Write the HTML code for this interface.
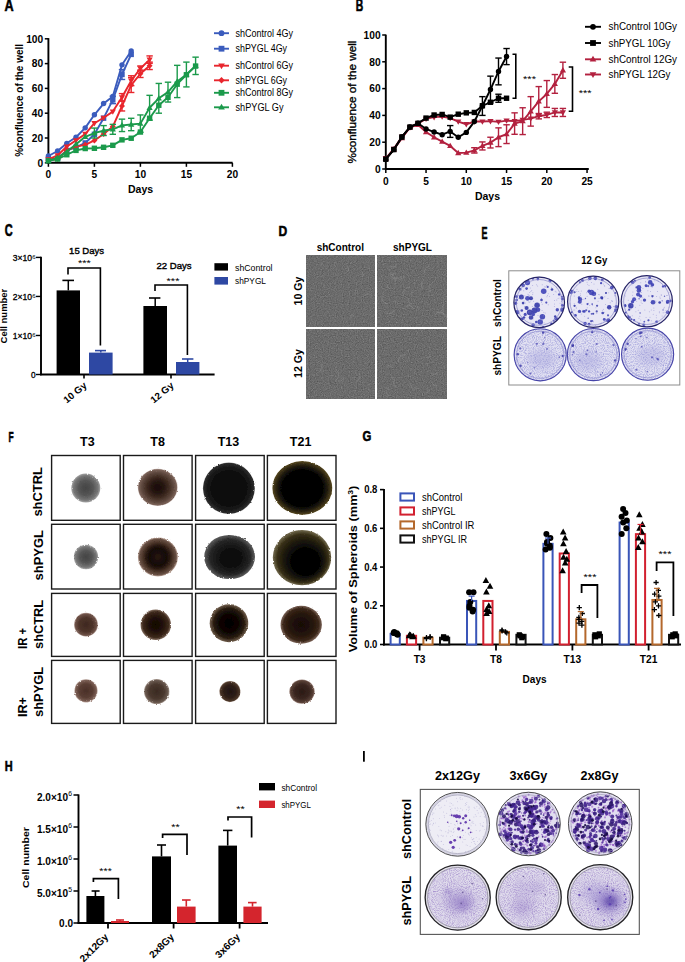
<!DOCTYPE html>
<html><head><meta charset="utf-8"><style>html,body{margin:0;padding:0;background:#fff;overflow:hidden}svg{display:block}</style></head>
<body><svg width="685" height="962" viewBox="0 0 685 962" font-family="Liberation Sans">
<rect width="685" height="962" fill="#fff"/>
<text x="0" y="0" font-size="100" font-weight="bold" stroke="#000" stroke-width="3.46" transform="matrix(0.12639 0 0 0.16232 4.400 11.100)">A</text>
<line x1="48.40" y1="38.10" x2="48.40" y2="163.60" stroke="#000" stroke-width="1.9"/>
<line x1="47.50" y1="162.80" x2="232.60" y2="162.80" stroke="#000" stroke-width="1.9"/>
<line x1="44.80" y1="162.80" x2="48.40" y2="162.80" stroke="#000" stroke-width="1.5"/>
<text x="43.2" y="166.5" font-size="10.2" font-weight="bold" text-anchor="end" fill="#000">0</text>
<line x1="44.80" y1="138.00" x2="48.40" y2="138.00" stroke="#000" stroke-width="1.5"/>
<text x="43.2" y="141.7" font-size="10.2" font-weight="bold" text-anchor="end" fill="#000">20</text>
<line x1="44.80" y1="113.20" x2="48.40" y2="113.20" stroke="#000" stroke-width="1.5"/>
<text x="43.2" y="116.90000000000002" font-size="10.2" font-weight="bold" text-anchor="end" fill="#000">40</text>
<line x1="44.80" y1="88.40" x2="48.40" y2="88.40" stroke="#000" stroke-width="1.5"/>
<text x="43.2" y="92.10000000000001" font-size="10.2" font-weight="bold" text-anchor="end" fill="#000">60</text>
<line x1="44.80" y1="63.60" x2="48.40" y2="63.60" stroke="#000" stroke-width="1.5"/>
<text x="43.2" y="67.30000000000001" font-size="10.2" font-weight="bold" text-anchor="end" fill="#000">80</text>
<line x1="44.80" y1="38.80" x2="48.40" y2="38.80" stroke="#000" stroke-width="1.5"/>
<text x="43.2" y="42.500000000000014" font-size="10.2" font-weight="bold" text-anchor="end" fill="#000">100</text>
<line x1="48.40" y1="162.80" x2="48.40" y2="166.80" stroke="#000" stroke-width="1.5"/>
<text x="48.4" y="177.6" font-size="10.2" font-weight="bold" text-anchor="middle" fill="#000">0</text>
<line x1="94.40" y1="162.80" x2="94.40" y2="166.80" stroke="#000" stroke-width="1.5"/>
<text x="94.4" y="177.6" font-size="10.2" font-weight="bold" text-anchor="middle" fill="#000">5</text>
<line x1="140.40" y1="162.80" x2="140.40" y2="166.80" stroke="#000" stroke-width="1.5"/>
<text x="140.4" y="177.6" font-size="10.2" font-weight="bold" text-anchor="middle" fill="#000">10</text>
<line x1="186.40" y1="162.80" x2="186.40" y2="166.80" stroke="#000" stroke-width="1.5"/>
<text x="186.4" y="177.6" font-size="10.2" font-weight="bold" text-anchor="middle" fill="#000">15</text>
<line x1="232.40" y1="162.80" x2="232.40" y2="166.80" stroke="#000" stroke-width="1.5"/>
<text x="232.4" y="177.6" font-size="10.2" font-weight="bold" text-anchor="middle" fill="#000">20</text>
<text x="140.6" y="192.8" font-size="10.5" font-weight="bold" text-anchor="middle" fill="#000">Days</text>
<text x="22.7" y="156.8" font-size="10.5" font-weight="bold" text-anchor="start" fill="#000" transform="rotate(-90 22.7 156.8)" textLength="112.8" lengthAdjust="spacingAndGlyphs">%confluence of the well</text>
<polyline points="48.40,155.98 57.60,151.02 66.80,143.33 76.00,137.26 85.20,127.83 94.40,114.81 103.60,103.53 112.80,96.46 122.00,64.84 131.20,50.95" fill="none" stroke="#3b5cbd" stroke-width="1.9" stroke-linejoin="round"/>
<circle cx="48.40" cy="155.98" r="2.7" fill="#3b5cbd"/>
<circle cx="57.60" cy="151.02" r="2.7" fill="#3b5cbd"/>
<circle cx="66.80" cy="143.33" r="2.7" fill="#3b5cbd"/>
<circle cx="76.00" cy="137.26" r="2.7" fill="#3b5cbd"/>
<circle cx="85.20" cy="127.83" r="2.7" fill="#3b5cbd"/>
<circle cx="94.40" cy="114.81" r="2.7" fill="#3b5cbd"/>
<circle cx="103.60" cy="103.53" r="2.7" fill="#3b5cbd"/>
<circle cx="112.80" cy="96.46" r="2.7" fill="#3b5cbd"/>
<circle cx="122.00" cy="64.84" r="2.7" fill="#3b5cbd"/>
<circle cx="131.20" cy="50.95" r="2.7" fill="#3b5cbd"/>
<polyline points="48.40,159.08 57.60,158.34 66.80,150.40 76.00,147.30 85.20,142.96 94.40,134.28 103.60,118.16 112.80,99.93 122.00,74.51 131.20,54.42" fill="none" stroke="#3b5cbd" stroke-width="1.9" stroke-linejoin="round"/>
<line x1="112.80" y1="96.21" x2="112.80" y2="103.65" stroke="#3b5cbd" stroke-width="1.4"/>
<line x1="109.60" y1="96.21" x2="116.00" y2="96.21" stroke="#3b5cbd" stroke-width="1.4"/>
<line x1="109.60" y1="103.65" x2="116.00" y2="103.65" stroke="#3b5cbd" stroke-width="1.4"/>
<line x1="122.00" y1="69.55" x2="122.00" y2="79.47" stroke="#3b5cbd" stroke-width="1.4"/>
<line x1="118.80" y1="69.55" x2="125.20" y2="69.55" stroke="#3b5cbd" stroke-width="1.4"/>
<line x1="118.80" y1="79.47" x2="125.20" y2="79.47" stroke="#3b5cbd" stroke-width="1.4"/>
<rect x="45.70" y="156.38" width="5.40" height="5.40" fill="#3b5cbd"/>
<rect x="54.90" y="155.64" width="5.40" height="5.40" fill="#3b5cbd"/>
<rect x="64.10" y="147.70" width="5.40" height="5.40" fill="#3b5cbd"/>
<rect x="73.30" y="144.60" width="5.40" height="5.40" fill="#3b5cbd"/>
<rect x="82.50" y="140.26" width="5.40" height="5.40" fill="#3b5cbd"/>
<rect x="91.70" y="131.58" width="5.40" height="5.40" fill="#3b5cbd"/>
<rect x="100.90" y="115.46" width="5.40" height="5.40" fill="#3b5cbd"/>
<rect x="110.10" y="97.23" width="5.40" height="5.40" fill="#3b5cbd"/>
<rect x="119.30" y="71.81" width="5.40" height="5.40" fill="#3b5cbd"/>
<rect x="128.50" y="51.72" width="5.40" height="5.40" fill="#3b5cbd"/>
<polyline points="48.40,159.45 57.60,155.36 66.80,146.56 76.00,140.36 85.20,134.03 94.40,123.24 103.60,117.79 112.80,111.59 122.00,97.33 131.20,80.71 140.40,68.44 149.60,59.63" fill="none" stroke="#e8262d" stroke-width="1.9" stroke-linejoin="round"/>
<line x1="122.00" y1="93.61" x2="122.00" y2="101.05" stroke="#e8262d" stroke-width="1.4"/>
<line x1="118.80" y1="93.61" x2="125.20" y2="93.61" stroke="#e8262d" stroke-width="1.4"/>
<line x1="118.80" y1="101.05" x2="125.20" y2="101.05" stroke="#e8262d" stroke-width="1.4"/>
<line x1="131.20" y1="75.75" x2="131.20" y2="85.67" stroke="#e8262d" stroke-width="1.4"/>
<line x1="128.00" y1="75.75" x2="134.40" y2="75.75" stroke="#e8262d" stroke-width="1.4"/>
<line x1="128.00" y1="85.67" x2="134.40" y2="85.67" stroke="#e8262d" stroke-width="1.4"/>
<line x1="140.40" y1="65.96" x2="140.40" y2="70.92" stroke="#e8262d" stroke-width="1.4"/>
<line x1="137.20" y1="65.96" x2="143.60" y2="65.96" stroke="#e8262d" stroke-width="1.4"/>
<line x1="137.20" y1="70.92" x2="143.60" y2="70.92" stroke="#e8262d" stroke-width="1.4"/>
<line x1="149.60" y1="55.91" x2="149.60" y2="63.35" stroke="#e8262d" stroke-width="1.4"/>
<line x1="146.40" y1="55.91" x2="152.80" y2="55.91" stroke="#e8262d" stroke-width="1.4"/>
<line x1="146.40" y1="63.35" x2="152.80" y2="63.35" stroke="#e8262d" stroke-width="1.4"/>
<polygon points="48.40,162.69 51.50,157.29 45.30,157.29" fill="#e8262d"/>
<polygon points="57.60,158.60 60.70,153.20 54.49,153.20" fill="#e8262d"/>
<polygon points="66.80,149.80 69.91,144.40 63.70,144.40" fill="#e8262d"/>
<polygon points="76.00,143.60 79.11,138.20 72.89,138.20" fill="#e8262d"/>
<polygon points="85.20,137.27 88.30,131.87 82.09,131.87" fill="#e8262d"/>
<polygon points="94.40,126.48 97.51,121.08 91.30,121.08" fill="#e8262d"/>
<polygon points="103.60,121.03 106.70,115.63 100.49,115.63" fill="#e8262d"/>
<polygon points="112.80,114.83 115.90,109.43 109.69,109.43" fill="#e8262d"/>
<polygon points="122.00,100.57 125.11,95.17 118.89,95.17" fill="#e8262d"/>
<polygon points="131.20,83.95 134.30,78.55 128.09,78.55" fill="#e8262d"/>
<polygon points="140.40,71.68 143.50,66.28 137.30,66.28" fill="#e8262d"/>
<polygon points="149.60,62.87 152.70,57.47 146.50,57.47" fill="#e8262d"/>
<polyline points="48.40,160.32 57.60,159.08 66.80,150.40 76.00,146.68 85.20,144.82 94.40,140.48 103.60,134.03 112.80,126.59 122.00,106.01 131.20,85.05 140.40,73.77 149.60,65.83" fill="none" stroke="#e8262d" stroke-width="1.9" stroke-linejoin="round"/>
<line x1="122.00" y1="101.05" x2="122.00" y2="110.97" stroke="#e8262d" stroke-width="1.4"/>
<line x1="118.80" y1="101.05" x2="125.20" y2="101.05" stroke="#e8262d" stroke-width="1.4"/>
<line x1="118.80" y1="110.97" x2="125.20" y2="110.97" stroke="#e8262d" stroke-width="1.4"/>
<line x1="131.20" y1="77.61" x2="131.20" y2="92.49" stroke="#e8262d" stroke-width="1.4"/>
<line x1="128.00" y1="77.61" x2="134.40" y2="77.61" stroke="#e8262d" stroke-width="1.4"/>
<line x1="128.00" y1="92.49" x2="134.40" y2="92.49" stroke="#e8262d" stroke-width="1.4"/>
<line x1="140.40" y1="70.05" x2="140.40" y2="77.49" stroke="#e8262d" stroke-width="1.4"/>
<line x1="137.20" y1="70.05" x2="143.60" y2="70.05" stroke="#e8262d" stroke-width="1.4"/>
<line x1="137.20" y1="77.49" x2="143.60" y2="77.49" stroke="#e8262d" stroke-width="1.4"/>
<line x1="149.60" y1="62.11" x2="149.60" y2="69.55" stroke="#e8262d" stroke-width="1.4"/>
<line x1="146.40" y1="62.11" x2="152.80" y2="62.11" stroke="#e8262d" stroke-width="1.4"/>
<line x1="146.40" y1="69.55" x2="152.80" y2="69.55" stroke="#e8262d" stroke-width="1.4"/>
<polygon points="48.40,157.35 51.37,160.32 48.40,163.29 45.43,160.32" fill="#e8262d"/>
<polygon points="57.60,156.11 60.57,159.08 57.60,162.05 54.63,159.08" fill="#e8262d"/>
<polygon points="66.80,147.43 69.77,150.40 66.80,153.37 63.83,150.40" fill="#e8262d"/>
<polygon points="76.00,143.71 78.97,146.68 76.00,149.65 73.03,146.68" fill="#e8262d"/>
<polygon points="85.20,141.85 88.17,144.82 85.20,147.79 82.23,144.82" fill="#e8262d"/>
<polygon points="94.40,137.51 97.37,140.48 94.40,143.45 91.43,140.48" fill="#e8262d"/>
<polygon points="103.60,131.06 106.57,134.03 103.60,137.00 100.63,134.03" fill="#e8262d"/>
<polygon points="112.80,123.62 115.77,126.59 112.80,129.56 109.83,126.59" fill="#e8262d"/>
<polygon points="122.00,103.04 124.97,106.01 122.00,108.98 119.03,106.01" fill="#e8262d"/>
<polygon points="131.20,82.08 134.17,85.05 131.20,88.02 128.23,85.05" fill="#e8262d"/>
<polygon points="140.40,70.80 143.37,73.77 140.40,76.74 137.43,73.77" fill="#e8262d"/>
<polygon points="149.60,62.86 152.57,65.83 149.60,68.80 146.63,65.83" fill="#e8262d"/>
<polyline points="48.40,160.82 57.60,159.08 66.80,154.74 76.00,150.40 85.20,148.54 94.40,148.29 103.60,147.30 112.80,145.32 122.00,139.86 131.20,138.25 140.40,132.05 149.60,118.28 158.80,105.26 168.00,97.33 177.20,84.18 186.40,74.76 195.60,66.08" fill="none" stroke="#1b9a4b" stroke-width="1.9" stroke-linejoin="round"/>
<rect x="45.70" y="158.12" width="5.40" height="5.40" fill="#1b9a4b"/>
<rect x="54.90" y="156.38" width="5.40" height="5.40" fill="#1b9a4b"/>
<rect x="64.10" y="152.04" width="5.40" height="5.40" fill="#1b9a4b"/>
<rect x="73.30" y="147.70" width="5.40" height="5.40" fill="#1b9a4b"/>
<rect x="82.50" y="145.84" width="5.40" height="5.40" fill="#1b9a4b"/>
<rect x="91.70" y="145.59" width="5.40" height="5.40" fill="#1b9a4b"/>
<rect x="100.90" y="144.60" width="5.40" height="5.40" fill="#1b9a4b"/>
<rect x="110.10" y="142.62" width="5.40" height="5.40" fill="#1b9a4b"/>
<rect x="119.30" y="137.16" width="5.40" height="5.40" fill="#1b9a4b"/>
<rect x="128.50" y="135.55" width="5.40" height="5.40" fill="#1b9a4b"/>
<rect x="137.70" y="129.35" width="5.40" height="5.40" fill="#1b9a4b"/>
<rect x="146.90" y="115.58" width="5.40" height="5.40" fill="#1b9a4b"/>
<rect x="156.10" y="102.56" width="5.40" height="5.40" fill="#1b9a4b"/>
<rect x="165.30" y="94.63" width="5.40" height="5.40" fill="#1b9a4b"/>
<rect x="174.50" y="81.48" width="5.40" height="5.40" fill="#1b9a4b"/>
<rect x="183.70" y="72.06" width="5.40" height="5.40" fill="#1b9a4b"/>
<rect x="192.90" y="63.38" width="5.40" height="5.40" fill="#1b9a4b"/>
<polyline points="48.40,160.82 57.60,157.84 66.80,151.64 76.00,144.20 85.20,136.76 94.40,133.04 103.60,130.56 112.80,129.32 122.00,125.35 131.20,124.48 140.40,123.62 149.60,107.74 158.80,98.32 168.00,92.12 177.20,81.46 186.40,74.51 195.60,65.83" fill="none" stroke="#1b9a4b" stroke-width="1.9" stroke-linejoin="round"/>
<line x1="94.40" y1="128.08" x2="94.40" y2="138.00" stroke="#1b9a4b" stroke-width="1.4"/>
<line x1="91.20" y1="128.08" x2="97.60" y2="128.08" stroke="#1b9a4b" stroke-width="1.4"/>
<line x1="91.20" y1="138.00" x2="97.60" y2="138.00" stroke="#1b9a4b" stroke-width="1.4"/>
<line x1="103.60" y1="125.60" x2="103.60" y2="135.52" stroke="#1b9a4b" stroke-width="1.4"/>
<line x1="100.40" y1="125.60" x2="106.80" y2="125.60" stroke="#1b9a4b" stroke-width="1.4"/>
<line x1="100.40" y1="135.52" x2="106.80" y2="135.52" stroke="#1b9a4b" stroke-width="1.4"/>
<line x1="112.80" y1="124.36" x2="112.80" y2="134.28" stroke="#1b9a4b" stroke-width="1.4"/>
<line x1="109.60" y1="124.36" x2="116.00" y2="124.36" stroke="#1b9a4b" stroke-width="1.4"/>
<line x1="109.60" y1="134.28" x2="116.00" y2="134.28" stroke="#1b9a4b" stroke-width="1.4"/>
<line x1="122.00" y1="119.15" x2="122.00" y2="131.55" stroke="#1b9a4b" stroke-width="1.4"/>
<line x1="118.80" y1="119.15" x2="125.20" y2="119.15" stroke="#1b9a4b" stroke-width="1.4"/>
<line x1="118.80" y1="131.55" x2="125.20" y2="131.55" stroke="#1b9a4b" stroke-width="1.4"/>
<line x1="131.20" y1="118.28" x2="131.20" y2="130.68" stroke="#1b9a4b" stroke-width="1.4"/>
<line x1="128.00" y1="118.28" x2="134.40" y2="118.28" stroke="#1b9a4b" stroke-width="1.4"/>
<line x1="128.00" y1="130.68" x2="134.40" y2="130.68" stroke="#1b9a4b" stroke-width="1.4"/>
<line x1="140.40" y1="114.94" x2="140.40" y2="132.30" stroke="#1b9a4b" stroke-width="1.4"/>
<line x1="137.20" y1="114.94" x2="143.60" y2="114.94" stroke="#1b9a4b" stroke-width="1.4"/>
<line x1="137.20" y1="132.30" x2="143.60" y2="132.30" stroke="#1b9a4b" stroke-width="1.4"/>
<line x1="149.60" y1="95.34" x2="149.60" y2="120.14" stroke="#1b9a4b" stroke-width="1.4"/>
<line x1="146.40" y1="95.34" x2="152.80" y2="95.34" stroke="#1b9a4b" stroke-width="1.4"/>
<line x1="146.40" y1="120.14" x2="152.80" y2="120.14" stroke="#1b9a4b" stroke-width="1.4"/>
<line x1="158.80" y1="83.44" x2="158.80" y2="113.20" stroke="#1b9a4b" stroke-width="1.4"/>
<line x1="155.60" y1="83.44" x2="162.00" y2="83.44" stroke="#1b9a4b" stroke-width="1.4"/>
<line x1="155.60" y1="113.20" x2="162.00" y2="113.20" stroke="#1b9a4b" stroke-width="1.4"/>
<line x1="168.00" y1="82.20" x2="168.00" y2="102.04" stroke="#1b9a4b" stroke-width="1.4"/>
<line x1="164.80" y1="82.20" x2="171.20" y2="82.20" stroke="#1b9a4b" stroke-width="1.4"/>
<line x1="164.80" y1="102.04" x2="171.20" y2="102.04" stroke="#1b9a4b" stroke-width="1.4"/>
<line x1="177.20" y1="65.34" x2="177.20" y2="97.58" stroke="#1b9a4b" stroke-width="1.4"/>
<line x1="174.00" y1="65.34" x2="180.40" y2="65.34" stroke="#1b9a4b" stroke-width="1.4"/>
<line x1="174.00" y1="97.58" x2="180.40" y2="97.58" stroke="#1b9a4b" stroke-width="1.4"/>
<line x1="186.40" y1="62.11" x2="186.40" y2="86.91" stroke="#1b9a4b" stroke-width="1.4"/>
<line x1="183.20" y1="62.11" x2="189.60" y2="62.11" stroke="#1b9a4b" stroke-width="1.4"/>
<line x1="183.20" y1="86.91" x2="189.60" y2="86.91" stroke="#1b9a4b" stroke-width="1.4"/>
<line x1="195.60" y1="57.15" x2="195.60" y2="74.51" stroke="#1b9a4b" stroke-width="1.4"/>
<line x1="192.40" y1="57.15" x2="198.80" y2="57.15" stroke="#1b9a4b" stroke-width="1.4"/>
<line x1="192.40" y1="74.51" x2="198.80" y2="74.51" stroke="#1b9a4b" stroke-width="1.4"/>
<polygon points="48.40,157.58 51.50,162.98 45.30,162.98" fill="#1b9a4b"/>
<polygon points="57.60,154.60 60.70,160.00 54.49,160.00" fill="#1b9a4b"/>
<polygon points="66.80,148.40 69.91,153.80 63.70,153.80" fill="#1b9a4b"/>
<polygon points="76.00,140.96 79.11,146.36 72.89,146.36" fill="#1b9a4b"/>
<polygon points="85.20,133.52 88.30,138.92 82.09,138.92" fill="#1b9a4b"/>
<polygon points="94.40,129.80 97.51,135.20 91.30,135.20" fill="#1b9a4b"/>
<polygon points="103.60,127.32 106.70,132.72 100.49,132.72" fill="#1b9a4b"/>
<polygon points="112.80,126.08 115.90,131.48 109.69,131.48" fill="#1b9a4b"/>
<polygon points="122.00,122.11 125.11,127.51 118.89,127.51" fill="#1b9a4b"/>
<polygon points="131.20,121.24 134.30,126.64 128.09,126.64" fill="#1b9a4b"/>
<polygon points="140.40,120.38 143.50,125.78 137.30,125.78" fill="#1b9a4b"/>
<polygon points="149.60,104.50 152.70,109.90 146.50,109.90" fill="#1b9a4b"/>
<polygon points="158.80,95.08 161.90,100.48 155.69,100.48" fill="#1b9a4b"/>
<polygon points="168.00,88.88 171.10,94.28 164.90,94.28" fill="#1b9a4b"/>
<polygon points="177.20,78.22 180.30,83.62 174.09,83.62" fill="#1b9a4b"/>
<polygon points="186.40,71.27 189.50,76.67 183.30,76.67" fill="#1b9a4b"/>
<polygon points="195.60,62.59 198.70,67.99 192.50,67.99" fill="#1b9a4b"/>
<line x1="214.00" y1="33.20" x2="229.00" y2="33.20" stroke="#3b5cbd" stroke-width="1.9"/>
<circle cx="221.50" cy="33.20" r="2.9" fill="#3b5cbd"/>
<text x="235.5" y="36.800000000000004" font-size="10" text-anchor="start" fill="#000" textLength="57.5" lengthAdjust="spacingAndGlyphs">shControl 4Gy</text>
<line x1="214.00" y1="48.70" x2="229.00" y2="48.70" stroke="#3b5cbd" stroke-width="1.9"/>
<rect x="218.60" y="45.80" width="5.80" height="5.80" fill="#3b5cbd"/>
<text x="235.5" y="52.300000000000004" font-size="10" text-anchor="start" fill="#000" textLength="51.5" lengthAdjust="spacingAndGlyphs">shPYGL 4Gy</text>
<line x1="214.00" y1="65.70" x2="229.00" y2="65.70" stroke="#e8262d" stroke-width="1.9"/>
<polygon points="221.50,69.18 224.84,63.38 218.16,63.38" fill="#e8262d"/>
<text x="235.5" y="69.3" font-size="10" text-anchor="start" fill="#000" textLength="57.5" lengthAdjust="spacingAndGlyphs">shControl 6Gy</text>
<line x1="214.00" y1="80.30" x2="229.00" y2="80.30" stroke="#e8262d" stroke-width="1.9"/>
<polygon points="221.50,77.11 224.69,80.30 221.50,83.49 218.31,80.30" fill="#e8262d"/>
<text x="235.5" y="83.89999999999999" font-size="10" text-anchor="start" fill="#000" textLength="51.5" lengthAdjust="spacingAndGlyphs">shPYGL 6Gy</text>
<line x1="214.00" y1="92.80" x2="229.00" y2="92.80" stroke="#1b9a4b" stroke-width="1.9"/>
<rect x="218.60" y="89.90" width="5.80" height="5.80" fill="#1b9a4b"/>
<text x="235.5" y="96.39999999999999" font-size="10" text-anchor="start" fill="#000" textLength="57.5" lengthAdjust="spacingAndGlyphs">shControl 8Gy</text>
<line x1="214.00" y1="107.30" x2="229.00" y2="107.30" stroke="#1b9a4b" stroke-width="1.9"/>
<polygon points="221.50,103.82 224.84,109.62 218.16,109.62" fill="#1b9a4b"/>
<text x="235.5" y="110.89999999999999" font-size="10" text-anchor="start" fill="#000" textLength="48" lengthAdjust="spacingAndGlyphs">shPYGL Gy</text>
<text x="0" y="0" font-size="100" font-weight="bold" stroke="#000" stroke-width="3.75" transform="matrix(0.10417 0 0 0.16232 355.800 11.100)">B</text>
<line x1="385.80" y1="34.60" x2="385.80" y2="169.80" stroke="#000" stroke-width="1.9"/>
<line x1="385.00" y1="169.00" x2="588.80" y2="169.00" stroke="#000" stroke-width="1.9"/>
<line x1="382.20" y1="169.00" x2="385.80" y2="169.00" stroke="#000" stroke-width="1.5"/>
<text x="380.6" y="172.7" font-size="10.2" font-weight="bold" text-anchor="end" fill="#000">0</text>
<line x1="382.20" y1="142.20" x2="385.80" y2="142.20" stroke="#000" stroke-width="1.5"/>
<text x="380.6" y="145.89999999999998" font-size="10.2" font-weight="bold" text-anchor="end" fill="#000">20</text>
<line x1="382.20" y1="115.40" x2="385.80" y2="115.40" stroke="#000" stroke-width="1.5"/>
<text x="380.6" y="119.10000000000001" font-size="10.2" font-weight="bold" text-anchor="end" fill="#000">40</text>
<line x1="382.20" y1="88.60" x2="385.80" y2="88.60" stroke="#000" stroke-width="1.5"/>
<text x="380.6" y="92.3" font-size="10.2" font-weight="bold" text-anchor="end" fill="#000">60</text>
<line x1="382.20" y1="61.80" x2="385.80" y2="61.80" stroke="#000" stroke-width="1.5"/>
<text x="380.6" y="65.5" font-size="10.2" font-weight="bold" text-anchor="end" fill="#000">80</text>
<line x1="382.20" y1="35.00" x2="385.80" y2="35.00" stroke="#000" stroke-width="1.5"/>
<text x="380.6" y="38.7" font-size="10.2" font-weight="bold" text-anchor="end" fill="#000">100</text>
<line x1="385.80" y1="169.00" x2="385.80" y2="173.00" stroke="#000" stroke-width="1.5"/>
<text x="385.8" y="185.0" font-size="10.2" font-weight="bold" text-anchor="middle" fill="#000">0</text>
<line x1="426.05" y1="169.00" x2="426.05" y2="173.00" stroke="#000" stroke-width="1.5"/>
<text x="426.05" y="185.0" font-size="10.2" font-weight="bold" text-anchor="middle" fill="#000">5</text>
<line x1="466.30" y1="169.00" x2="466.30" y2="173.00" stroke="#000" stroke-width="1.5"/>
<text x="466.3" y="185.0" font-size="10.2" font-weight="bold" text-anchor="middle" fill="#000">10</text>
<line x1="506.55" y1="169.00" x2="506.55" y2="173.00" stroke="#000" stroke-width="1.5"/>
<text x="506.55" y="185.0" font-size="10.2" font-weight="bold" text-anchor="middle" fill="#000">15</text>
<line x1="546.80" y1="169.00" x2="546.80" y2="173.00" stroke="#000" stroke-width="1.5"/>
<text x="546.8" y="185.0" font-size="10.2" font-weight="bold" text-anchor="middle" fill="#000">20</text>
<line x1="587.05" y1="169.00" x2="587.05" y2="173.00" stroke="#000" stroke-width="1.5"/>
<text x="587.0500000000001" y="185.0" font-size="10.2" font-weight="bold" text-anchor="middle" fill="#000">25</text>
<text x="487.5" y="200.4" font-size="10.5" font-weight="bold" text-anchor="middle" fill="#000">Days</text>
<text x="356.4" y="163.5" font-size="11.7" text-anchor="start" fill="#000" transform="rotate(-90 356.4 163.5)" textLength="122.9" lengthAdjust="spacingAndGlyphs" stroke="#000" stroke-width="0.35">%confluence of the well</text>
<polyline points="385.80,158.28 393.85,148.90 401.90,136.84 409.95,127.46 418.00,123.44 426.05,118.88 434.10,117.14 442.15,116.61 450.20,118.08 458.25,121.56 466.30,124.24 474.35,121.56 482.40,121.56 490.45,121.16 498.50,121.83 506.55,120.63 514.60,121.16 522.65,119.82 530.70,118.62 538.75,116.20 546.80,114.86 554.85,112.45 562.90,112.45" fill="none" stroke="#b3213f" stroke-width="1.9" stroke-linejoin="round"/>
<line x1="538.75" y1="113.52" x2="538.75" y2="118.88" stroke="#b3213f" stroke-width="1.4"/>
<line x1="535.55" y1="113.52" x2="541.95" y2="113.52" stroke="#b3213f" stroke-width="1.4"/>
<line x1="535.55" y1="118.88" x2="541.95" y2="118.88" stroke="#b3213f" stroke-width="1.4"/>
<line x1="546.80" y1="112.18" x2="546.80" y2="117.54" stroke="#b3213f" stroke-width="1.4"/>
<line x1="543.60" y1="112.18" x2="550.00" y2="112.18" stroke="#b3213f" stroke-width="1.4"/>
<line x1="543.60" y1="117.54" x2="550.00" y2="117.54" stroke="#b3213f" stroke-width="1.4"/>
<line x1="554.85" y1="108.43" x2="554.85" y2="116.47" stroke="#b3213f" stroke-width="1.4"/>
<line x1="551.65" y1="108.43" x2="558.05" y2="108.43" stroke="#b3213f" stroke-width="1.4"/>
<line x1="551.65" y1="116.47" x2="558.05" y2="116.47" stroke="#b3213f" stroke-width="1.4"/>
<line x1="562.90" y1="108.43" x2="562.90" y2="116.47" stroke="#b3213f" stroke-width="1.4"/>
<line x1="559.70" y1="108.43" x2="566.10" y2="108.43" stroke="#b3213f" stroke-width="1.4"/>
<line x1="559.70" y1="116.47" x2="566.10" y2="116.47" stroke="#b3213f" stroke-width="1.4"/>
<polygon points="385.80,161.52 388.91,156.12 382.69,156.12" fill="#b3213f"/>
<polygon points="393.85,152.14 396.96,146.74 390.75,146.74" fill="#b3213f"/>
<polygon points="401.90,140.08 405.01,134.68 398.80,134.68" fill="#b3213f"/>
<polygon points="409.95,130.70 413.06,125.30 406.84,125.30" fill="#b3213f"/>
<polygon points="418.00,126.68 421.11,121.28 414.89,121.28" fill="#b3213f"/>
<polygon points="426.05,122.12 429.16,116.72 422.94,116.72" fill="#b3213f"/>
<polygon points="434.10,120.38 437.21,114.98 431.00,114.98" fill="#b3213f"/>
<polygon points="442.15,119.85 445.26,114.45 439.05,114.45" fill="#b3213f"/>
<polygon points="450.20,121.32 453.31,115.92 447.10,115.92" fill="#b3213f"/>
<polygon points="458.25,124.80 461.36,119.40 455.14,119.40" fill="#b3213f"/>
<polygon points="466.30,127.48 469.41,122.08 463.19,122.08" fill="#b3213f"/>
<polygon points="474.35,124.80 477.46,119.40 471.25,119.40" fill="#b3213f"/>
<polygon points="482.40,124.80 485.51,119.40 479.30,119.40" fill="#b3213f"/>
<polygon points="490.45,124.40 493.56,119.00 487.35,119.00" fill="#b3213f"/>
<polygon points="498.50,125.07 501.61,119.67 495.39,119.67" fill="#b3213f"/>
<polygon points="506.55,123.87 509.66,118.47 503.44,118.47" fill="#b3213f"/>
<polygon points="514.60,124.40 517.71,119.00 511.50,119.00" fill="#b3213f"/>
<polygon points="522.65,123.06 525.76,117.66 519.55,117.66" fill="#b3213f"/>
<polygon points="530.70,121.86 533.81,116.46 527.60,116.46" fill="#b3213f"/>
<polygon points="538.75,119.44 541.86,114.04 535.64,114.04" fill="#b3213f"/>
<polygon points="546.80,118.10 549.90,112.70 543.69,112.70" fill="#b3213f"/>
<polygon points="554.85,115.69 557.96,110.29 551.75,110.29" fill="#b3213f"/>
<polygon points="562.90,115.69 566.01,110.29 559.80,110.29" fill="#b3213f"/>
<polyline points="385.80,158.95 393.85,149.57 401.90,138.18 409.95,127.46 418.00,124.78 426.05,132.02 434.10,137.24 442.15,141.66 450.20,145.95 458.25,153.05 466.30,152.65 474.35,150.37 482.40,145.95 490.45,142.60 498.50,137.24 506.55,134.16 514.60,123.57 522.65,121.16 530.70,111.38 538.75,101.33 546.80,93.96 554.85,83.91 562.90,70.24" fill="none" stroke="#b3213f" stroke-width="1.9" stroke-linejoin="round"/>
<line x1="474.35" y1="147.69" x2="474.35" y2="153.05" stroke="#b3213f" stroke-width="1.4"/>
<line x1="471.15" y1="147.69" x2="477.55" y2="147.69" stroke="#b3213f" stroke-width="1.4"/>
<line x1="471.15" y1="153.05" x2="477.55" y2="153.05" stroke="#b3213f" stroke-width="1.4"/>
<line x1="482.40" y1="141.93" x2="482.40" y2="149.97" stroke="#b3213f" stroke-width="1.4"/>
<line x1="479.20" y1="141.93" x2="485.60" y2="141.93" stroke="#b3213f" stroke-width="1.4"/>
<line x1="479.20" y1="149.97" x2="485.60" y2="149.97" stroke="#b3213f" stroke-width="1.4"/>
<line x1="490.45" y1="137.24" x2="490.45" y2="147.96" stroke="#b3213f" stroke-width="1.4"/>
<line x1="487.25" y1="137.24" x2="493.65" y2="137.24" stroke="#b3213f" stroke-width="1.4"/>
<line x1="487.25" y1="147.96" x2="493.65" y2="147.96" stroke="#b3213f" stroke-width="1.4"/>
<line x1="498.50" y1="127.86" x2="498.50" y2="146.62" stroke="#b3213f" stroke-width="1.4"/>
<line x1="495.30" y1="127.86" x2="501.70" y2="127.86" stroke="#b3213f" stroke-width="1.4"/>
<line x1="495.30" y1="146.62" x2="501.70" y2="146.62" stroke="#b3213f" stroke-width="1.4"/>
<line x1="506.55" y1="124.78" x2="506.55" y2="143.54" stroke="#b3213f" stroke-width="1.4"/>
<line x1="503.35" y1="124.78" x2="509.75" y2="124.78" stroke="#b3213f" stroke-width="1.4"/>
<line x1="503.35" y1="143.54" x2="509.75" y2="143.54" stroke="#b3213f" stroke-width="1.4"/>
<line x1="514.60" y1="112.85" x2="514.60" y2="134.29" stroke="#b3213f" stroke-width="1.4"/>
<line x1="511.40" y1="112.85" x2="517.80" y2="112.85" stroke="#b3213f" stroke-width="1.4"/>
<line x1="511.40" y1="134.29" x2="517.80" y2="134.29" stroke="#b3213f" stroke-width="1.4"/>
<line x1="522.65" y1="107.76" x2="522.65" y2="134.56" stroke="#b3213f" stroke-width="1.4"/>
<line x1="519.45" y1="107.76" x2="525.85" y2="107.76" stroke="#b3213f" stroke-width="1.4"/>
<line x1="519.45" y1="134.56" x2="525.85" y2="134.56" stroke="#b3213f" stroke-width="1.4"/>
<line x1="530.70" y1="96.64" x2="530.70" y2="126.12" stroke="#b3213f" stroke-width="1.4"/>
<line x1="527.50" y1="96.64" x2="533.90" y2="96.64" stroke="#b3213f" stroke-width="1.4"/>
<line x1="527.50" y1="126.12" x2="533.90" y2="126.12" stroke="#b3213f" stroke-width="1.4"/>
<line x1="538.75" y1="86.59" x2="538.75" y2="116.07" stroke="#b3213f" stroke-width="1.4"/>
<line x1="535.55" y1="86.59" x2="541.95" y2="86.59" stroke="#b3213f" stroke-width="1.4"/>
<line x1="535.55" y1="116.07" x2="541.95" y2="116.07" stroke="#b3213f" stroke-width="1.4"/>
<line x1="546.80" y1="80.56" x2="546.80" y2="107.36" stroke="#b3213f" stroke-width="1.4"/>
<line x1="543.60" y1="80.56" x2="550.00" y2="80.56" stroke="#b3213f" stroke-width="1.4"/>
<line x1="543.60" y1="107.36" x2="550.00" y2="107.36" stroke="#b3213f" stroke-width="1.4"/>
<line x1="554.85" y1="74.53" x2="554.85" y2="93.29" stroke="#b3213f" stroke-width="1.4"/>
<line x1="551.65" y1="74.53" x2="558.05" y2="74.53" stroke="#b3213f" stroke-width="1.4"/>
<line x1="551.65" y1="93.29" x2="558.05" y2="93.29" stroke="#b3213f" stroke-width="1.4"/>
<line x1="562.90" y1="62.20" x2="562.90" y2="78.28" stroke="#b3213f" stroke-width="1.4"/>
<line x1="559.70" y1="62.20" x2="566.10" y2="62.20" stroke="#b3213f" stroke-width="1.4"/>
<line x1="559.70" y1="78.28" x2="566.10" y2="78.28" stroke="#b3213f" stroke-width="1.4"/>
<polygon points="385.80,155.71 388.91,161.11 382.69,161.11" fill="#b3213f"/>
<polygon points="393.85,146.33 396.96,151.73 390.75,151.73" fill="#b3213f"/>
<polygon points="401.90,134.94 405.01,140.34 398.80,140.34" fill="#b3213f"/>
<polygon points="409.95,124.22 413.06,129.62 406.84,129.62" fill="#b3213f"/>
<polygon points="418.00,121.54 421.11,126.94 414.89,126.94" fill="#b3213f"/>
<polygon points="426.05,128.78 429.16,134.18 422.94,134.18" fill="#b3213f"/>
<polygon points="434.10,134.00 437.21,139.40 431.00,139.40" fill="#b3213f"/>
<polygon points="442.15,138.42 445.26,143.82 439.05,143.82" fill="#b3213f"/>
<polygon points="450.20,142.71 453.31,148.11 447.10,148.11" fill="#b3213f"/>
<polygon points="458.25,149.81 461.36,155.21 455.14,155.21" fill="#b3213f"/>
<polygon points="466.30,149.41 469.41,154.81 463.19,154.81" fill="#b3213f"/>
<polygon points="474.35,147.13 477.46,152.53 471.25,152.53" fill="#b3213f"/>
<polygon points="482.40,142.71 485.51,148.11 479.30,148.11" fill="#b3213f"/>
<polygon points="490.45,139.36 493.56,144.76 487.35,144.76" fill="#b3213f"/>
<polygon points="498.50,134.00 501.61,139.40 495.39,139.40" fill="#b3213f"/>
<polygon points="506.55,130.92 509.66,136.32 503.44,136.32" fill="#b3213f"/>
<polygon points="514.60,120.33 517.71,125.73 511.50,125.73" fill="#b3213f"/>
<polygon points="522.65,117.92 525.76,123.32 519.55,123.32" fill="#b3213f"/>
<polygon points="530.70,108.14 533.81,113.54 527.60,113.54" fill="#b3213f"/>
<polygon points="538.75,98.09 541.86,103.49 535.64,103.49" fill="#b3213f"/>
<polygon points="546.80,90.72 549.90,96.12 543.69,96.12" fill="#b3213f"/>
<polygon points="554.85,80.67 557.96,86.07 551.75,86.07" fill="#b3213f"/>
<polygon points="562.90,67.00 566.01,72.40 559.80,72.40" fill="#b3213f"/>
<polyline points="385.80,159.22 393.85,149.57 401.90,136.97 409.95,127.06 418.00,123.31 426.05,118.08 434.10,115.00 442.15,114.46 450.20,117.14 458.25,114.19 466.30,112.85 474.35,112.45 482.40,105.75 490.45,102.27 498.50,98.25 506.55,98.25" fill="none" stroke="#000" stroke-width="1.9" stroke-linejoin="round"/>
<line x1="498.50" y1="94.23" x2="498.50" y2="102.27" stroke="#000" stroke-width="1.4"/>
<line x1="495.30" y1="94.23" x2="501.70" y2="94.23" stroke="#000" stroke-width="1.4"/>
<line x1="495.30" y1="102.27" x2="501.70" y2="102.27" stroke="#000" stroke-width="1.4"/>
<rect x="383.10" y="156.52" width="5.40" height="5.40" fill="#000"/>
<rect x="391.15" y="146.87" width="5.40" height="5.40" fill="#000"/>
<rect x="399.20" y="134.27" width="5.40" height="5.40" fill="#000"/>
<rect x="407.25" y="124.36" width="5.40" height="5.40" fill="#000"/>
<rect x="415.30" y="120.61" width="5.40" height="5.40" fill="#000"/>
<rect x="423.35" y="115.38" width="5.40" height="5.40" fill="#000"/>
<rect x="431.40" y="112.30" width="5.40" height="5.40" fill="#000"/>
<rect x="439.45" y="111.76" width="5.40" height="5.40" fill="#000"/>
<rect x="447.50" y="114.44" width="5.40" height="5.40" fill="#000"/>
<rect x="455.55" y="111.49" width="5.40" height="5.40" fill="#000"/>
<rect x="463.60" y="110.15" width="5.40" height="5.40" fill="#000"/>
<rect x="471.65" y="109.75" width="5.40" height="5.40" fill="#000"/>
<rect x="479.70" y="103.05" width="5.40" height="5.40" fill="#000"/>
<rect x="487.75" y="99.57" width="5.40" height="5.40" fill="#000"/>
<rect x="495.80" y="95.55" width="5.40" height="5.40" fill="#000"/>
<rect x="503.85" y="95.55" width="5.40" height="5.40" fill="#000"/>
<polyline points="385.80,159.22 393.85,149.57 401.90,136.97 409.95,127.06 418.00,123.31 426.05,128.93 434.10,132.02 442.15,134.70 450.20,131.48 458.25,137.24 466.30,132.42 474.35,121.56 482.40,106.02 490.45,89.54 498.50,71.45 506.55,56.57" fill="none" stroke="#000" stroke-width="1.9" stroke-linejoin="round"/>
<line x1="450.20" y1="125.58" x2="450.20" y2="137.38" stroke="#000" stroke-width="1.4"/>
<line x1="447.00" y1="125.58" x2="453.40" y2="125.58" stroke="#000" stroke-width="1.4"/>
<line x1="447.00" y1="137.38" x2="453.40" y2="137.38" stroke="#000" stroke-width="1.4"/>
<line x1="482.40" y1="96.64" x2="482.40" y2="115.40" stroke="#000" stroke-width="1.4"/>
<line x1="479.20" y1="96.64" x2="485.60" y2="96.64" stroke="#000" stroke-width="1.4"/>
<line x1="479.20" y1="115.40" x2="485.60" y2="115.40" stroke="#000" stroke-width="1.4"/>
<line x1="490.45" y1="76.14" x2="490.45" y2="102.94" stroke="#000" stroke-width="1.4"/>
<line x1="487.25" y1="76.14" x2="493.65" y2="76.14" stroke="#000" stroke-width="1.4"/>
<line x1="487.25" y1="102.94" x2="493.65" y2="102.94" stroke="#000" stroke-width="1.4"/>
<line x1="498.50" y1="58.05" x2="498.50" y2="84.85" stroke="#000" stroke-width="1.4"/>
<line x1="495.30" y1="58.05" x2="501.70" y2="58.05" stroke="#000" stroke-width="1.4"/>
<line x1="495.30" y1="84.85" x2="501.70" y2="84.85" stroke="#000" stroke-width="1.4"/>
<line x1="506.55" y1="48.53" x2="506.55" y2="64.61" stroke="#000" stroke-width="1.4"/>
<line x1="503.35" y1="48.53" x2="509.75" y2="48.53" stroke="#000" stroke-width="1.4"/>
<line x1="503.35" y1="64.61" x2="509.75" y2="64.61" stroke="#000" stroke-width="1.4"/>
<circle cx="385.80" cy="159.22" r="2.7" fill="#000"/>
<circle cx="393.85" cy="149.57" r="2.7" fill="#000"/>
<circle cx="401.90" cy="136.97" r="2.7" fill="#000"/>
<circle cx="409.95" cy="127.06" r="2.7" fill="#000"/>
<circle cx="418.00" cy="123.31" r="2.7" fill="#000"/>
<circle cx="426.05" cy="128.93" r="2.7" fill="#000"/>
<circle cx="434.10" cy="132.02" r="2.7" fill="#000"/>
<circle cx="442.15" cy="134.70" r="2.7" fill="#000"/>
<circle cx="450.20" cy="131.48" r="2.7" fill="#000"/>
<circle cx="458.25" cy="137.24" r="2.7" fill="#000"/>
<circle cx="466.30" cy="132.42" r="2.7" fill="#000"/>
<circle cx="474.35" cy="121.56" r="2.7" fill="#000"/>
<circle cx="482.40" cy="106.02" r="2.7" fill="#000"/>
<circle cx="490.45" cy="89.54" r="2.7" fill="#000"/>
<circle cx="498.50" cy="71.45" r="2.7" fill="#000"/>
<circle cx="506.55" cy="56.57" r="2.7" fill="#000"/>
<polyline points="512.5,54.3 515.8,54.3 515.8,98.3 512.5,98.3" fill="none" stroke="#000" stroke-width="1.6"/>
<polyline points="568.7,67 572.5,67 572.5,111.2 568.7,111.2" fill="none" stroke="#000" stroke-width="1.6"/>
<text x="529.5" y="82.2" font-size="8.5" text-anchor="middle" fill="#000" textLength="13" lengthAdjust="spacingAndGlyphs">***</text>
<text x="585.2" y="96" font-size="8.5" text-anchor="middle" fill="#000" textLength="13" lengthAdjust="spacingAndGlyphs">***</text>
<line x1="585.00" y1="26.80" x2="601.00" y2="26.80" stroke="#000" stroke-width="1.9"/>
<circle cx="593.00" cy="26.80" r="2.9" fill="#000"/>
<text x="608.5" y="30.400000000000002" font-size="10" text-anchor="start" fill="#000" textLength="68.5" lengthAdjust="spacingAndGlyphs">shControl 10Gy</text>
<line x1="585.00" y1="43.00" x2="601.00" y2="43.00" stroke="#000" stroke-width="1.9"/>
<rect x="590.10" y="40.10" width="5.80" height="5.80" fill="#000"/>
<text x="608.5" y="46.6" font-size="10" text-anchor="start" fill="#000" textLength="62" lengthAdjust="spacingAndGlyphs">shPYGL 10Gy</text>
<line x1="585.00" y1="59.30" x2="601.00" y2="59.30" stroke="#b3213f" stroke-width="1.9"/>
<polygon points="593.00,55.82 596.34,61.62 589.66,61.62" fill="#b3213f"/>
<text x="608.5" y="62.9" font-size="10" text-anchor="start" fill="#000" textLength="68.5" lengthAdjust="spacingAndGlyphs">shControl 12Gy</text>
<line x1="585.00" y1="74.50" x2="601.00" y2="74.50" stroke="#b3213f" stroke-width="1.9"/>
<polygon points="593.00,77.98 596.34,72.18 589.66,72.18" fill="#b3213f"/>
<text x="608.5" y="78.1" font-size="10" text-anchor="start" fill="#000" textLength="62" lengthAdjust="spacingAndGlyphs">shPYGL 12Gy</text>
<filter id="mottle0" x="0" y="0" width="100%" height="100%" color-interpolation-filters="sRGB"><feTurbulence type="fractalNoise" baseFrequency="0.95" numOctaves="2" seed="8"/><feColorMatrix type="matrix" values="0 0 0 0 0.6  0 0 0 0 0.5  0 0 0 0 0.78  1.6 0 0 0 -0.62"/></filter>
<filter id="mottle1" x="0" y="0" width="100%" height="100%" color-interpolation-filters="sRGB"><feTurbulence type="fractalNoise" baseFrequency="0.9" numOctaves="2" seed="9"/><feColorMatrix type="matrix" values="0 0 0 0 0.46  0 0 0 0 0.46  0 0 0 0 0.8  1.3 0 0 0 -0.52"/></filter>
<filter id="mottle2" x="0" y="0" width="100%" height="100%" color-interpolation-filters="sRGB"><feTurbulence type="fractalNoise" baseFrequency="0.9" numOctaves="2" seed="10"/><feColorMatrix type="matrix" values="0 0 0 0 0.5  0 0 0 0 0.45  0 0 0 0 0.75  1.6 0 0 0 -0.75"/></filter>
<filter id="blur1" x="-50%" y="-50%" width="200%" height="200%"><feGaussianBlur stdDeviation="1"/></filter>
<filter id="blur2" x="-50%" y="-50%" width="200%" height="200%"><feGaussianBlur stdDeviation="2"/></filter>
<filter id="blur3" x="-50%" y="-50%" width="200%" height="200%"><feGaussianBlur stdDeviation="3"/></filter>
<filter id="blur5" x="-50%" y="-50%" width="200%" height="200%"><feGaussianBlur stdDeviation="5"/></filter>
<text x="0" y="0" font-size="100" font-weight="bold" stroke="#000" stroke-width="3.68" transform="matrix(0.10972 0 0 0.16197 4.700 236.238)">C</text>
<line x1="41.00" y1="256.80" x2="41.00" y2="375.30" stroke="#000" stroke-width="1.9"/>
<line x1="40.10" y1="374.50" x2="214.60" y2="374.50" stroke="#000" stroke-width="1.9"/>
<line x1="36.00" y1="374.50" x2="41.00" y2="374.50" stroke="#000" stroke-width="1.4"/>
<text x="35.5" y="377.5" font-size="8.3" text-anchor="end" fill="#000" stroke="#000" stroke-width="0.3">0</text>
<line x1="36.00" y1="335.47" x2="41.00" y2="335.47" stroke="#000" stroke-width="1.4"/>
<text x="32" y="339.47" font-size="8.3" text-anchor="end" fill="#000" textLength="19.3" lengthAdjust="spacingAndGlyphs" stroke="#000" stroke-width="0.3">1×10</text>
<text x="32.2" y="336.77000000000004" font-size="6.2" text-anchor="start" fill="#000">6</text>
<line x1="36.00" y1="296.44" x2="41.00" y2="296.44" stroke="#000" stroke-width="1.4"/>
<text x="32" y="300.44" font-size="8.3" text-anchor="end" fill="#000" textLength="19.3" lengthAdjust="spacingAndGlyphs" stroke="#000" stroke-width="0.3">2×10</text>
<text x="32.2" y="297.74" font-size="6.2" text-anchor="start" fill="#000">6</text>
<line x1="36.00" y1="257.41" x2="41.00" y2="257.41" stroke="#000" stroke-width="1.4"/>
<text x="32" y="261.40999999999997" font-size="8.3" text-anchor="end" fill="#000" textLength="19.3" lengthAdjust="spacingAndGlyphs" stroke="#000" stroke-width="0.3">3×10</text>
<text x="32.2" y="258.71" font-size="6.2" text-anchor="start" fill="#000">6</text>
<line x1="68.30" y1="280.40" x2="68.30" y2="290.40" stroke="#000" stroke-width="1.5"/>
<line x1="62.40" y1="280.40" x2="74.00" y2="280.40" stroke="#000" stroke-width="1.6"/>
<rect x="56.60" y="290.40" width="23.40" height="84.10" fill="#000" stroke="none" stroke-width="1"/>
<line x1="100.80" y1="350.60" x2="100.80" y2="352.60" stroke="#2e48a3" stroke-width="1.5"/>
<line x1="95.00" y1="350.60" x2="106.00" y2="350.60" stroke="#2e48a3" stroke-width="1.6"/>
<rect x="89.00" y="352.60" width="23.60" height="21.90" fill="#2e48a3" stroke="none" stroke-width="1"/>
<line x1="155.20" y1="298.00" x2="155.20" y2="306.00" stroke="#000" stroke-width="1.5"/>
<line x1="149.00" y1="298.00" x2="160.40" y2="298.00" stroke="#000" stroke-width="1.6"/>
<rect x="143.40" y="306.00" width="23.60" height="68.50" fill="#000" stroke="none" stroke-width="1"/>
<line x1="187.70" y1="359.00" x2="187.70" y2="362.00" stroke="#2e48a3" stroke-width="1.5"/>
<line x1="182.00" y1="359.00" x2="193.40" y2="359.00" stroke="#2e48a3" stroke-width="1.6"/>
<rect x="176.00" y="362.00" width="23.40" height="12.50" fill="#2e48a3" stroke="none" stroke-width="1"/>
<polyline points="68,274.6 68,268 100.4,268 100.4,345.6" fill="none" stroke="#000" stroke-width="1.6"/>
<polyline points="155,291 155,285 187.4,285 187.4,355" fill="none" stroke="#000" stroke-width="1.6"/>
<text x="84.4" y="266.4" font-size="8.5" text-anchor="middle" fill="#000" textLength="13" lengthAdjust="spacingAndGlyphs">***</text>
<text x="173" y="283.8" font-size="8.5" text-anchor="middle" fill="#000" textLength="13" lengthAdjust="spacingAndGlyphs">***</text>
<text x="86.6" y="253.6" font-size="9.8" text-anchor="middle" fill="#000" textLength="35" lengthAdjust="spacingAndGlyphs" stroke="#000" stroke-width="0.4">15 Days</text>
<text x="174" y="268.9" font-size="9.8" text-anchor="middle" fill="#000" textLength="35" lengthAdjust="spacingAndGlyphs" stroke="#000" stroke-width="0.4">22 Days</text>
<line x1="84.00" y1="374.50" x2="84.00" y2="378.60" stroke="#000" stroke-width="1.6"/>
<line x1="171.00" y1="374.50" x2="171.00" y2="378.60" stroke="#000" stroke-width="1.6"/>
<text x="87.5" y="386.5" font-size="9.6" font-weight="bold" text-anchor="end" fill="#000" transform="rotate(-40 87.5 386.5)" textLength="27" lengthAdjust="spacingAndGlyphs">10 Gy</text>
<text x="174.5" y="386.5" font-size="9.6" font-weight="bold" text-anchor="end" fill="#000" transform="rotate(-40 174.5 386.5)" textLength="27" lengthAdjust="spacingAndGlyphs">12 Gy</text>
<rect x="214.40" y="263.20" width="13.60" height="7.40" fill="#000" stroke="none" stroke-width="1"/>
<rect x="214.40" y="277.00" width="13.60" height="7.60" fill="#2e48a3" stroke="none" stroke-width="1"/>
<text x="235" y="270.6" font-size="8.6" text-anchor="start" fill="#000" textLength="37.5" lengthAdjust="spacingAndGlyphs">shControl</text>
<text x="235" y="283.8" font-size="8.6" text-anchor="start" fill="#000" textLength="31" lengthAdjust="spacingAndGlyphs">shPYGL</text>
<text x="7.4" y="343.4" font-size="9.8" font-weight="bold" text-anchor="start" fill="#000" transform="rotate(-90 7.4 343.4)" textLength="54.7" lengthAdjust="spacingAndGlyphs">Cell number</text>
<text x="0" y="0" font-size="100" font-weight="bold" stroke="#000" stroke-width="3.68" transform="matrix(0.12083 0 0 0.15072 278.500 236.400)">D</text>
<text x="340.3" y="251" font-size="10" font-weight="bold" text-anchor="middle" fill="#000" textLength="47.3" lengthAdjust="spacingAndGlyphs">shControl</text>
<text x="412.5" y="251" font-size="10" font-weight="bold" text-anchor="middle" fill="#000" textLength="39" lengthAdjust="spacingAndGlyphs">shPYGL</text>
<text x="301.6" y="291" font-size="10" font-weight="bold" text-anchor="middle" fill="#000" transform="rotate(-90 301.6 291)" textLength="29" lengthAdjust="spacingAndGlyphs">10 Gy</text>
<text x="301.6" y="363.5" font-size="10" font-weight="bold" text-anchor="middle" fill="#000" transform="rotate(-90 301.6 363.5)" textLength="29" lengthAdjust="spacingAndGlyphs">12 Gy</text>
<filter id="grain0" x="0" y="0" width="100%" height="100%" color-interpolation-filters="sRGB"><feTurbulence type="fractalNoise" baseFrequency="0.85" numOctaves="2" seed="1"/><feColorMatrix type="matrix" values="0.33 0.33 0.33 0 0  0.33 0.33 0.33 0 0  0.33 0.33 0.33 0 0  0 0 0 0 1"/><feComponentTransfer><feFuncR type="linear" slope="0.4" intercept="0.225"/><feFuncG type="linear" slope="0.4" intercept="0.225"/><feFuncB type="linear" slope="0.4" intercept="0.225"/></feComponentTransfer></filter>
<filter id="grain1" x="0" y="0" width="100%" height="100%" color-interpolation-filters="sRGB"><feTurbulence type="fractalNoise" baseFrequency="0.85" numOctaves="2" seed="6"/><feColorMatrix type="matrix" values="0.33 0.33 0.33 0 0  0.33 0.33 0.33 0 0  0.33 0.33 0.33 0 0  0 0 0 0 1"/><feComponentTransfer><feFuncR type="linear" slope="0.4" intercept="0.225"/><feFuncG type="linear" slope="0.4" intercept="0.225"/><feFuncB type="linear" slope="0.4" intercept="0.225"/></feComponentTransfer></filter>
<filter id="grain2" x="0" y="0" width="100%" height="100%" color-interpolation-filters="sRGB"><feTurbulence type="fractalNoise" baseFrequency="0.85" numOctaves="2" seed="11"/><feColorMatrix type="matrix" values="0.33 0.33 0.33 0 0  0.33 0.33 0.33 0 0  0.33 0.33 0.33 0 0  0 0 0 0 1"/><feComponentTransfer><feFuncR type="linear" slope="0.4" intercept="0.225"/><feFuncG type="linear" slope="0.4" intercept="0.225"/><feFuncB type="linear" slope="0.4" intercept="0.225"/></feComponentTransfer></filter>
<filter id="grain3" x="0" y="0" width="100%" height="100%" color-interpolation-filters="sRGB"><feTurbulence type="fractalNoise" baseFrequency="0.85" numOctaves="2" seed="16"/><feColorMatrix type="matrix" values="0.33 0.33 0.33 0 0  0.33 0.33 0.33 0 0  0.33 0.33 0.33 0 0  0 0 0 0 1"/><feComponentTransfer><feFuncR type="linear" slope="0.4" intercept="0.225"/><feFuncG type="linear" slope="0.4" intercept="0.225"/><feFuncB type="linear" slope="0.4" intercept="0.225"/></feComponentTransfer></filter>
<rect x="306" y="255.3" width="69" height="71.2" fill="#6b6b6b"/>
<rect x="306" y="255.3" width="69" height="71.2" filter="url(#grain0)"/>
<rect x="377.9" y="255.3" width="69" height="71.2" fill="#6b6b6b"/>
<rect x="377.9" y="255.3" width="69" height="71.2" filter="url(#grain1)"/>
<rect x="306" y="329.2" width="69" height="69.4" fill="#6b6b6b"/>
<rect x="306" y="329.2" width="69" height="69.4" filter="url(#grain2)"/>
<rect x="377.9" y="329.2" width="69" height="69.4" fill="#6b6b6b"/>
<rect x="377.9" y="329.2" width="69" height="69.4" filter="url(#grain3)"/>
<path d="M403.2,295.2 A6.6,6.6 0 0 1 409.8,287.1" fill="none" stroke="#939393" stroke-width="0.8" stroke-opacity="0.6"/>
<path d="M409.9,295.2 A2.9,2.9 0 0 1 413.7,292.6" fill="none" stroke="#939393" stroke-width="0.8" stroke-opacity="0.6"/>
<path d="M419.0,309.6 A2.5,2.5 0 0 1 417.7,306.0" fill="none" stroke="#939393" stroke-width="0.8" stroke-opacity="0.6"/>
<path d="M394.3,309.7 A5.5,5.5 0 0 1 386.5,313.1" fill="none" stroke="#939393" stroke-width="0.8" stroke-opacity="0.6"/>
<path d="M435.9,313.8 A5.3,5.3 0 0 1 444.2,314.2" fill="none" stroke="#939393" stroke-width="0.8" stroke-opacity="0.6"/>
<path d="M397.2,263.9 A4.6,4.6 0 0 1 390.2,266.0" fill="none" stroke="#939393" stroke-width="0.8" stroke-opacity="0.6"/>
<path d="M392.6,275.8 A2.2,2.2 0 0 1 394.7,273.2" fill="none" stroke="#939393" stroke-width="0.8" stroke-opacity="0.6"/>
<path d="M406.1,306.6 A4.6,4.6 0 0 1 413.1,308.1" fill="none" stroke="#939393" stroke-width="0.8" stroke-opacity="0.6"/>
<path d="M411.6,303.9 A4.3,4.3 0 0 1 408.4,298.0" fill="none" stroke="#939393" stroke-width="0.8" stroke-opacity="0.6"/>
<path d="M439.1,313.1 A6.2,6.2 0 0 1 447.0,318.8" fill="none" stroke="#939393" stroke-width="0.8" stroke-opacity="0.6"/>
<path d="M405.0,276.1 A3.4,3.4 0 0 1 399.7,277.3" fill="none" stroke="#939393" stroke-width="0.8" stroke-opacity="0.6"/>
<path d="M422.9,288.6 A6.2,6.2 0 0 1 424.7,279.0" fill="none" stroke="#939393" stroke-width="0.8" stroke-opacity="0.6"/>
<path d="M439.0,312.4 A2.0,2.0 0 0 1 436.5,310.5" fill="none" stroke="#939393" stroke-width="0.8" stroke-opacity="0.6"/>
<path d="M430.3,292.7 A6.9,6.9 0 0 1 433.0,282.2" fill="none" stroke="#939393" stroke-width="0.8" stroke-opacity="0.6"/>
<path d="M387.3,303.7 A5.9,5.9 0 0 1 382.5,295.8" fill="none" stroke="#939393" stroke-width="0.8" stroke-opacity="0.6"/>
<path d="M389.2,273.8 A6.8,6.8 0 0 1 395.4,282.5" fill="none" stroke="#939393" stroke-width="0.8" stroke-opacity="0.6"/>
<path d="M393.0,276.5 A2.5,2.5 0 0 1 389.2,277.7" fill="none" stroke="#939393" stroke-width="0.8" stroke-opacity="0.6"/>
<path d="M424.8,273.2 A4.8,4.8 0 0 1 428.8,266.8" fill="none" stroke="#939393" stroke-width="0.8" stroke-opacity="0.6"/>
<path d="M393.1,301.7 A2.7,2.7 0 0 1 397.2,302.6" fill="none" stroke="#939393" stroke-width="0.8" stroke-opacity="0.6"/>
<path d="M390.2,288.7 A3.1,3.1 0 0 1 387.7,284.6" fill="none" stroke="#939393" stroke-width="0.8" stroke-opacity="0.6"/>
<path d="M441.9,305.6 A3.5,3.5 0 0 1 440.9,311.0" fill="none" stroke="#939393" stroke-width="0.8" stroke-opacity="0.6"/>
<path d="M392.0,279.3 A6.3,6.3 0 0 1 401.6,281.4" fill="none" stroke="#939393" stroke-width="0.8" stroke-opacity="0.6"/>
<path d="M389.5,395.6 A3.1,3.1 0 0 1 386.7,391.7" fill="none" stroke="#939393" stroke-width="0.8" stroke-opacity="0.6"/>
<path d="M431.1,355.8 A3.5,3.5 0 0 1 425.7,357.0" fill="none" stroke="#939393" stroke-width="0.8" stroke-opacity="0.6"/>
<path d="M386.4,367.1 A3.2,3.2 0 0 1 391.5,366.9" fill="none" stroke="#939393" stroke-width="0.8" stroke-opacity="0.6"/>
<path d="M398.3,362.2 A6.8,6.8 0 0 1 405.9,354.7" fill="none" stroke="#939393" stroke-width="0.8" stroke-opacity="0.6"/>
<path d="M418.3,387.9 A2.9,2.9 0 0 1 413.9,386.5" fill="none" stroke="#939393" stroke-width="0.8" stroke-opacity="0.6"/>
<path d="M436.9,385.6 A3.2,3.2 0 0 1 432.5,383.1" fill="none" stroke="#939393" stroke-width="0.8" stroke-opacity="0.6"/>
<path d="M428.9,388.8 A3.0,3.0 0 0 1 426.3,392.7" fill="none" stroke="#939393" stroke-width="0.8" stroke-opacity="0.6"/>
<path d="M437.4,372.7 A4.1,4.1 0 0 1 431.0,372.8" fill="none" stroke="#939393" stroke-width="0.8" stroke-opacity="0.6"/>
<path d="M385.2,388.0 A3.2,3.2 0 0 1 389.3,390.8" fill="none" stroke="#939393" stroke-width="0.8" stroke-opacity="0.6"/>
<path d="M397.2,387.8 A5.0,5.0 0 0 1 394.2,380.6" fill="none" stroke="#939393" stroke-width="0.8" stroke-opacity="0.6"/>
<path d="M394.2,379.3 A2.3,2.3 0 0 1 391.6,376.8" fill="none" stroke="#939393" stroke-width="0.8" stroke-opacity="0.6"/>
<path d="M414.8,389.6 A5.1,5.1 0 0 1 411.1,382.6" fill="none" stroke="#939393" stroke-width="0.8" stroke-opacity="0.6"/>
<path d="M364.0,275.2 A2.1,2.1 0 0 1 362.3,272.4" fill="none" stroke="#939393" stroke-width="0.8" stroke-opacity="0.6"/>
<path d="M335.5,266.9 A2.9,2.9 0 0 1 335.8,262.4" fill="none" stroke="#939393" stroke-width="0.8" stroke-opacity="0.6"/>
<path d="M347.6,266.5 A3.8,3.8 0 0 1 346.3,272.3" fill="none" stroke="#939393" stroke-width="0.8" stroke-opacity="0.6"/>
<path d="M363.2,296.6 A5.5,5.5 0 0 1 371.6,295.4" fill="none" stroke="#939393" stroke-width="0.8" stroke-opacity="0.6"/>
<path d="M321.8,262.2 A2.1,2.1 0 0 1 320.7,265.3" fill="none" stroke="#939393" stroke-width="0.8" stroke-opacity="0.6"/>
<path d="M350.6,315.6 A2.1,2.1 0 0 1 353.8,316.2" fill="none" stroke="#939393" stroke-width="0.8" stroke-opacity="0.6"/>
<path d="M343.1,377.5 A3.6,3.6 0 0 1 338.7,381.1" fill="none" stroke="#939393" stroke-width="0.8" stroke-opacity="0.6"/>
<path d="M320.9,363.5 A5.7,5.7 0 0 1 318.5,372.1" fill="none" stroke="#939393" stroke-width="0.8" stroke-opacity="0.6"/>
<path d="M359.1,373.0 A6.0,6.0 0 0 1 355.8,381.7" fill="none" stroke="#939393" stroke-width="0.8" stroke-opacity="0.6"/>
<path d="M336.5,370.2 A6.5,6.5 0 0 1 335.6,380.4" fill="none" stroke="#939393" stroke-width="0.8" stroke-opacity="0.6"/>
<text x="0" y="0" font-size="100" font-weight="bold" stroke="#000" stroke-width="4.06" transform="matrix(0.08955 0 0 0.15652 481.600 239.200)">E</text>
<text x="594.3" y="264.2" font-size="10" font-weight="bold" text-anchor="middle" fill="#000" textLength="26" lengthAdjust="spacingAndGlyphs">12 Gy</text>
<text x="500.8" y="303" font-size="10" font-weight="bold" text-anchor="middle" fill="#000" transform="rotate(-90 500.8 303)" textLength="47.8" lengthAdjust="spacingAndGlyphs">shControl</text>
<text x="500.8" y="355.8" font-size="10" font-weight="bold" text-anchor="middle" fill="#000" transform="rotate(-90 500.8 355.8)" textLength="39.5" lengthAdjust="spacingAndGlyphs">shPYGL</text>
<rect x="508.80" y="270.80" width="171.00" height="114.20" fill="#fff" stroke="#8c8c8c" stroke-width="1"/>
<clipPath id="cp1"><circle cx="539.20" cy="302.40" r="25.40"/></clipPath>
<circle cx="539.20" cy="302.40" r="25.90" fill="#e8e7f5"/>
<g clip-path="url(#cp1)">
<circle cx="521.40" cy="297.00" r="2.52" fill="#3438a8" fill-opacity="0.9"/>
<circle cx="527.50" cy="298.30" r="2.40" fill="#4044b8" fill-opacity="0.9"/>
<circle cx="531.00" cy="298.30" r="2.04" fill="#3438a8" fill-opacity="0.9"/>
<circle cx="543.70" cy="291.30" r="2.76" fill="#4044b8" fill-opacity="0.9"/>
<circle cx="537.10" cy="305.30" r="2.76" fill="#3438a8" fill-opacity="0.9"/>
<circle cx="534.50" cy="310.50" r="2.88" fill="#3438a8" fill-opacity="0.9"/>
<circle cx="529.70" cy="312.30" r="2.88" fill="#3438a8" fill-opacity="0.9"/>
<circle cx="531.00" cy="317.50" r="2.28" fill="#3438a8" fill-opacity="0.9"/>
<circle cx="542.40" cy="316.70" r="2.76" fill="#3c40b4" fill-opacity="0.9"/>
<circle cx="540.20" cy="322.00" r="2.76" fill="#4044b8" fill-opacity="0.9"/>
<circle cx="538.00" cy="309.70" r="2.28" fill="#3c40b4" fill-opacity="0.9"/>
<circle cx="526.60" cy="308.00" r="2.04" fill="#3438a8" fill-opacity="0.9"/>
<circle cx="517.00" cy="312.30" r="2.28" fill="#3c40b4" fill-opacity="0.9"/>
<circle cx="562.50" cy="309.70" r="2.28" fill="#3c40b4" fill-opacity="0.9"/>
<circle cx="557.30" cy="309.70" r="1.68" fill="#3c40b4" fill-opacity="0.9"/>
<circle cx="527.50" cy="282.50" r="2.64" fill="#4044b8" fill-opacity="0.9"/>
<circle cx="550.30" cy="280.30" r="1.68" fill="#4044b8" fill-opacity="0.9"/>
<circle cx="541.50" cy="300.00" r="1.32" fill="#3c40b4" fill-opacity="0.9"/>
<circle cx="546.30" cy="302.60" r="1.08" fill="#4044b8" fill-opacity="0.9"/>
<circle cx="523.10" cy="303.10" r="1.32" fill="#3438a8" fill-opacity="0.9"/>
<circle cx="521.80" cy="310.50" r="1.32" fill="#3c40b4" fill-opacity="0.9"/>
<circle cx="552.00" cy="289.50" r="1.32" fill="#3438a8" fill-opacity="0.9"/>
<circle cx="547.70" cy="286.90" r="1.08" fill="#3c40b4" fill-opacity="0.9"/>
<circle cx="526.60" cy="288.60" r="1.32" fill="#3c40b4" fill-opacity="0.9"/>
<circle cx="524.00" cy="317.50" r="1.32" fill="#3438a8" fill-opacity="0.9"/>
<circle cx="536.30" cy="322.00" r="1.32" fill="#3c40b4" fill-opacity="0.9"/>
<circle cx="543.30" cy="327.20" r="1.32" fill="#4044b8" fill-opacity="0.9"/>
<circle cx="551.60" cy="323.70" r="1.32" fill="#4044b8" fill-opacity="0.9"/>
<circle cx="516.60" cy="300.00" r="1.32" fill="#3c40b4" fill-opacity="0.9"/>
<circle cx="532.80" cy="278.60" r="1.08" fill="#4044b8" fill-opacity="0.9"/>
<circle cx="533.20" cy="314.40" r="1.80" fill="#3c40b4" fill-opacity="0.9"/>
<circle cx="525.20" cy="314.40" r="1.56" fill="#3c40b4" fill-opacity="0.9"/>
<circle cx="559.20" cy="294.40" r="1.20" fill="#3c40b4" fill-opacity="0.9"/>
<circle cx="519.20" cy="318.40" r="1.44" fill="#3438a8" fill-opacity="0.9"/>
<circle cx="555.20" cy="316.40" r="1.20" fill="#3438a8" fill-opacity="0.9"/>
<circle cx="536.56" cy="284.82" r="0.50" fill="#8a88d0" fill-opacity="0.6"/>
<circle cx="523.23" cy="286.46" r="0.50" fill="#8a88d0" fill-opacity="0.6"/>
<circle cx="530.29" cy="288.01" r="0.50" fill="#8a88d0" fill-opacity="0.6"/>
<circle cx="557.18" cy="308.41" r="0.50" fill="#8a88d0" fill-opacity="0.6"/>
<circle cx="533.62" cy="279.53" r="0.50" fill="#8a88d0" fill-opacity="0.6"/>
<circle cx="535.13" cy="323.23" r="0.50" fill="#8a88d0" fill-opacity="0.6"/>
<circle cx="527.91" cy="294.36" r="0.50" fill="#8a88d0" fill-opacity="0.6"/>
<circle cx="554.37" cy="306.52" r="0.50" fill="#8a88d0" fill-opacity="0.6"/>
<circle cx="543.79" cy="312.33" r="0.50" fill="#8a88d0" fill-opacity="0.6"/>
<circle cx="518.46" cy="295.49" r="0.50" fill="#8a88d0" fill-opacity="0.6"/>
<circle cx="529.93" cy="311.79" r="0.50" fill="#8a88d0" fill-opacity="0.6"/>
<circle cx="524.13" cy="301.09" r="0.50" fill="#8a88d0" fill-opacity="0.6"/>
<circle cx="523.72" cy="290.75" r="0.50" fill="#8a88d0" fill-opacity="0.6"/>
<circle cx="532.40" cy="297.83" r="0.50" fill="#8a88d0" fill-opacity="0.6"/>
<circle cx="541.55" cy="298.52" r="0.50" fill="#8a88d0" fill-opacity="0.6"/>
<circle cx="533.29" cy="318.71" r="0.50" fill="#8a88d0" fill-opacity="0.6"/>
<circle cx="536.94" cy="312.33" r="0.50" fill="#8a88d0" fill-opacity="0.6"/>
<circle cx="545.11" cy="324.12" r="0.50" fill="#8a88d0" fill-opacity="0.6"/>
<circle cx="520.99" cy="290.26" r="0.50" fill="#8a88d0" fill-opacity="0.6"/>
<circle cx="554.47" cy="300.59" r="0.50" fill="#8a88d0" fill-opacity="0.6"/>
<circle cx="539.80" cy="321.17" r="0.50" fill="#8a88d0" fill-opacity="0.6"/>
<circle cx="527.29" cy="300.62" r="0.50" fill="#8a88d0" fill-opacity="0.6"/>
<circle cx="543.49" cy="315.83" r="0.50" fill="#8a88d0" fill-opacity="0.6"/>
<circle cx="532.86" cy="292.64" r="0.50" fill="#8a88d0" fill-opacity="0.6"/>
<circle cx="536.00" cy="325.26" r="0.50" fill="#8a88d0" fill-opacity="0.6"/>
<circle cx="525.27" cy="303.02" r="0.50" fill="#8a88d0" fill-opacity="0.6"/>
<circle cx="532.63" cy="285.58" r="0.50" fill="#8a88d0" fill-opacity="0.6"/>
<circle cx="528.48" cy="312.08" r="0.50" fill="#8a88d0" fill-opacity="0.6"/>
<circle cx="519.70" cy="311.29" r="0.50" fill="#8a88d0" fill-opacity="0.6"/>
<circle cx="529.93" cy="316.68" r="0.50" fill="#8a88d0" fill-opacity="0.6"/>
<circle cx="545.26" cy="312.97" r="0.50" fill="#8a88d0" fill-opacity="0.6"/>
<circle cx="530.08" cy="301.63" r="0.50" fill="#8a88d0" fill-opacity="0.6"/>
<circle cx="549.72" cy="282.37" r="0.50" fill="#8a88d0" fill-opacity="0.6"/>
<circle cx="544.01" cy="322.65" r="0.50" fill="#8a88d0" fill-opacity="0.6"/>
<circle cx="531.74" cy="290.46" r="0.50" fill="#8a88d0" fill-opacity="0.6"/>
<circle cx="546.42" cy="285.46" r="0.50" fill="#8a88d0" fill-opacity="0.6"/>
<circle cx="562.10" cy="309.01" r="0.50" fill="#8a88d0" fill-opacity="0.6"/>
<circle cx="553.62" cy="294.47" r="0.50" fill="#8a88d0" fill-opacity="0.6"/>
<circle cx="542.26" cy="284.85" r="0.50" fill="#8a88d0" fill-opacity="0.6"/>
<circle cx="558.15" cy="298.28" r="0.50" fill="#8a88d0" fill-opacity="0.6"/>
<circle cx="523.37" cy="296.33" r="0.50" fill="#8a88d0" fill-opacity="0.6"/>
<circle cx="518.11" cy="298.61" r="0.50" fill="#8a88d0" fill-opacity="0.6"/>
<circle cx="544.96" cy="286.59" r="0.50" fill="#8a88d0" fill-opacity="0.6"/>
<circle cx="540.26" cy="324.39" r="0.50" fill="#8a88d0" fill-opacity="0.6"/>
<circle cx="548.23" cy="293.69" r="0.50" fill="#8a88d0" fill-opacity="0.6"/>
<circle cx="528.40" cy="300.97" r="0.50" fill="#8a88d0" fill-opacity="0.6"/>
<circle cx="554.59" cy="303.92" r="0.50" fill="#8a88d0" fill-opacity="0.6"/>
<circle cx="556.78" cy="287.11" r="0.50" fill="#8a88d0" fill-opacity="0.6"/>
<circle cx="538.81" cy="303.13" r="0.50" fill="#8a88d0" fill-opacity="0.6"/>
<circle cx="541.50" cy="302.54" r="0.50" fill="#8a88d0" fill-opacity="0.6"/>
<circle cx="532.30" cy="306.58" r="0.50" fill="#8a88d0" fill-opacity="0.6"/>
<circle cx="542.04" cy="310.45" r="0.50" fill="#8a88d0" fill-opacity="0.6"/>
<circle cx="555.22" cy="291.16" r="0.50" fill="#8a88d0" fill-opacity="0.6"/>
<circle cx="561.04" cy="294.76" r="0.50" fill="#8a88d0" fill-opacity="0.6"/>
<circle cx="523.84" cy="319.22" r="0.50" fill="#8a88d0" fill-opacity="0.6"/>
<circle cx="537.97" cy="315.48" r="0.50" fill="#8a88d0" fill-opacity="0.6"/>
<circle cx="530.88" cy="291.58" r="0.50" fill="#8a88d0" fill-opacity="0.6"/>
<circle cx="529.11" cy="302.42" r="0.50" fill="#8a88d0" fill-opacity="0.6"/>
<circle cx="547.50" cy="295.54" r="0.50" fill="#8a88d0" fill-opacity="0.6"/>
<circle cx="528.39" cy="295.02" r="0.50" fill="#8a88d0" fill-opacity="0.6"/>
<circle cx="560.11" cy="298.02" r="0.50" fill="#8a88d0" fill-opacity="0.6"/>
<circle cx="556.74" cy="300.00" r="0.50" fill="#8a88d0" fill-opacity="0.6"/>
<circle cx="532.71" cy="294.48" r="0.50" fill="#8a88d0" fill-opacity="0.6"/>
<circle cx="524.80" cy="295.80" r="0.50" fill="#8a88d0" fill-opacity="0.6"/>
<circle cx="556.11" cy="292.02" r="0.50" fill="#8a88d0" fill-opacity="0.6"/>
<circle cx="519.07" cy="310.57" r="0.50" fill="#8a88d0" fill-opacity="0.6"/>
<circle cx="535.22" cy="307.98" r="0.50" fill="#8a88d0" fill-opacity="0.6"/>
<circle cx="560.05" cy="303.19" r="0.50" fill="#8a88d0" fill-opacity="0.6"/>
<circle cx="560.06" cy="292.97" r="0.50" fill="#8a88d0" fill-opacity="0.6"/>
<circle cx="541.74" cy="319.95" r="0.50" fill="#8a88d0" fill-opacity="0.6"/>
<circle cx="524.65" cy="306.53" r="0.50" fill="#8a88d0" fill-opacity="0.6"/>
<circle cx="545.13" cy="287.14" r="0.50" fill="#8a88d0" fill-opacity="0.6"/>
<circle cx="551.58" cy="287.13" r="0.50" fill="#8a88d0" fill-opacity="0.6"/>
<circle cx="561.57" cy="301.57" r="0.50" fill="#8a88d0" fill-opacity="0.6"/>
<circle cx="541.51" cy="298.36" r="0.50" fill="#8a88d0" fill-opacity="0.6"/>
<circle cx="532.08" cy="310.17" r="0.50" fill="#8a88d0" fill-opacity="0.6"/>
<circle cx="549.62" cy="296.38" r="0.50" fill="#8a88d0" fill-opacity="0.6"/>
<circle cx="532.05" cy="324.01" r="0.50" fill="#8a88d0" fill-opacity="0.6"/>
<circle cx="548.23" cy="304.66" r="0.50" fill="#8a88d0" fill-opacity="0.6"/>
<circle cx="561.40" cy="304.79" r="0.50" fill="#8a88d0" fill-opacity="0.6"/>
<circle cx="529.71" cy="292.61" r="0.50" fill="#8a88d0" fill-opacity="0.6"/>
<circle cx="539.80" cy="323.96" r="0.50" fill="#8a88d0" fill-opacity="0.6"/>
<circle cx="529.31" cy="295.31" r="0.50" fill="#8a88d0" fill-opacity="0.6"/>
<circle cx="521.47" cy="298.06" r="0.50" fill="#8a88d0" fill-opacity="0.6"/>
<circle cx="542.26" cy="304.23" r="0.50" fill="#8a88d0" fill-opacity="0.6"/>
<circle cx="537.65" cy="285.99" r="0.50" fill="#8a88d0" fill-opacity="0.6"/>
<circle cx="533.60" cy="301.30" r="0.50" fill="#8a88d0" fill-opacity="0.6"/>
<circle cx="524.82" cy="284.86" r="0.50" fill="#8a88d0" fill-opacity="0.6"/>
<circle cx="546.93" cy="296.75" r="0.50" fill="#8a88d0" fill-opacity="0.6"/>
<circle cx="530.88" cy="322.31" r="0.50" fill="#8a88d0" fill-opacity="0.6"/>
<circle cx="516.51" cy="296.67" r="1.40" fill="#3a3cb0" fill-opacity="0.85"/>
<circle cx="523.12" cy="285.40" r="1.80" fill="#3a3cb0" fill-opacity="0.85"/>
<circle cx="522.57" cy="318.86" r="1.40" fill="#3a3cb0" fill-opacity="0.85"/>
<circle cx="562.35" cy="298.98" r="1.40" fill="#3a3cb0" fill-opacity="0.85"/>
<circle cx="533.17" cy="325.01" r="1.80" fill="#3a3cb0" fill-opacity="0.85"/>
<circle cx="522.17" cy="318.44" r="1.00" fill="#3a3cb0" fill-opacity="0.85"/>
<circle cx="519.91" cy="289.15" r="1.40" fill="#3a3cb0" fill-opacity="0.85"/>
<circle cx="537.88" cy="279.04" r="1.40" fill="#3a3cb0" fill-opacity="0.85"/>
<circle cx="515.81" cy="302.95" r="1.40" fill="#3a3cb0" fill-opacity="0.85"/>
<circle cx="562.42" cy="305.28" r="1.40" fill="#3a3cb0" fill-opacity="0.85"/>
<circle cx="515.83" cy="303.61" r="1.40" fill="#3a3cb0" fill-opacity="0.85"/>
<circle cx="553.74" cy="320.73" r="1.00" fill="#3a3cb0" fill-opacity="0.85"/>
<circle cx="556.07" cy="318.62" r="1.80" fill="#3a3cb0" fill-opacity="0.85"/>
<circle cx="561.89" cy="296.70" r="1.00" fill="#3a3cb0" fill-opacity="0.85"/>
</g>
<circle cx="539.20" cy="302.40" r="22.90" fill="none" stroke="#8a88c8" stroke-width="0.7"/>
<circle cx="539.20" cy="302.40" r="25.30" fill="none" stroke="#262466" stroke-width="1.2"/>
<clipPath id="cp2"><circle cx="593.20" cy="301.80" r="25.70"/></clipPath>
<circle cx="593.20" cy="301.80" r="26.20" fill="#e8e7f5"/>
<g clip-path="url(#cp2)">
<circle cx="591.50" cy="292.60" r="2.73" fill="#4044b8" fill-opacity="0.9"/>
<circle cx="593.90" cy="293.70" r="2.31" fill="#3c40b4" fill-opacity="0.9"/>
<circle cx="589.10" cy="291.30" r="1.68" fill="#3c40b4" fill-opacity="0.9"/>
<circle cx="580.20" cy="299.30" r="1.99" fill="#4044b8" fill-opacity="0.9"/>
<circle cx="579.80" cy="301.70" r="1.99" fill="#3c40b4" fill-opacity="0.9"/>
<circle cx="579.10" cy="297.70" r="1.37" fill="#4044b8" fill-opacity="0.9"/>
<circle cx="609.20" cy="307.30" r="2.21" fill="#3438a8" fill-opacity="0.9"/>
<circle cx="601.60" cy="297.70" r="1.47" fill="#3438a8" fill-opacity="0.9"/>
<circle cx="579.50" cy="311.40" r="1.68" fill="#4044b8" fill-opacity="0.9"/>
<circle cx="584.30" cy="311.40" r="1.37" fill="#3c40b4" fill-opacity="0.9"/>
<circle cx="589.10" cy="311.40" r="1.16" fill="#4044b8" fill-opacity="0.9"/>
<circle cx="575.40" cy="315.40" r="1.47" fill="#3c40b4" fill-opacity="0.9"/>
<circle cx="602.70" cy="313.00" r="1.37" fill="#3c40b4" fill-opacity="0.9"/>
<circle cx="604.30" cy="319.40" r="1.47" fill="#4044b8" fill-opacity="0.9"/>
<circle cx="585.10" cy="323.40" r="1.68" fill="#4044b8" fill-opacity="0.9"/>
<circle cx="589.10" cy="324.20" r="1.37" fill="#3c40b4" fill-opacity="0.9"/>
<circle cx="574.60" cy="305.80" r="1.16" fill="#3438a8" fill-opacity="0.9"/>
<circle cx="601.10" cy="283.20" r="1.16" fill="#4044b8" fill-opacity="0.9"/>
<circle cx="595.50" cy="279.20" r="1.16" fill="#4044b8" fill-opacity="0.9"/>
<circle cx="611.60" cy="288.10" r="1.37" fill="#4044b8" fill-opacity="0.9"/>
<circle cx="615.60" cy="309.80" r="1.37" fill="#3438a8" fill-opacity="0.9"/>
<circle cx="587.50" cy="304.10" r="1.05" fill="#4044b8" fill-opacity="0.9"/>
<circle cx="597.10" cy="305.70" r="1.05" fill="#3438a8" fill-opacity="0.9"/>
<circle cx="593.20" cy="313.80" r="1.05" fill="#3438a8" fill-opacity="0.9"/>
<circle cx="574.60" cy="292.20" r="1.05" fill="#3438a8" fill-opacity="0.9"/>
<circle cx="606.00" cy="293.00" r="1.05" fill="#3438a8" fill-opacity="0.9"/>
<circle cx="602.30" cy="297.70" r="1.05" fill="#3c40b4" fill-opacity="0.9"/>
<circle cx="583.10" cy="311.45" r="1.10" fill="#4044b8" fill-opacity="0.8"/>
<circle cx="586.23" cy="310.23" r="1.10" fill="#3c40b4" fill-opacity="0.8"/>
<circle cx="591.14" cy="321.13" r="1.10" fill="#3438a8" fill-opacity="0.8"/>
<circle cx="578.87" cy="298.54" r="0.90" fill="#3438a8" fill-opacity="0.8"/>
<circle cx="596.71" cy="311.46" r="1.10" fill="#3438a8" fill-opacity="0.8"/>
<circle cx="592.36" cy="320.90" r="0.90" fill="#4044b8" fill-opacity="0.8"/>
<circle cx="588.18" cy="318.13" r="0.70" fill="#4044b8" fill-opacity="0.8"/>
<circle cx="591.58" cy="313.78" r="0.90" fill="#3c40b4" fill-opacity="0.8"/>
<circle cx="602.23" cy="298.68" r="0.90" fill="#3438a8" fill-opacity="0.8"/>
<circle cx="606.23" cy="320.86" r="0.70" fill="#3c40b4" fill-opacity="0.8"/>
<circle cx="592.20" cy="304.08" r="0.90" fill="#4044b8" fill-opacity="0.8"/>
<circle cx="594.96" cy="298.35" r="1.10" fill="#3c40b4" fill-opacity="0.8"/>
<circle cx="608.03" cy="315.34" r="1.10" fill="#3c40b4" fill-opacity="0.8"/>
<circle cx="585.45" cy="298.52" r="0.70" fill="#4044b8" fill-opacity="0.8"/>
<circle cx="602.94" cy="279.97" r="0.50" fill="#8a88d0" fill-opacity="0.6"/>
<circle cx="609.76" cy="288.21" r="0.50" fill="#8a88d0" fill-opacity="0.6"/>
<circle cx="600.25" cy="323.69" r="0.50" fill="#8a88d0" fill-opacity="0.6"/>
<circle cx="603.48" cy="284.12" r="0.50" fill="#8a88d0" fill-opacity="0.6"/>
<circle cx="583.16" cy="322.03" r="0.50" fill="#8a88d0" fill-opacity="0.6"/>
<circle cx="576.25" cy="307.15" r="0.50" fill="#8a88d0" fill-opacity="0.6"/>
<circle cx="589.03" cy="285.40" r="0.50" fill="#8a88d0" fill-opacity="0.6"/>
<circle cx="599.12" cy="279.71" r="0.50" fill="#8a88d0" fill-opacity="0.6"/>
<circle cx="574.24" cy="295.95" r="0.50" fill="#8a88d0" fill-opacity="0.6"/>
<circle cx="596.84" cy="313.53" r="0.50" fill="#8a88d0" fill-opacity="0.6"/>
<circle cx="589.89" cy="292.83" r="0.50" fill="#8a88d0" fill-opacity="0.6"/>
<circle cx="598.05" cy="301.30" r="0.50" fill="#8a88d0" fill-opacity="0.6"/>
<circle cx="614.43" cy="295.71" r="0.50" fill="#8a88d0" fill-opacity="0.6"/>
<circle cx="571.70" cy="311.35" r="0.50" fill="#8a88d0" fill-opacity="0.6"/>
<circle cx="576.31" cy="308.16" r="0.50" fill="#8a88d0" fill-opacity="0.6"/>
<circle cx="593.48" cy="321.66" r="0.50" fill="#8a88d0" fill-opacity="0.6"/>
<circle cx="595.86" cy="307.65" r="0.50" fill="#8a88d0" fill-opacity="0.6"/>
<circle cx="581.74" cy="304.30" r="0.50" fill="#8a88d0" fill-opacity="0.6"/>
<circle cx="581.30" cy="313.93" r="0.50" fill="#8a88d0" fill-opacity="0.6"/>
<circle cx="594.02" cy="284.07" r="0.50" fill="#8a88d0" fill-opacity="0.6"/>
<circle cx="580.35" cy="295.57" r="0.50" fill="#8a88d0" fill-opacity="0.6"/>
<circle cx="604.66" cy="286.28" r="0.50" fill="#8a88d0" fill-opacity="0.6"/>
<circle cx="603.52" cy="309.30" r="0.50" fill="#8a88d0" fill-opacity="0.6"/>
<circle cx="573.13" cy="309.93" r="0.50" fill="#8a88d0" fill-opacity="0.6"/>
<circle cx="597.75" cy="289.15" r="0.50" fill="#8a88d0" fill-opacity="0.6"/>
<circle cx="611.44" cy="300.85" r="0.50" fill="#8a88d0" fill-opacity="0.6"/>
<circle cx="584.65" cy="316.15" r="0.50" fill="#8a88d0" fill-opacity="0.6"/>
<circle cx="615.08" cy="310.57" r="0.50" fill="#8a88d0" fill-opacity="0.6"/>
<circle cx="579.80" cy="283.22" r="0.50" fill="#8a88d0" fill-opacity="0.6"/>
<circle cx="608.72" cy="284.36" r="0.50" fill="#8a88d0" fill-opacity="0.6"/>
<circle cx="599.24" cy="294.75" r="0.50" fill="#8a88d0" fill-opacity="0.6"/>
<circle cx="580.37" cy="293.73" r="0.50" fill="#8a88d0" fill-opacity="0.6"/>
<circle cx="598.71" cy="294.48" r="0.50" fill="#8a88d0" fill-opacity="0.6"/>
<circle cx="587.67" cy="284.20" r="0.50" fill="#8a88d0" fill-opacity="0.6"/>
<circle cx="609.23" cy="308.96" r="0.50" fill="#8a88d0" fill-opacity="0.6"/>
<circle cx="607.94" cy="298.58" r="0.50" fill="#8a88d0" fill-opacity="0.6"/>
<circle cx="610.22" cy="302.65" r="0.50" fill="#8a88d0" fill-opacity="0.6"/>
<circle cx="597.68" cy="305.35" r="0.50" fill="#8a88d0" fill-opacity="0.6"/>
<circle cx="604.82" cy="296.74" r="0.50" fill="#8a88d0" fill-opacity="0.6"/>
<circle cx="612.04" cy="300.88" r="0.50" fill="#8a88d0" fill-opacity="0.6"/>
<circle cx="591.76" cy="320.67" r="0.50" fill="#8a88d0" fill-opacity="0.6"/>
<circle cx="598.98" cy="298.35" r="0.50" fill="#8a88d0" fill-opacity="0.6"/>
<circle cx="591.53" cy="282.43" r="0.50" fill="#8a88d0" fill-opacity="0.6"/>
<circle cx="576.49" cy="285.30" r="0.50" fill="#8a88d0" fill-opacity="0.6"/>
<circle cx="587.13" cy="296.27" r="0.50" fill="#8a88d0" fill-opacity="0.6"/>
<circle cx="581.30" cy="291.03" r="0.50" fill="#8a88d0" fill-opacity="0.6"/>
<circle cx="576.82" cy="291.49" r="0.50" fill="#8a88d0" fill-opacity="0.6"/>
<circle cx="580.38" cy="300.93" r="0.50" fill="#8a88d0" fill-opacity="0.6"/>
<circle cx="586.86" cy="323.00" r="0.50" fill="#8a88d0" fill-opacity="0.6"/>
<circle cx="602.29" cy="310.21" r="0.50" fill="#8a88d0" fill-opacity="0.6"/>
<circle cx="591.83" cy="323.36" r="0.50" fill="#8a88d0" fill-opacity="0.6"/>
<circle cx="574.71" cy="309.96" r="0.50" fill="#8a88d0" fill-opacity="0.6"/>
<circle cx="583.09" cy="310.24" r="0.50" fill="#8a88d0" fill-opacity="0.6"/>
<circle cx="604.30" cy="285.50" r="0.50" fill="#8a88d0" fill-opacity="0.6"/>
<circle cx="588.41" cy="324.72" r="0.50" fill="#8a88d0" fill-opacity="0.6"/>
<circle cx="586.63" cy="292.69" r="0.50" fill="#8a88d0" fill-opacity="0.6"/>
<circle cx="591.65" cy="291.30" r="0.50" fill="#8a88d0" fill-opacity="0.6"/>
<circle cx="604.45" cy="312.35" r="0.50" fill="#8a88d0" fill-opacity="0.6"/>
<circle cx="576.91" cy="289.24" r="0.50" fill="#8a88d0" fill-opacity="0.6"/>
<circle cx="601.53" cy="323.12" r="0.50" fill="#8a88d0" fill-opacity="0.6"/>
<circle cx="600.26" cy="298.44" r="0.50" fill="#8a88d0" fill-opacity="0.6"/>
<circle cx="588.85" cy="279.78" r="0.50" fill="#8a88d0" fill-opacity="0.6"/>
<circle cx="595.54" cy="325.50" r="0.50" fill="#8a88d0" fill-opacity="0.6"/>
<circle cx="594.12" cy="294.54" r="0.50" fill="#8a88d0" fill-opacity="0.6"/>
<circle cx="612.50" cy="301.37" r="0.50" fill="#8a88d0" fill-opacity="0.6"/>
<circle cx="588.23" cy="280.51" r="0.50" fill="#8a88d0" fill-opacity="0.6"/>
<circle cx="581.36" cy="297.32" r="0.50" fill="#8a88d0" fill-opacity="0.6"/>
<circle cx="583.81" cy="280.08" r="0.50" fill="#8a88d0" fill-opacity="0.6"/>
<circle cx="577.68" cy="302.22" r="0.50" fill="#8a88d0" fill-opacity="0.6"/>
<circle cx="588.47" cy="303.32" r="0.50" fill="#8a88d0" fill-opacity="0.6"/>
<circle cx="573.08" cy="292.79" r="0.50" fill="#8a88d0" fill-opacity="0.6"/>
<circle cx="574.23" cy="303.83" r="0.50" fill="#8a88d0" fill-opacity="0.6"/>
<circle cx="613.59" cy="306.56" r="0.50" fill="#8a88d0" fill-opacity="0.6"/>
<circle cx="610.47" cy="287.98" r="0.50" fill="#8a88d0" fill-opacity="0.6"/>
<circle cx="569.84" cy="303.72" r="0.50" fill="#8a88d0" fill-opacity="0.6"/>
<circle cx="592.55" cy="305.26" r="0.50" fill="#8a88d0" fill-opacity="0.6"/>
<circle cx="587.23" cy="307.85" r="0.50" fill="#8a88d0" fill-opacity="0.6"/>
<circle cx="604.12" cy="321.79" r="0.50" fill="#8a88d0" fill-opacity="0.6"/>
<circle cx="583.89" cy="299.33" r="0.50" fill="#8a88d0" fill-opacity="0.6"/>
<circle cx="609.00" cy="288.44" r="0.50" fill="#8a88d0" fill-opacity="0.6"/>
<circle cx="574.60" cy="292.69" r="0.50" fill="#8a88d0" fill-opacity="0.6"/>
<circle cx="573.24" cy="314.98" r="0.50" fill="#8a88d0" fill-opacity="0.6"/>
<circle cx="608.66" cy="292.74" r="0.50" fill="#8a88d0" fill-opacity="0.6"/>
<circle cx="580.85" cy="281.68" r="0.50" fill="#8a88d0" fill-opacity="0.6"/>
<circle cx="589.75" cy="305.53" r="0.50" fill="#8a88d0" fill-opacity="0.6"/>
<circle cx="602.91" cy="279.92" r="0.50" fill="#8a88d0" fill-opacity="0.6"/>
<circle cx="578.67" cy="291.44" r="0.50" fill="#8a88d0" fill-opacity="0.6"/>
<circle cx="587.09" cy="282.37" r="0.50" fill="#8a88d0" fill-opacity="0.6"/>
<circle cx="589.36" cy="292.79" r="0.50" fill="#8a88d0" fill-opacity="0.6"/>
<circle cx="605.41" cy="304.51" r="0.50" fill="#8a88d0" fill-opacity="0.6"/>
<circle cx="612.02" cy="287.40" r="1.80" fill="#3a3cb0" fill-opacity="0.85"/>
<circle cx="615.25" cy="293.12" r="1.00" fill="#3a3cb0" fill-opacity="0.85"/>
<circle cx="572.06" cy="291.08" r="1.40" fill="#3a3cb0" fill-opacity="0.85"/>
<circle cx="607.91" cy="320.39" r="1.80" fill="#3a3cb0" fill-opacity="0.85"/>
<circle cx="579.93" cy="282.16" r="1.00" fill="#3a3cb0" fill-opacity="0.85"/>
<circle cx="589.93" cy="278.33" r="1.80" fill="#3a3cb0" fill-opacity="0.85"/>
<circle cx="571.91" cy="312.22" r="1.00" fill="#3a3cb0" fill-opacity="0.85"/>
<circle cx="602.21" cy="279.88" r="1.40" fill="#3a3cb0" fill-opacity="0.85"/>
<circle cx="571.27" cy="292.81" r="1.40" fill="#3a3cb0" fill-opacity="0.85"/>
<circle cx="614.90" cy="311.34" r="1.00" fill="#3a3cb0" fill-opacity="0.85"/>
<circle cx="608.61" cy="319.80" r="1.40" fill="#3a3cb0" fill-opacity="0.85"/>
<circle cx="582.56" cy="280.62" r="1.40" fill="#3a3cb0" fill-opacity="0.85"/>
<circle cx="616.36" cy="306.83" r="1.80" fill="#3a3cb0" fill-opacity="0.85"/>
<circle cx="595.25" cy="278.19" r="1.80" fill="#3a3cb0" fill-opacity="0.85"/>
</g>
<circle cx="593.20" cy="301.80" r="23.20" fill="none" stroke="#8a88c8" stroke-width="0.7"/>
<circle cx="593.20" cy="301.80" r="25.60" fill="none" stroke="#262466" stroke-width="1.2"/>
<clipPath id="cp3"><circle cx="646.80" cy="301.30" r="25.70"/></clipPath>
<circle cx="646.80" cy="301.30" r="26.20" fill="#e8e7f5"/>
<g clip-path="url(#cp3)">
<circle cx="650.20" cy="282.40" r="2.31" fill="#3c40b4" fill-opacity="0.9"/>
<circle cx="652.50" cy="284.80" r="1.68" fill="#3c40b4" fill-opacity="0.9"/>
<circle cx="638.90" cy="287.20" r="2.31" fill="#3c40b4" fill-opacity="0.9"/>
<circle cx="638.90" cy="290.50" r="2.31" fill="#3c40b4" fill-opacity="0.9"/>
<circle cx="638.10" cy="294.50" r="1.99" fill="#3c40b4" fill-opacity="0.9"/>
<circle cx="640.50" cy="296.10" r="1.68" fill="#4044b8" fill-opacity="0.9"/>
<circle cx="634.10" cy="299.30" r="1.99" fill="#4044b8" fill-opacity="0.9"/>
<circle cx="632.50" cy="301.70" r="1.68" fill="#4044b8" fill-opacity="0.9"/>
<circle cx="630.80" cy="305.80" r="2.73" fill="#3438a8" fill-opacity="0.9"/>
<circle cx="644.50" cy="300.10" r="1.68" fill="#3c40b4" fill-opacity="0.9"/>
<circle cx="653.00" cy="302.20" r="2.31" fill="#3c40b4" fill-opacity="0.9"/>
<circle cx="659.70" cy="302.50" r="1.37" fill="#3438a8" fill-opacity="0.9"/>
<circle cx="667.80" cy="301.70" r="1.99" fill="#4044b8" fill-opacity="0.9"/>
<circle cx="646.10" cy="285.70" r="1.47" fill="#3c40b4" fill-opacity="0.9"/>
<circle cx="663.00" cy="286.50" r="1.16" fill="#4044b8" fill-opacity="0.9"/>
<circle cx="625.20" cy="305.80" r="1.37" fill="#3c40b4" fill-opacity="0.9"/>
<circle cx="656.60" cy="321.80" r="1.37" fill="#4044b8" fill-opacity="0.9"/>
<circle cx="634.10" cy="320.20" r="1.16" fill="#4044b8" fill-opacity="0.9"/>
<circle cx="648.50" cy="320.20" r="1.05" fill="#3c40b4" fill-opacity="0.9"/>
<circle cx="629.20" cy="309.70" r="1.16" fill="#3c40b4" fill-opacity="0.9"/>
<circle cx="652.50" cy="296.10" r="1.16" fill="#3438a8" fill-opacity="0.9"/>
<circle cx="652.33" cy="285.67" r="0.70" fill="#4044b8" fill-opacity="0.8"/>
<circle cx="648.21" cy="286.04" r="1.10" fill="#3c40b4" fill-opacity="0.8"/>
<circle cx="644.30" cy="321.65" r="0.90" fill="#3c40b4" fill-opacity="0.8"/>
<circle cx="639.07" cy="298.79" r="0.70" fill="#4044b8" fill-opacity="0.8"/>
<circle cx="651.26" cy="286.06" r="0.70" fill="#3438a8" fill-opacity="0.8"/>
<circle cx="667.04" cy="302.81" r="0.90" fill="#3438a8" fill-opacity="0.8"/>
<circle cx="663.06" cy="309.91" r="0.70" fill="#3c40b4" fill-opacity="0.8"/>
<circle cx="625.13" cy="304.87" r="0.90" fill="#3438a8" fill-opacity="0.8"/>
<circle cx="664.52" cy="296.32" r="0.70" fill="#3c40b4" fill-opacity="0.8"/>
<circle cx="636.45" cy="287.43" r="1.10" fill="#3438a8" fill-opacity="0.8"/>
<circle cx="640.16" cy="312.95" r="0.70" fill="#4044b8" fill-opacity="0.8"/>
<circle cx="639.92" cy="289.62" r="1.10" fill="#3c40b4" fill-opacity="0.8"/>
<circle cx="652.28" cy="296.70" r="0.70" fill="#3c40b4" fill-opacity="0.8"/>
<circle cx="662.19" cy="300.84" r="0.70" fill="#3c40b4" fill-opacity="0.8"/>
<circle cx="657.34" cy="320.67" r="0.50" fill="#8a88d0" fill-opacity="0.6"/>
<circle cx="632.25" cy="315.68" r="0.50" fill="#8a88d0" fill-opacity="0.6"/>
<circle cx="638.28" cy="310.15" r="0.50" fill="#8a88d0" fill-opacity="0.6"/>
<circle cx="664.37" cy="307.26" r="0.50" fill="#8a88d0" fill-opacity="0.6"/>
<circle cx="661.34" cy="295.32" r="0.50" fill="#8a88d0" fill-opacity="0.6"/>
<circle cx="623.09" cy="301.87" r="0.50" fill="#8a88d0" fill-opacity="0.6"/>
<circle cx="651.00" cy="286.04" r="0.50" fill="#8a88d0" fill-opacity="0.6"/>
<circle cx="641.43" cy="292.45" r="0.50" fill="#8a88d0" fill-opacity="0.6"/>
<circle cx="641.13" cy="300.14" r="0.50" fill="#8a88d0" fill-opacity="0.6"/>
<circle cx="656.64" cy="296.42" r="0.50" fill="#8a88d0" fill-opacity="0.6"/>
<circle cx="667.32" cy="310.63" r="0.50" fill="#8a88d0" fill-opacity="0.6"/>
<circle cx="655.04" cy="303.08" r="0.50" fill="#8a88d0" fill-opacity="0.6"/>
<circle cx="661.26" cy="294.66" r="0.50" fill="#8a88d0" fill-opacity="0.6"/>
<circle cx="651.33" cy="309.99" r="0.50" fill="#8a88d0" fill-opacity="0.6"/>
<circle cx="647.87" cy="290.85" r="0.50" fill="#8a88d0" fill-opacity="0.6"/>
<circle cx="639.82" cy="305.19" r="0.50" fill="#8a88d0" fill-opacity="0.6"/>
<circle cx="659.37" cy="311.68" r="0.50" fill="#8a88d0" fill-opacity="0.6"/>
<circle cx="637.45" cy="322.07" r="0.50" fill="#8a88d0" fill-opacity="0.6"/>
<circle cx="635.89" cy="311.76" r="0.50" fill="#8a88d0" fill-opacity="0.6"/>
<circle cx="626.09" cy="313.56" r="0.50" fill="#8a88d0" fill-opacity="0.6"/>
<circle cx="655.03" cy="323.41" r="0.50" fill="#8a88d0" fill-opacity="0.6"/>
<circle cx="666.02" cy="310.38" r="0.50" fill="#8a88d0" fill-opacity="0.6"/>
<circle cx="663.17" cy="312.85" r="0.50" fill="#8a88d0" fill-opacity="0.6"/>
<circle cx="652.17" cy="287.20" r="0.50" fill="#8a88d0" fill-opacity="0.6"/>
<circle cx="647.61" cy="320.47" r="0.50" fill="#8a88d0" fill-opacity="0.6"/>
<circle cx="648.93" cy="296.14" r="0.50" fill="#8a88d0" fill-opacity="0.6"/>
<circle cx="631.22" cy="308.71" r="0.50" fill="#8a88d0" fill-opacity="0.6"/>
<circle cx="652.29" cy="295.81" r="0.50" fill="#8a88d0" fill-opacity="0.6"/>
<circle cx="627.87" cy="310.44" r="0.50" fill="#8a88d0" fill-opacity="0.6"/>
<circle cx="649.39" cy="311.72" r="0.50" fill="#8a88d0" fill-opacity="0.6"/>
<circle cx="640.70" cy="320.02" r="0.50" fill="#8a88d0" fill-opacity="0.6"/>
<circle cx="632.90" cy="291.89" r="0.50" fill="#8a88d0" fill-opacity="0.6"/>
<circle cx="635.55" cy="307.21" r="0.50" fill="#8a88d0" fill-opacity="0.6"/>
<circle cx="653.23" cy="314.20" r="0.50" fill="#8a88d0" fill-opacity="0.6"/>
<circle cx="649.99" cy="317.29" r="0.50" fill="#8a88d0" fill-opacity="0.6"/>
<circle cx="665.12" cy="312.34" r="0.50" fill="#8a88d0" fill-opacity="0.6"/>
<circle cx="642.78" cy="297.69" r="0.50" fill="#8a88d0" fill-opacity="0.6"/>
<circle cx="648.19" cy="320.89" r="0.50" fill="#8a88d0" fill-opacity="0.6"/>
<circle cx="637.23" cy="290.69" r="0.50" fill="#8a88d0" fill-opacity="0.6"/>
<circle cx="651.90" cy="323.88" r="0.50" fill="#8a88d0" fill-opacity="0.6"/>
<circle cx="628.19" cy="304.33" r="0.50" fill="#8a88d0" fill-opacity="0.6"/>
<circle cx="651.81" cy="286.00" r="0.50" fill="#8a88d0" fill-opacity="0.6"/>
<circle cx="631.81" cy="305.87" r="0.50" fill="#8a88d0" fill-opacity="0.6"/>
<circle cx="653.88" cy="310.51" r="0.50" fill="#8a88d0" fill-opacity="0.6"/>
<circle cx="657.88" cy="280.07" r="0.50" fill="#8a88d0" fill-opacity="0.6"/>
<circle cx="646.06" cy="317.50" r="0.50" fill="#8a88d0" fill-opacity="0.6"/>
<circle cx="668.93" cy="292.51" r="0.50" fill="#8a88d0" fill-opacity="0.6"/>
<circle cx="663.76" cy="308.33" r="0.50" fill="#8a88d0" fill-opacity="0.6"/>
<circle cx="656.33" cy="317.79" r="0.50" fill="#8a88d0" fill-opacity="0.6"/>
<circle cx="645.67" cy="281.98" r="0.50" fill="#8a88d0" fill-opacity="0.6"/>
<circle cx="631.97" cy="284.68" r="0.50" fill="#8a88d0" fill-opacity="0.6"/>
<circle cx="652.40" cy="282.18" r="0.50" fill="#8a88d0" fill-opacity="0.6"/>
<circle cx="659.29" cy="312.73" r="0.50" fill="#8a88d0" fill-opacity="0.6"/>
<circle cx="662.11" cy="316.00" r="0.50" fill="#8a88d0" fill-opacity="0.6"/>
<circle cx="657.11" cy="321.83" r="0.50" fill="#8a88d0" fill-opacity="0.6"/>
<circle cx="668.91" cy="307.35" r="0.50" fill="#8a88d0" fill-opacity="0.6"/>
<circle cx="632.59" cy="295.22" r="0.50" fill="#8a88d0" fill-opacity="0.6"/>
<circle cx="644.80" cy="310.04" r="0.50" fill="#8a88d0" fill-opacity="0.6"/>
<circle cx="658.56" cy="281.16" r="0.50" fill="#8a88d0" fill-opacity="0.6"/>
<circle cx="642.12" cy="303.40" r="0.50" fill="#8a88d0" fill-opacity="0.6"/>
<circle cx="640.76" cy="282.79" r="0.50" fill="#8a88d0" fill-opacity="0.6"/>
<circle cx="651.50" cy="295.22" r="0.50" fill="#8a88d0" fill-opacity="0.6"/>
<circle cx="655.69" cy="301.08" r="0.50" fill="#8a88d0" fill-opacity="0.6"/>
<circle cx="657.51" cy="291.42" r="0.50" fill="#8a88d0" fill-opacity="0.6"/>
<circle cx="628.26" cy="300.28" r="0.50" fill="#8a88d0" fill-opacity="0.6"/>
<circle cx="639.74" cy="312.79" r="0.50" fill="#8a88d0" fill-opacity="0.6"/>
<circle cx="667.05" cy="295.59" r="0.50" fill="#8a88d0" fill-opacity="0.6"/>
<circle cx="636.66" cy="301.24" r="0.50" fill="#8a88d0" fill-opacity="0.6"/>
<circle cx="656.33" cy="315.29" r="0.50" fill="#8a88d0" fill-opacity="0.6"/>
<circle cx="650.46" cy="291.42" r="0.50" fill="#8a88d0" fill-opacity="0.6"/>
<circle cx="638.91" cy="318.14" r="0.50" fill="#8a88d0" fill-opacity="0.6"/>
<circle cx="647.73" cy="279.54" r="0.50" fill="#8a88d0" fill-opacity="0.6"/>
<circle cx="642.96" cy="288.61" r="0.50" fill="#8a88d0" fill-opacity="0.6"/>
<circle cx="654.84" cy="280.65" r="0.50" fill="#8a88d0" fill-opacity="0.6"/>
<circle cx="635.72" cy="281.75" r="0.50" fill="#8a88d0" fill-opacity="0.6"/>
<circle cx="645.71" cy="324.76" r="0.50" fill="#8a88d0" fill-opacity="0.6"/>
<circle cx="648.80" cy="295.80" r="0.50" fill="#8a88d0" fill-opacity="0.6"/>
<circle cx="639.82" cy="316.34" r="0.50" fill="#8a88d0" fill-opacity="0.6"/>
<circle cx="634.74" cy="299.28" r="0.50" fill="#8a88d0" fill-opacity="0.6"/>
<circle cx="641.13" cy="302.11" r="0.50" fill="#8a88d0" fill-opacity="0.6"/>
<circle cx="669.76" cy="298.52" r="0.50" fill="#8a88d0" fill-opacity="0.6"/>
<circle cx="645.44" cy="281.23" r="0.50" fill="#8a88d0" fill-opacity="0.6"/>
<circle cx="655.85" cy="301.68" r="0.50" fill="#8a88d0" fill-opacity="0.6"/>
<circle cx="625.16" cy="296.11" r="0.50" fill="#8a88d0" fill-opacity="0.6"/>
<circle cx="660.28" cy="298.14" r="0.50" fill="#8a88d0" fill-opacity="0.6"/>
<circle cx="651.33" cy="320.77" r="0.50" fill="#8a88d0" fill-opacity="0.6"/>
<circle cx="653.82" cy="307.88" r="0.50" fill="#8a88d0" fill-opacity="0.6"/>
<circle cx="659.85" cy="297.10" r="0.50" fill="#8a88d0" fill-opacity="0.6"/>
<circle cx="664.91" cy="317.06" r="0.50" fill="#8a88d0" fill-opacity="0.6"/>
<circle cx="666.90" cy="295.42" r="0.50" fill="#8a88d0" fill-opacity="0.6"/>
<circle cx="670.50" cy="301.15" r="1.00" fill="#3a3cb0" fill-opacity="0.85"/>
<circle cx="665.23" cy="286.40" r="1.00" fill="#3a3cb0" fill-opacity="0.85"/>
<circle cx="639.06" cy="323.70" r="1.00" fill="#3a3cb0" fill-opacity="0.85"/>
<circle cx="625.88" cy="312.44" r="1.00" fill="#3a3cb0" fill-opacity="0.85"/>
<circle cx="670.48" cy="300.43" r="1.00" fill="#3a3cb0" fill-opacity="0.85"/>
<circle cx="628.20" cy="315.99" r="1.00" fill="#3a3cb0" fill-opacity="0.85"/>
<circle cx="643.70" cy="324.80" r="1.40" fill="#3a3cb0" fill-opacity="0.85"/>
<circle cx="631.31" cy="319.23" r="1.00" fill="#3a3cb0" fill-opacity="0.85"/>
<circle cx="634.93" cy="280.79" r="1.00" fill="#3a3cb0" fill-opacity="0.85"/>
<circle cx="649.66" cy="277.77" r="1.40" fill="#3a3cb0" fill-opacity="0.85"/>
<circle cx="667.79" cy="312.31" r="1.80" fill="#3a3cb0" fill-opacity="0.85"/>
<circle cx="629.41" cy="317.40" r="1.40" fill="#3a3cb0" fill-opacity="0.85"/>
<circle cx="664.61" cy="285.66" r="1.00" fill="#3a3cb0" fill-opacity="0.85"/>
<circle cx="632.65" cy="282.29" r="1.80" fill="#3a3cb0" fill-opacity="0.85"/>
</g>
<circle cx="646.80" cy="301.30" r="23.20" fill="none" stroke="#8a88c8" stroke-width="0.7"/>
<circle cx="646.80" cy="301.30" r="25.60" fill="none" stroke="#262466" stroke-width="1.2"/>
<clipPath id="cp4"><circle cx="540.20" cy="354.80" r="26.10"/></clipPath>
<circle cx="540.20" cy="354.80" r="26.60" fill="#e2e1f2"/>
<g clip-path="url(#cp4)">
<rect x="513.60" y="328.20" width="53.20" height="53.20" filter="url(#mottle1)"/>
<ellipse cx="541.97" cy="359.49" rx="14.00" ry="10.00" fill="#a4a2dc" fill-opacity="0.4" filter="url(#blur3)"/>
<circle cx="544.87" cy="337.64" r="0.70" fill="#5654b8" fill-opacity="0.8"/>
<circle cx="520.25" cy="348.42" r="1.10" fill="#5654b8" fill-opacity="0.8"/>
<circle cx="536.85" cy="343.79" r="1.10" fill="#5654b8" fill-opacity="0.8"/>
<circle cx="534.20" cy="367.79" r="0.70" fill="#5654b8" fill-opacity="0.8"/>
<circle cx="530.47" cy="373.50" r="1.10" fill="#5654b8" fill-opacity="0.8"/>
<circle cx="542.92" cy="344.59" r="0.70" fill="#5654b8" fill-opacity="0.8"/>
<circle cx="546.97" cy="348.90" r="0.90" fill="#5654b8" fill-opacity="0.8"/>
<circle cx="559.38" cy="357.05" r="0.90" fill="#5654b8" fill-opacity="0.8"/>
<circle cx="543.44" cy="343.62" r="1.10" fill="#5654b8" fill-opacity="0.8"/>
<circle cx="527.81" cy="362.59" r="0.70" fill="#5654b8" fill-opacity="0.8"/>
<circle cx="562.77" cy="355.96" r="1.30" fill="#3c3aa8" fill-opacity="0.85"/>
<circle cx="543.19" cy="332.40" r="1.30" fill="#3c3aa8" fill-opacity="0.85"/>
<circle cx="520.48" cy="365.83" r="1.30" fill="#3c3aa8" fill-opacity="0.85"/>
<circle cx="517.61" cy="354.21" r="1.30" fill="#3c3aa8" fill-opacity="0.85"/>
</g>
<circle cx="540.20" cy="354.80" r="23.60" fill="none" stroke="#8e8cd0" stroke-width="0.7"/>
<circle cx="540.20" cy="354.80" r="26.05" fill="none" stroke="#4644a8" stroke-width="1.1"/>
<clipPath id="cp5"><circle cx="593.40" cy="354.60" r="26.10"/></clipPath>
<circle cx="593.40" cy="354.60" r="26.60" fill="#e2e1f2"/>
<g clip-path="url(#cp5)">
<rect x="566.80" y="328.00" width="53.20" height="53.20" filter="url(#mottle1)"/>
<ellipse cx="587.27" cy="360.76" rx="14.00" ry="10.00" fill="#a4a2dc" fill-opacity="0.4" filter="url(#blur3)"/>
<circle cx="572.45" cy="354.63" r="0.70" fill="#5654b8" fill-opacity="0.8"/>
<circle cx="602.47" cy="372.73" r="0.70" fill="#5654b8" fill-opacity="0.8"/>
<circle cx="596.13" cy="351.75" r="0.70" fill="#5654b8" fill-opacity="0.8"/>
<circle cx="600.71" cy="374.65" r="0.90" fill="#5654b8" fill-opacity="0.8"/>
<circle cx="596.64" cy="344.01" r="1.10" fill="#5654b8" fill-opacity="0.8"/>
<circle cx="573.45" cy="352.18" r="1.10" fill="#5654b8" fill-opacity="0.8"/>
<circle cx="579.81" cy="360.23" r="0.70" fill="#5654b8" fill-opacity="0.8"/>
<circle cx="613.44" cy="345.12" r="1.10" fill="#5654b8" fill-opacity="0.8"/>
<circle cx="587.41" cy="350.29" r="0.90" fill="#5654b8" fill-opacity="0.8"/>
<circle cx="586.37" cy="354.33" r="1.10" fill="#5654b8" fill-opacity="0.8"/>
<circle cx="572.64" cy="345.67" r="1.30" fill="#3c3aa8" fill-opacity="0.85"/>
<circle cx="572.76" cy="345.39" r="1.30" fill="#3c3aa8" fill-opacity="0.85"/>
<circle cx="615.21" cy="360.52" r="1.30" fill="#3c3aa8" fill-opacity="0.85"/>
<circle cx="592.27" cy="332.03" r="1.30" fill="#3c3aa8" fill-opacity="0.85"/>
</g>
<circle cx="593.40" cy="354.60" r="23.60" fill="none" stroke="#8e8cd0" stroke-width="0.7"/>
<circle cx="593.40" cy="354.60" r="26.05" fill="none" stroke="#4644a8" stroke-width="1.1"/>
<clipPath id="cp6"><circle cx="647.60" cy="354.20" r="26.10"/></clipPath>
<circle cx="647.60" cy="354.20" r="26.60" fill="#e2e1f2"/>
<g clip-path="url(#cp6)">
<rect x="621.00" y="327.60" width="53.20" height="53.20" filter="url(#mottle1)"/>
<ellipse cx="651.11" cy="355.67" rx="14.00" ry="10.00" fill="#a4a2dc" fill-opacity="0.4" filter="url(#blur3)"/>
<circle cx="641.66" cy="346.68" r="0.90" fill="#5654b8" fill-opacity="0.8"/>
<circle cx="646.84" cy="337.39" r="0.70" fill="#5654b8" fill-opacity="0.8"/>
<circle cx="636.37" cy="369.74" r="1.10" fill="#5654b8" fill-opacity="0.8"/>
<circle cx="635.91" cy="338.45" r="0.70" fill="#5654b8" fill-opacity="0.8"/>
<circle cx="657.13" cy="358.54" r="0.90" fill="#5654b8" fill-opacity="0.8"/>
<circle cx="652.03" cy="357.30" r="1.10" fill="#5654b8" fill-opacity="0.8"/>
<circle cx="640.76" cy="336.43" r="0.90" fill="#5654b8" fill-opacity="0.8"/>
<circle cx="647.33" cy="371.73" r="0.70" fill="#5654b8" fill-opacity="0.8"/>
<circle cx="625.23" cy="350.02" r="0.90" fill="#5654b8" fill-opacity="0.8"/>
<circle cx="658.04" cy="359.45" r="1.10" fill="#5654b8" fill-opacity="0.8"/>
<circle cx="627.60" cy="343.68" r="1.30" fill="#3c3aa8" fill-opacity="0.85"/>
<circle cx="625.59" cy="349.08" r="1.30" fill="#3c3aa8" fill-opacity="0.85"/>
<circle cx="640.09" cy="332.88" r="1.30" fill="#3c3aa8" fill-opacity="0.85"/>
<circle cx="641.40" cy="332.47" r="1.30" fill="#3c3aa8" fill-opacity="0.85"/>
</g>
<circle cx="647.60" cy="354.20" r="23.60" fill="none" stroke="#8e8cd0" stroke-width="0.7"/>
<circle cx="647.60" cy="354.20" r="26.05" fill="none" stroke="#4644a8" stroke-width="1.1"/>
<text x="0" y="0" font-size="100" font-weight="bold" stroke="#000" stroke-width="4.22" transform="matrix(0.08361 0 0 0.15362 8.400 441.800)">F</text>
<filter id="rough0" x="-20%" y="-20%" width="140%" height="140%"><feTurbulence type="fractalNoise" baseFrequency="0.7" numOctaves="2" seed="2" result="n"/><feDisplacementMap in="SourceGraphic" in2="n" scale="2.2" xChannelSelector="R" yChannelSelector="G" result="d"/><feGaussianBlur in="d" stdDeviation="0.6"/></filter>
<filter id="rough1" x="-20%" y="-20%" width="140%" height="140%"><feTurbulence type="fractalNoise" baseFrequency="0.7" numOctaves="2" seed="3" result="n"/><feDisplacementMap in="SourceGraphic" in2="n" scale="2.2" xChannelSelector="R" yChannelSelector="G" result="d"/><feGaussianBlur in="d" stdDeviation="0.6"/></filter>
<filter id="rough2" x="-20%" y="-20%" width="140%" height="140%"><feTurbulence type="fractalNoise" baseFrequency="0.7" numOctaves="2" seed="4" result="n"/><feDisplacementMap in="SourceGraphic" in2="n" scale="2.2" xChannelSelector="R" yChannelSelector="G" result="d"/><feGaussianBlur in="d" stdDeviation="0.6"/></filter>
<rect x="51.60" y="455.50" width="68.60" height="64.80" fill="#fff" stroke="#1a1a1a" stroke-width="1.4"/>
<rect x="123.50" y="455.50" width="68.60" height="64.80" fill="#fff" stroke="#1a1a1a" stroke-width="1.4"/>
<rect x="195.60" y="455.50" width="68.60" height="64.80" fill="#fff" stroke="#1a1a1a" stroke-width="1.4"/>
<rect x="267.40" y="455.50" width="68.60" height="64.80" fill="#fff" stroke="#1a1a1a" stroke-width="1.4"/>
<rect x="51.60" y="524.30" width="68.60" height="64.70" fill="#fff" stroke="#1a1a1a" stroke-width="1.4"/>
<rect x="123.50" y="524.30" width="68.60" height="64.70" fill="#fff" stroke="#1a1a1a" stroke-width="1.4"/>
<rect x="195.60" y="524.30" width="68.60" height="64.70" fill="#fff" stroke="#1a1a1a" stroke-width="1.4"/>
<rect x="267.40" y="524.30" width="68.60" height="64.70" fill="#fff" stroke="#1a1a1a" stroke-width="1.4"/>
<rect x="51.60" y="593.40" width="68.60" height="63.00" fill="#fff" stroke="#1a1a1a" stroke-width="1.4"/>
<rect x="123.50" y="593.40" width="68.60" height="63.00" fill="#fff" stroke="#1a1a1a" stroke-width="1.4"/>
<rect x="195.60" y="593.40" width="68.60" height="63.00" fill="#fff" stroke="#1a1a1a" stroke-width="1.4"/>
<rect x="267.40" y="593.40" width="68.60" height="63.00" fill="#fff" stroke="#1a1a1a" stroke-width="1.4"/>
<rect x="51.60" y="660.40" width="68.60" height="63.00" fill="#fff" stroke="#1a1a1a" stroke-width="1.4"/>
<rect x="123.50" y="660.40" width="68.60" height="63.00" fill="#fff" stroke="#1a1a1a" stroke-width="1.4"/>
<rect x="195.60" y="660.40" width="68.60" height="63.00" fill="#fff" stroke="#1a1a1a" stroke-width="1.4"/>
<rect x="267.40" y="660.40" width="68.60" height="63.00" fill="#fff" stroke="#1a1a1a" stroke-width="1.4"/>
<text x="87.4" y="446" font-size="12.5" font-weight="bold" text-anchor="middle" fill="#000">T3</text>
<text x="157.6" y="446" font-size="12.5" font-weight="bold" text-anchor="middle" fill="#000">T8</text>
<text x="228.4" y="446" font-size="12.5" font-weight="bold" text-anchor="middle" fill="#000">T13</text>
<text x="300.6" y="446" font-size="12.5" font-weight="bold" text-anchor="middle" fill="#000">T21</text>
<text x="42.3" y="491.8" font-size="13" font-weight="bold" text-anchor="middle" fill="#000" transform="rotate(-90 42.3 491.8)" textLength="49.6" lengthAdjust="spacingAndGlyphs">shCTRL</text>
<text x="42.8" y="555.2" font-size="13" font-weight="bold" text-anchor="middle" fill="#000" transform="rotate(-90 42.8 555.2)" textLength="50.4" lengthAdjust="spacingAndGlyphs">shPYGL</text>
<text x="26.8" y="649" font-size="13" font-weight="bold" text-anchor="start" fill="#000" transform="rotate(-90 26.8 649)" textLength="21" lengthAdjust="spacingAndGlyphs">IR +</text>
<text x="42.8" y="649" font-size="13" font-weight="bold" text-anchor="start" fill="#000" transform="rotate(-90 42.8 649)" textLength="49.2" lengthAdjust="spacingAndGlyphs">shCTRL</text>
<text x="26.8" y="717" font-size="13" font-weight="bold" text-anchor="start" fill="#000" transform="rotate(-90 26.8 717)" textLength="20" lengthAdjust="spacingAndGlyphs">IR+</text>
<text x="42.8" y="717" font-size="13" font-weight="bold" text-anchor="start" fill="#000" transform="rotate(-90 42.8 717)" textLength="50.2" lengthAdjust="spacingAndGlyphs">shPYGL</text>
<radialGradient id="g0" cx="0.5" cy="0.5" r="0.5"><stop offset="0" stop-color="#444" stop-opacity="1"/><stop offset="0.5" stop-color="#555" stop-opacity="1"/><stop offset="0.85" stop-color="#777" stop-opacity="1"/><stop offset="1" stop-color="#9a9a9a" stop-opacity="0.9"/></radialGradient>
<ellipse cx="85.80" cy="488.00" rx="14.50" ry="14.50" fill="url(#g0)" filter="url(#rough0)"/>
<radialGradient id="g1" cx="0.5" cy="0.5" r="0.5"><stop offset="0" stop-color="#1a0c08" stop-opacity="1"/><stop offset="0.3" stop-color="#241410" stop-opacity="1"/><stop offset="0.55" stop-color="#3e2a20" stop-opacity="1"/><stop offset="0.8" stop-color="#5e483e" stop-opacity="1"/><stop offset="0.95" stop-color="#7a6258" stop-opacity="1"/><stop offset="1" stop-color="#a89088" stop-opacity="0.7"/></radialGradient>
<ellipse cx="157.70" cy="487.40" rx="19.90" ry="18.60" fill="url(#g1)" filter="url(#rough1)"/>
<radialGradient id="g2" cx="0.5" cy="0.5" r="0.5"><stop offset="0" stop-color="#0a0a0a" stop-opacity="1"/><stop offset="0.6" stop-color="#0a0a0a" stop-opacity="1"/><stop offset="0.85" stop-color="#1a1a1a" stop-opacity="1"/><stop offset="0.97" stop-color="#2c2c2c" stop-opacity="1"/><stop offset="1" stop-color="#505050" stop-opacity="0.8"/></radialGradient>
<ellipse cx="228.90" cy="488.30" rx="26.00" ry="25.70" fill="url(#g2)" filter="url(#rough2)"/>
<radialGradient id="g3" cx="0.5" cy="0.5" r="0.5" fx="0.5" fy="0.52"><stop offset="0" stop-color="#030303" stop-opacity="1"/><stop offset="0.7" stop-color="#050505" stop-opacity="1"/><stop offset="0.82" stop-color="#1e190c" stop-opacity="1"/><stop offset="0.92" stop-color="#3a3016" stop-opacity="1"/><stop offset="0.985" stop-color="#54461f" stop-opacity="1"/><stop offset="1" stop-color="#6a5c34" stop-opacity="0.8"/></radialGradient>
<ellipse cx="302.30" cy="488.00" rx="30.00" ry="26.90" fill="url(#g3)" filter="url(#rough0)"/>
<radialGradient id="g4" cx="0.5" cy="0.5" r="0.5"><stop offset="0" stop-color="#444" stop-opacity="1"/><stop offset="0.5" stop-color="#555" stop-opacity="1"/><stop offset="0.85" stop-color="#777" stop-opacity="1"/><stop offset="1" stop-color="#9a9a9a" stop-opacity="0.9"/></radialGradient>
<ellipse cx="86.00" cy="557.00" rx="12.20" ry="12.20" fill="url(#g4)" filter="url(#rough1)"/>
<radialGradient id="g5" cx="0.5" cy="0.5" r="0.5"><stop offset="0" stop-color="#2a1a12" stop-opacity="1"/><stop offset="0.25" stop-color="#1a0c08" stop-opacity="1"/><stop offset="0.45" stop-color="#160a06" stop-opacity="1"/><stop offset="0.6" stop-color="#2a1a12" stop-opacity="1"/><stop offset="0.75" stop-color="#4a3428" stop-opacity="1"/><stop offset="0.92" stop-color="#6a5246" stop-opacity="1"/><stop offset="1" stop-color="#a08070" stop-opacity="0.7"/></radialGradient>
<ellipse cx="157.90" cy="557.00" rx="20.00" ry="19.50" fill="url(#g5)" filter="url(#rough2)"/>
<radialGradient id="g6" cx="0.5" cy="0.5" r="0.5" fx="0.55" fy="0.55"><stop offset="0" stop-color="#0e0e0e" stop-opacity="1"/><stop offset="0.45" stop-color="#111" stop-opacity="1"/><stop offset="0.8" stop-color="#262626" stop-opacity="1"/><stop offset="1" stop-color="#4a4a4a" stop-opacity="0.9"/></radialGradient>
<ellipse cx="229.60" cy="557.00" rx="25.40" ry="22.10" fill="url(#g6)" filter="url(#rough0)"/>
<radialGradient id="g7" cx="0.5" cy="0.5" r="0.5" fx="0.62" fy="0.65"><stop offset="0" stop-color="#030303" stop-opacity="1"/><stop offset="0.5" stop-color="#050505" stop-opacity="1"/><stop offset="0.7" stop-color="#1c180c" stop-opacity="1"/><stop offset="0.88" stop-color="#383016" stop-opacity="1"/><stop offset="1" stop-color="#5a5030" stop-opacity="0.85"/></radialGradient>
<ellipse cx="302.00" cy="557.60" rx="29.20" ry="27.70" fill="url(#g7)" filter="url(#rough1)"/>
<radialGradient id="g8" cx="0.5" cy="0.5" r="0.5"><stop offset="0" stop-color="#3e2820" stop-opacity="1"/><stop offset="0.6" stop-color="#4e342a" stop-opacity="1"/><stop offset="0.9" stop-color="#6e5248" stop-opacity="1"/><stop offset="1" stop-color="#9a7e74" stop-opacity="0.8"/></radialGradient>
<ellipse cx="86.00" cy="624.70" rx="11.90" ry="11.90" fill="url(#g8)" filter="url(#rough2)"/>
<radialGradient id="g9" cx="0.5" cy="0.5" r="0.5"><stop offset="0" stop-color="#100604" stop-opacity="1"/><stop offset="0.5" stop-color="#221208" stop-opacity="1"/><stop offset="0.85" stop-color="#3e2a1c" stop-opacity="1"/><stop offset="1" stop-color="#6a5040" stop-opacity="0.85"/></radialGradient>
<ellipse cx="155.80" cy="624.70" rx="15.20" ry="15.20" fill="url(#g9)" filter="url(#rough0)"/>
<radialGradient id="g10" cx="0.5" cy="0.5" r="0.5"><stop offset="0" stop-color="#030202" stop-opacity="1"/><stop offset="0.5" stop-color="#0a0604" stop-opacity="1"/><stop offset="0.8" stop-color="#2a1c10" stop-opacity="1"/><stop offset="1" stop-color="#5a4430" stop-opacity="0.85"/></radialGradient>
<ellipse cx="229.00" cy="623.20" rx="19.30" ry="19.00" fill="url(#g10)" filter="url(#rough1)"/>
<radialGradient id="g11" cx="0.5" cy="0.5" r="0.5"><stop offset="0" stop-color="#160a06" stop-opacity="1"/><stop offset="0.55" stop-color="#241408" stop-opacity="1"/><stop offset="0.85" stop-color="#3a2618" stop-opacity="1"/><stop offset="1" stop-color="#64483a" stop-opacity="0.85"/></radialGradient>
<ellipse cx="301.20" cy="624.70" rx="20.70" ry="19.00" fill="url(#g11)" filter="url(#rough2)"/>
<radialGradient id="g12" cx="0.5" cy="0.5" r="0.5"><stop offset="0" stop-color="#4a3028" stop-opacity="1"/><stop offset="0.6" stop-color="#5a3e34" stop-opacity="1"/><stop offset="0.9" stop-color="#7a5e54" stop-opacity="1"/><stop offset="1" stop-color="#a88c82" stop-opacity="0.8"/></radialGradient>
<ellipse cx="86.00" cy="690.80" rx="11.60" ry="11.60" fill="url(#g12)" filter="url(#rough0)"/>
<radialGradient id="g13" cx="0.5" cy="0.5" r="0.5"><stop offset="0" stop-color="#3a2a22" stop-opacity="1"/><stop offset="0.6" stop-color="#4a382e" stop-opacity="1"/><stop offset="0.9" stop-color="#6a5a50" stop-opacity="1"/><stop offset="1" stop-color="#948278" stop-opacity="0.8"/></radialGradient>
<ellipse cx="156.70" cy="691.60" rx="12.70" ry="12.50" fill="url(#g13)" filter="url(#rough1)"/>
<radialGradient id="g14" cx="0.5" cy="0.5" r="0.5"><stop offset="0" stop-color="#201410" stop-opacity="1"/><stop offset="0.6" stop-color="#2e1e16" stop-opacity="1"/><stop offset="0.9" stop-color="#4a3628" stop-opacity="1"/><stop offset="1" stop-color="#7a6050" stop-opacity="0.8"/></radialGradient>
<ellipse cx="230.00" cy="691.60" rx="10.60" ry="10.60" fill="url(#g14)" filter="url(#rough2)"/>
<radialGradient id="g15" cx="0.5" cy="0.5" r="0.5"><stop offset="0" stop-color="#2a1a14" stop-opacity="1"/><stop offset="0.6" stop-color="#3a2620" stop-opacity="1"/><stop offset="0.9" stop-color="#5a4238" stop-opacity="1"/><stop offset="1" stop-color="#8a6e64" stop-opacity="0.8"/></radialGradient>
<ellipse cx="302.00" cy="691.60" rx="12.70" ry="12.20" fill="url(#g15)" filter="url(#rough0)"/>
<text x="0" y="0" font-size="100" font-weight="bold" stroke="#000" stroke-width="3.76" transform="matrix(0.11410 0 0 0.15211 362.500 441.448)">G</text>
<line x1="384.00" y1="489.00" x2="384.00" y2="645.40" stroke="#000" stroke-width="1.9"/>
<line x1="383.00" y1="644.50" x2="681.00" y2="644.50" stroke="#000" stroke-width="2.2"/>
<line x1="380.00" y1="644.50" x2="384.00" y2="644.50" stroke="#000" stroke-width="1.6"/>
<text x="377.4" y="648.2" font-size="10.2" font-weight="bold" text-anchor="end" fill="#000" textLength="13.2" lengthAdjust="spacingAndGlyphs">0.0</text>
<line x1="380.00" y1="605.78" x2="384.00" y2="605.78" stroke="#000" stroke-width="1.6"/>
<text x="377.4" y="609.48" font-size="10.2" font-weight="bold" text-anchor="end" fill="#000" textLength="13.2" lengthAdjust="spacingAndGlyphs">0.2</text>
<line x1="380.00" y1="567.06" x2="384.00" y2="567.06" stroke="#000" stroke-width="1.6"/>
<text x="377.4" y="570.76" font-size="10.2" font-weight="bold" text-anchor="end" fill="#000" textLength="13.2" lengthAdjust="spacingAndGlyphs">0.4</text>
<line x1="380.00" y1="528.34" x2="384.00" y2="528.34" stroke="#000" stroke-width="1.6"/>
<text x="377.4" y="532.0400000000001" font-size="10.2" font-weight="bold" text-anchor="end" fill="#000" textLength="13.2" lengthAdjust="spacingAndGlyphs">0.6</text>
<line x1="380.00" y1="489.62" x2="384.00" y2="489.62" stroke="#000" stroke-width="1.6"/>
<text x="377.4" y="493.32" font-size="10.2" font-weight="bold" text-anchor="end" fill="#000" textLength="13.2" lengthAdjust="spacingAndGlyphs">0.8</text>
<line x1="419.60" y1="644.50" x2="419.60" y2="650.50" stroke="#000" stroke-width="1.8"/>
<text x="419.6" y="663.2" font-size="10.2" font-weight="bold" text-anchor="middle" fill="#000">T3</text>
<line x1="496.00" y1="644.50" x2="496.00" y2="650.50" stroke="#000" stroke-width="1.8"/>
<text x="496" y="663.2" font-size="10.2" font-weight="bold" text-anchor="middle" fill="#000">T8</text>
<line x1="572.40" y1="644.50" x2="572.40" y2="650.50" stroke="#000" stroke-width="1.8"/>
<text x="572.4" y="663.2" font-size="10.2" font-weight="bold" text-anchor="middle" fill="#000">T13</text>
<line x1="648.60" y1="644.50" x2="648.60" y2="650.50" stroke="#000" stroke-width="1.8"/>
<text x="648.6" y="663.2" font-size="10.2" font-weight="bold" text-anchor="middle" fill="#000">T21</text>
<text x="534.6" y="683.2" font-size="10.5" font-weight="bold" text-anchor="middle" fill="#000" textLength="24" lengthAdjust="spacingAndGlyphs">Days</text>
<text x="356.6" y="652.3" font-size="11" font-weight="bold" text-anchor="start" fill="#000" transform="rotate(-90 356.6 652.3)" textLength="166.7" lengthAdjust="spacingAndGlyphs">Volume of Spheroids (mm<tspan font-size="7" dy="-4">3</tspan><tspan dy="4">)</tspan></text>
<rect x="390.60" y="633.85" width="9.2" height="10.65" fill="#fff" stroke="#3a55b8" stroke-width="2"/>
<rect x="406.90" y="635.79" width="9.2" height="8.71" fill="#fff" stroke="#d2202f" stroke-width="2"/>
<rect x="423.40" y="637.72" width="9.2" height="6.78" fill="#fff" stroke="#b4682c" stroke-width="2"/>
<rect x="440.00" y="637.72" width="9.2" height="6.78" fill="#fff" stroke="#111" stroke-width="2"/>
<rect x="467.00" y="600.94" width="9.2" height="43.56" fill="#fff" stroke="#3a55b8" stroke-width="2"/>
<rect x="483.30" y="600.94" width="9.2" height="43.56" fill="#fff" stroke="#d2202f" stroke-width="2"/>
<rect x="499.80" y="631.92" width="9.2" height="12.58" fill="#fff" stroke="#b4682c" stroke-width="2"/>
<rect x="516.40" y="634.82" width="9.2" height="9.68" fill="#fff" stroke="#111" stroke-width="2"/>
<rect x="543.40" y="543.83" width="9.2" height="100.67" fill="#fff" stroke="#3a55b8" stroke-width="2"/>
<rect x="559.70" y="553.51" width="9.2" height="90.99" fill="#fff" stroke="#d2202f" stroke-width="2"/>
<rect x="576.20" y="619.33" width="9.2" height="25.17" fill="#fff" stroke="#b4682c" stroke-width="2"/>
<rect x="592.80" y="634.82" width="9.2" height="9.68" fill="#fff" stroke="#111" stroke-width="2"/>
<rect x="619.60" y="522.53" width="9.2" height="121.97" fill="#fff" stroke="#3a55b8" stroke-width="2"/>
<rect x="635.90" y="534.15" width="9.2" height="110.35" fill="#fff" stroke="#d2202f" stroke-width="2"/>
<rect x="652.40" y="599.97" width="9.2" height="44.53" fill="#fff" stroke="#b4682c" stroke-width="2"/>
<rect x="669.00" y="634.82" width="9.2" height="9.68" fill="#fff" stroke="#111" stroke-width="2"/>
<circle cx="393.6" cy="632.9" r="3" fill="#000"/>
<circle cx="396.7" cy="633.9" r="3" fill="#000"/>
<circle cx="394.2" cy="631.9" r="3" fill="#000"/>
<circle cx="397.6" cy="634.8" r="3" fill="#000"/>
<circle cx="394.4" cy="632.9" r="3" fill="#000"/>
<circle cx="396.9" cy="633.3" r="3" fill="#000"/>
<polygon points="409.1,632.2 412.4,638.2 405.8,638.2" fill="#000"/>
<polygon points="412.4,633.2 415.7,639.2 409.1,639.2" fill="#000"/>
<polygon points="409.7,631.2 413.0,637.2 406.4,637.2" fill="#000"/>
<polygon points="413.4,632.8 416.7,638.8 410.1,638.8" fill="#000"/>
<polygon points="410.6,631.8 413.9,637.8 407.3,637.8" fill="#000"/>
<path d="M423.9,637.7h5.2M426.5,635.1v5.2" stroke="#000" stroke-width="1.3"/>
<path d="M427.5,636.8h5.2M430.1,634.2v5.2" stroke="#000" stroke-width="1.3"/>
<path d="M423.8,638.7h5.2M426.4,636.1v5.2" stroke="#000" stroke-width="1.3"/>
<path d="M427.5,637.1h5.2M430.1,634.5v5.2" stroke="#000" stroke-width="1.3"/>
<rect x="440.9" y="635.1" width="5.2" height="5.2" fill="#000"/>
<rect x="443.2" y="636.1" width="5.2" height="5.2" fill="#000"/>
<rect x="441.0" y="634.2" width="5.2" height="5.2" fill="#000"/>
<rect x="443.7" y="635.5" width="5.2" height="5.2" fill="#000"/>
<circle cx="469.1" cy="592.2" r="3" fill="#000"/>
<circle cx="473.5" cy="592.2" r="3" fill="#000"/>
<circle cx="469.4" cy="607.7" r="3" fill="#000"/>
<circle cx="473.1" cy="609.7" r="3" fill="#000"/>
<circle cx="469.5" cy="605.8" r="3" fill="#000"/>
<circle cx="472.6" cy="611.6" r="3" fill="#000"/>
<circle cx="470.3" cy="601.9" r="3" fill="#000"/>
<polygon points="485.9,577.0 489.2,583.0 482.6,583.0" fill="#000"/>
<polygon points="490.0,582.8 493.3,588.8 486.7,588.8" fill="#000"/>
<polygon points="486.4,588.6 489.7,594.6 483.1,594.6" fill="#000"/>
<polygon points="488.8,602.2 492.1,608.2 485.5,608.2" fill="#000"/>
<polygon points="486.6,609.9 489.9,615.9 483.3,615.9" fill="#000"/>
<polygon points="489.1,608.0 492.4,614.0 485.8,614.0" fill="#000"/>
<polygon points="486.6,606.1 489.9,612.1 483.3,612.1" fill="#000"/>
<path d="M499.5,630.9h5.2M502.1,628.3v5.2" stroke="#000" stroke-width="1.3"/>
<path d="M502.9,631.9h5.2M505.5,629.3v5.2" stroke="#000" stroke-width="1.3"/>
<path d="M499.4,630.0h5.2M502.0,627.4v5.2" stroke="#000" stroke-width="1.3"/>
<path d="M504.2,632.9h5.2M506.8,630.3v5.2" stroke="#000" stroke-width="1.3"/>
<rect x="517.5" y="633.2" width="5.2" height="5.2" fill="#000"/>
<rect x="519.9" y="634.2" width="5.2" height="5.2" fill="#000"/>
<rect x="516.7" y="632.2" width="5.2" height="5.2" fill="#000"/>
<rect x="519.2" y="635.1" width="5.2" height="5.2" fill="#000"/>
<circle cx="546.4" cy="534.1" r="3" fill="#000"/>
<circle cx="550.4" cy="538.0" r="3" fill="#000"/>
<circle cx="547.0" cy="543.8" r="3" fill="#000"/>
<circle cx="549.9" cy="547.7" r="3" fill="#000"/>
<circle cx="547.0" cy="541.9" r="3" fill="#000"/>
<circle cx="549.8" cy="545.8" r="3" fill="#000"/>
<circle cx="545.6" cy="549.6" r="3" fill="#000"/>
<polygon points="563.2,528.6 566.5,534.6 559.9,534.6" fill="#000"/>
<polygon points="565.1,534.4 568.4,540.4 561.8,540.4" fill="#000"/>
<polygon points="563.4,540.2 566.7,546.2 560.1,546.2" fill="#000"/>
<polygon points="566.1,548.0 569.4,554.0 562.8,554.0" fill="#000"/>
<polygon points="563.5,553.8 566.8,559.8 560.2,559.8" fill="#000"/>
<polygon points="565.2,559.6 568.5,565.6 561.9,565.6" fill="#000"/>
<polygon points="562.6,567.3 565.9,573.3 559.3,573.3" fill="#000"/>
<polygon points="566.8,555.7 570.1,561.7 563.5,561.7" fill="#000"/>
<path d="M576.7,607.7h5.2M579.3,605.1v5.2" stroke="#000" stroke-width="1.3"/>
<path d="M579.7,613.5h5.2M582.3,610.9v5.2" stroke="#000" stroke-width="1.3"/>
<path d="M576.3,617.4h5.2M578.9,614.8v5.2" stroke="#000" stroke-width="1.3"/>
<path d="M579.2,621.3h5.2M581.8,618.7v5.2" stroke="#000" stroke-width="1.3"/>
<path d="M576.4,623.2h5.2M579.0,620.6v5.2" stroke="#000" stroke-width="1.3"/>
<path d="M579.3,625.1h5.2M581.9,622.5v5.2" stroke="#000" stroke-width="1.3"/>
<path d="M576.3,619.3h5.2M578.9,616.7v5.2" stroke="#000" stroke-width="1.3"/>
<rect x="592.3" y="632.2" width="5.2" height="5.2" fill="#000"/>
<rect x="595.7" y="633.2" width="5.2" height="5.2" fill="#000"/>
<rect x="593.0" y="634.2" width="5.2" height="5.2" fill="#000"/>
<rect x="596.7" y="631.3" width="5.2" height="5.2" fill="#000"/>
<circle cx="623.1" cy="509.0" r="3" fill="#000"/>
<circle cx="625.5" cy="512.9" r="3" fill="#000"/>
<circle cx="621.6" cy="516.7" r="3" fill="#000"/>
<circle cx="626.8" cy="520.6" r="3" fill="#000"/>
<circle cx="623.2" cy="522.5" r="3" fill="#000"/>
<circle cx="626.3" cy="528.3" r="3" fill="#000"/>
<circle cx="621.7" cy="534.1" r="3" fill="#000"/>
<polygon points="639.3,511.2 642.6,517.2 636.0,517.2" fill="#000"/>
<polygon points="642.4,520.9 645.7,526.9 639.1,526.9" fill="#000"/>
<polygon points="639.6,524.7 642.9,530.7 636.3,530.7" fill="#000"/>
<polygon points="641.9,528.6 645.2,534.6 638.6,534.6" fill="#000"/>
<polygon points="638.5,534.4 641.8,540.4 635.2,540.4" fill="#000"/>
<polygon points="642.4,538.3 645.7,544.3 639.1,544.3" fill="#000"/>
<polygon points="638.3,544.1 641.6,550.1 635.0,550.1" fill="#000"/>
<path d="M653.5,582.5h5.2M656.1,579.9v5.2" stroke="#000" stroke-width="1.3"/>
<path d="M655.8,590.3h5.2M658.4,587.7v5.2" stroke="#000" stroke-width="1.3"/>
<path d="M652.0,594.2h5.2M654.6,591.6v5.2" stroke="#000" stroke-width="1.3"/>
<path d="M656.2,596.1h5.2M658.8,593.5v5.2" stroke="#000" stroke-width="1.3"/>
<path d="M652.8,601.9h5.2M655.4,599.3v5.2" stroke="#000" stroke-width="1.3"/>
<path d="M655.9,605.8h5.2M658.5,603.2v5.2" stroke="#000" stroke-width="1.3"/>
<path d="M651.8,609.7h5.2M654.4,607.1v5.2" stroke="#000" stroke-width="1.3"/>
<path d="M656.2,615.5h5.2M658.8,612.9v5.2" stroke="#000" stroke-width="1.3"/>
<rect x="670.2" y="632.2" width="5.2" height="5.2" fill="#000"/>
<rect x="673.2" y="633.2" width="5.2" height="5.2" fill="#000"/>
<rect x="669.6" y="634.2" width="5.2" height="5.2" fill="#000"/>
<rect x="672.6" y="631.3" width="5.2" height="5.2" fill="#000"/>
<line x1="577.80" y1="611.59" x2="583.80" y2="611.59" stroke="#b4682c" stroke-width="1.2"/>
<line x1="580.80" y1="611.59" x2="580.80" y2="619.33" stroke="#b4682c" stroke-width="1.2"/>
<line x1="654.00" y1="588.36" x2="660.00" y2="588.36" stroke="#b4682c" stroke-width="1.2"/>
<line x1="657.00" y1="588.36" x2="657.00" y2="599.97" stroke="#b4682c" stroke-width="1.2"/>
<line x1="637.50" y1="524.47" x2="643.50" y2="524.47" stroke="#d2202f" stroke-width="1.2"/>
<line x1="640.50" y1="524.47" x2="640.50" y2="534.15" stroke="#d2202f" stroke-width="1.2"/>
<line x1="468.60" y1="596.10" x2="474.60" y2="596.10" stroke="#3a55b8" stroke-width="1.2"/>
<line x1="471.60" y1="596.10" x2="471.60" y2="600.94" stroke="#3a55b8" stroke-width="1.2"/>
<line x1="545.00" y1="538.02" x2="551.00" y2="538.02" stroke="#3a55b8" stroke-width="1.2"/>
<line x1="548.00" y1="538.02" x2="548.00" y2="543.83" stroke="#3a55b8" stroke-width="1.2"/>
<polyline points="581.6,593 581.6,585 597.4,585 597.4,618" fill="none" stroke="#000" stroke-width="1.8"/>
<polyline points="656.6,571 656.6,562.4 673.4,562.4 673.4,616" fill="none" stroke="#000" stroke-width="1.8"/>
<text x="590" y="579.5" font-size="8.5" text-anchor="middle" fill="#000" textLength="13" lengthAdjust="spacingAndGlyphs">***</text>
<text x="665" y="556.5" font-size="8.5" text-anchor="middle" fill="#000" textLength="13" lengthAdjust="spacingAndGlyphs">***</text>
<rect x="400.4" y="493.4" width="13.6" height="7.2" fill="#fff" stroke="#3a55b8" stroke-width="2"/>
<text x="422" y="500.6" font-size="10" text-anchor="start" fill="#000" textLength="40.4" lengthAdjust="spacingAndGlyphs">shControl</text>
<rect x="400.4" y="507.4" width="13.6" height="7.2" fill="#fff" stroke="#d2202f" stroke-width="2"/>
<text x="422" y="514.6" font-size="10" text-anchor="start" fill="#000" textLength="33.5" lengthAdjust="spacingAndGlyphs">shPYGL</text>
<rect x="400.4" y="521.4" width="13.6" height="7.2" fill="#fff" stroke="#b4682c" stroke-width="2"/>
<text x="422" y="528.6" font-size="10" text-anchor="start" fill="#000" textLength="52.4" lengthAdjust="spacingAndGlyphs">shControl IR</text>
<rect x="400.4" y="535.4" width="13.6" height="7.2" fill="#fff" stroke="#111" stroke-width="2"/>
<text x="422" y="542.6" font-size="10" text-anchor="start" fill="#000" textLength="45" lengthAdjust="spacingAndGlyphs">shPYGL IR</text>
<text x="0" y="0" font-size="100" font-weight="bold" stroke="#000" stroke-width="3.82" transform="matrix(0.10972 0 0 0.15217 4.700 770.700)">H</text>
<line x1="78.50" y1="794.40" x2="78.50" y2="923.80" stroke="#000" stroke-width="1.9"/>
<line x1="77.60" y1="923.00" x2="268.00" y2="923.00" stroke="#000" stroke-width="2.0"/>
<line x1="73.50" y1="923.00" x2="78.50" y2="923.00" stroke="#000" stroke-width="1.5"/>
<text x="73" y="926.6" font-size="10" font-weight="bold" text-anchor="end" fill="#000">0.0</text>
<line x1="73.50" y1="891.00" x2="78.50" y2="891.00" stroke="#000" stroke-width="1.5"/>
<text x="68" y="896.8" font-size="10" font-weight="bold" text-anchor="end" fill="#000" textLength="31" lengthAdjust="spacingAndGlyphs">5.0×10</text>
<text x="68.2" y="892.4" font-size="6.8" text-anchor="start" fill="#000">5</text>
<line x1="73.50" y1="859.00" x2="78.50" y2="859.00" stroke="#000" stroke-width="1.5"/>
<text x="68" y="864.8" font-size="10" font-weight="bold" text-anchor="end" fill="#000" textLength="31" lengthAdjust="spacingAndGlyphs">1.0×10</text>
<text x="68.2" y="860.4" font-size="6.8" text-anchor="start" fill="#000">6</text>
<line x1="73.50" y1="827.00" x2="78.50" y2="827.00" stroke="#000" stroke-width="1.5"/>
<text x="68" y="832.8" font-size="10" font-weight="bold" text-anchor="end" fill="#000" textLength="31" lengthAdjust="spacingAndGlyphs">1.5×10</text>
<text x="68.2" y="828.4" font-size="6.8" text-anchor="start" fill="#000">6</text>
<line x1="73.50" y1="795.00" x2="78.50" y2="795.00" stroke="#000" stroke-width="1.5"/>
<text x="68" y="800.8" font-size="10" font-weight="bold" text-anchor="end" fill="#000" textLength="31" lengthAdjust="spacingAndGlyphs">2.0×10</text>
<text x="68.2" y="796.4" font-size="6.8" text-anchor="start" fill="#000">6</text>
<line x1="95.40" y1="891.00" x2="95.40" y2="896.00" stroke="#000" stroke-width="1.6"/>
<line x1="91.60" y1="891.00" x2="99.60" y2="891.00" stroke="#000" stroke-width="1.6"/>
<rect x="86.40" y="896.00" width="18.00" height="27.00" fill="#000" stroke="none" stroke-width="1"/>
<line x1="120.00" y1="920.00" x2="120.00" y2="921.00" stroke="#d4252d" stroke-width="1.6"/>
<line x1="116.00" y1="920.00" x2="124.00" y2="920.00" stroke="#d4252d" stroke-width="1.6"/>
<rect x="111.00" y="921.00" width="18.00" height="2.00" fill="#d4252d" stroke="none" stroke-width="1"/>
<line x1="161.50" y1="845.00" x2="161.50" y2="856.40" stroke="#000" stroke-width="1.6"/>
<line x1="157.00" y1="845.00" x2="166.00" y2="845.00" stroke="#000" stroke-width="1.6"/>
<rect x="152.00" y="856.40" width="19.00" height="66.60" fill="#000" stroke="none" stroke-width="1"/>
<line x1="186.30" y1="900.00" x2="186.30" y2="906.60" stroke="#d4252d" stroke-width="1.6"/>
<line x1="182.00" y1="900.00" x2="190.60" y2="900.00" stroke="#d4252d" stroke-width="1.6"/>
<rect x="177.00" y="906.60" width="18.60" height="16.40" fill="#d4252d" stroke="none" stroke-width="1"/>
<line x1="227.70" y1="830.40" x2="227.70" y2="845.60" stroke="#000" stroke-width="1.6"/>
<line x1="223.00" y1="830.40" x2="232.40" y2="830.40" stroke="#000" stroke-width="1.6"/>
<rect x="218.40" y="845.60" width="18.60" height="77.40" fill="#000" stroke="none" stroke-width="1"/>
<line x1="252.50" y1="902.60" x2="252.50" y2="906.60" stroke="#d4252d" stroke-width="1.6"/>
<line x1="248.00" y1="902.60" x2="256.60" y2="902.60" stroke="#d4252d" stroke-width="1.6"/>
<rect x="243.40" y="906.60" width="18.20" height="16.40" fill="#d4252d" stroke="none" stroke-width="1"/>
<line x1="108.00" y1="923.00" x2="108.00" y2="928.50" stroke="#000" stroke-width="1.8"/>
<text x="109" y="937.5" font-size="10" font-weight="bold" text-anchor="end" fill="#000" transform="rotate(-45 109 937.5)">2x12Gy</text>
<line x1="173.60" y1="923.00" x2="173.60" y2="928.50" stroke="#000" stroke-width="1.8"/>
<text x="174.6" y="937.5" font-size="10" font-weight="bold" text-anchor="end" fill="#000" transform="rotate(-45 174.6 937.5)">2x8Gy</text>
<line x1="239.60" y1="923.00" x2="239.60" y2="928.50" stroke="#000" stroke-width="1.8"/>
<text x="240.6" y="937.5" font-size="10" font-weight="bold" text-anchor="end" fill="#000" transform="rotate(-45 240.6 937.5)">3x6Gy</text>
<polyline points="93.4,882 93.4,878.6 118.4,878.6 118.4,899" fill="none" stroke="#000" stroke-width="1.7"/>
<polyline points="162.6,838 162.6,834.4 187,834.4 187,855" fill="none" stroke="#000" stroke-width="1.7"/>
<polyline points="228,820.6 228,817 251.6,817 251.6,837.6" fill="none" stroke="#000" stroke-width="1.7"/>
<text x="105.6" y="874.2" font-size="8.5" text-anchor="middle" fill="#000" textLength="12.5" lengthAdjust="spacingAndGlyphs">***</text>
<text x="175.6" y="829.6" font-size="8.5" text-anchor="middle" fill="#000" textLength="8.5" lengthAdjust="spacingAndGlyphs">**</text>
<text x="240.6" y="812.2" font-size="8.5" text-anchor="middle" fill="#000" textLength="8.5" lengthAdjust="spacingAndGlyphs">**</text>
<rect x="259.00" y="783.00" width="16.00" height="7.40" fill="#000" stroke="none" stroke-width="1"/>
<rect x="259.00" y="800.60" width="16.00" height="7.40" fill="#d4252d" stroke="none" stroke-width="1"/>
<text x="281.4" y="791" font-size="8.6" text-anchor="start" fill="#000" textLength="35.6" lengthAdjust="spacingAndGlyphs">shControl</text>
<text x="281.4" y="808.4" font-size="8.6" text-anchor="start" fill="#000" textLength="29.5" lengthAdjust="spacingAndGlyphs">shPYGL</text>
<text x="28.6" y="857.6" font-size="9.6" font-weight="bold" text-anchor="middle" fill="#000" transform="rotate(-90 28.6 857.6)" textLength="61" lengthAdjust="spacingAndGlyphs">Cell number</text>
<rect x="363.00" y="751.00" width="1.80" height="10.70" fill="#000" stroke="none" stroke-width="1"/>
<text x="457.5" y="780" font-size="12.6" font-weight="bold" text-anchor="middle" fill="#000" textLength="45" lengthAdjust="spacingAndGlyphs">2x12Gy</text>
<text x="528.4" y="780" font-size="12.6" font-weight="bold" text-anchor="middle" fill="#000" textLength="38" lengthAdjust="spacingAndGlyphs">3x6Gy</text>
<text x="599.5" y="780" font-size="12.6" font-weight="bold" text-anchor="middle" fill="#000" textLength="37.8" lengthAdjust="spacingAndGlyphs">2x8Gy</text>
<text x="410.5" y="829" font-size="12.6" font-weight="bold" text-anchor="middle" fill="#000" transform="rotate(-90 410.5 829)" textLength="60" lengthAdjust="spacingAndGlyphs">shControl</text>
<text x="410.8" y="900.8" font-size="12.6" font-weight="bold" text-anchor="middle" fill="#000" transform="rotate(-90 410.8 900.8)" textLength="49.6" lengthAdjust="spacingAndGlyphs">shPYGL</text>
<rect x="420.30" y="789.40" width="219.00" height="145.00" fill="#fff" stroke="#555" stroke-width="1.1"/>
<clipPath id="cp7"><circle cx="457.70" cy="824.30" r="31.80"/></clipPath>
<circle cx="457.70" cy="824.30" r="32.30" fill="#eeedf5"/>
<g clip-path="url(#cp7)">
<circle cx="456.70" cy="816.30" r="2.00" fill="#5a2ea8" fill-opacity="0.9"/>
<circle cx="459.30" cy="816.70" r="1.80" fill="#5a2ea8" fill-opacity="0.9"/>
<circle cx="454.20" cy="815.70" r="1.30" fill="#5a2ea8" fill-opacity="0.9"/>
<circle cx="463.20" cy="818.30" r="1.20" fill="#5a2ea8" fill-opacity="0.9"/>
<circle cx="465.70" cy="815.80" r="1.50" fill="#5a2ea8" fill-opacity="0.9"/>
<circle cx="451.70" cy="815.30" r="1.00" fill="#5a2ea8" fill-opacity="0.9"/>
<circle cx="460.70" cy="823.30" r="1.00" fill="#5a2ea8" fill-opacity="0.9"/>
<circle cx="465.70" cy="822.30" r="1.20" fill="#5a2ea8" fill-opacity="0.9"/>
<circle cx="458.70" cy="828.80" r="1.60" fill="#5a2ea8" fill-opacity="0.9"/>
<circle cx="468.70" cy="828.30" r="1.00" fill="#5a2ea8" fill-opacity="0.9"/>
<circle cx="462.70" cy="830.30" r="0.90" fill="#5a2ea8" fill-opacity="0.9"/>
<circle cx="454.70" cy="840.30" r="1.40" fill="#5a2ea8" fill-opacity="0.9"/>
<circle cx="469.70" cy="820.30" r="0.80" fill="#5a2ea8" fill-opacity="0.9"/>
<circle cx="450.70" cy="842.30" r="1.60" fill="#5a2ea8" fill-opacity="0.9"/>
<circle cx="453.20" cy="847.30" r="1.60" fill="#5a2ea8" fill-opacity="0.9"/>
<circle cx="460.20" cy="837.30" r="1.00" fill="#5a2ea8" fill-opacity="0.9"/>
<circle cx="470.70" cy="832.30" r="0.90" fill="#5a2ea8" fill-opacity="0.9"/>
<circle cx="447.70" cy="822.30" r="0.80" fill="#5a2ea8" fill-opacity="0.9"/>
<circle cx="456.70" cy="821.30" r="0.80" fill="#5a2ea8" fill-opacity="0.9"/>
<circle cx="438.07" cy="835.42" r="0.45" fill="#8a84c0" fill-opacity="0.55"/>
<circle cx="465.61" cy="823.08" r="0.45" fill="#8a84c0" fill-opacity="0.55"/>
<circle cx="441.06" cy="841.45" r="0.45" fill="#8a84c0" fill-opacity="0.55"/>
<circle cx="475.74" cy="825.03" r="0.45" fill="#8a84c0" fill-opacity="0.55"/>
<circle cx="458.00" cy="808.83" r="0.45" fill="#8a84c0" fill-opacity="0.55"/>
<circle cx="462.70" cy="799.06" r="0.45" fill="#8a84c0" fill-opacity="0.55"/>
<circle cx="474.91" cy="808.61" r="0.45" fill="#8a84c0" fill-opacity="0.55"/>
<circle cx="479.68" cy="831.09" r="0.45" fill="#8a84c0" fill-opacity="0.55"/>
<circle cx="430.40" cy="814.28" r="0.45" fill="#8a84c0" fill-opacity="0.55"/>
<circle cx="457.56" cy="801.79" r="0.45" fill="#8a84c0" fill-opacity="0.55"/>
<circle cx="484.19" cy="816.59" r="0.45" fill="#8a84c0" fill-opacity="0.55"/>
<circle cx="437.47" cy="842.91" r="0.45" fill="#8a84c0" fill-opacity="0.55"/>
<circle cx="454.95" cy="827.35" r="0.45" fill="#8a84c0" fill-opacity="0.55"/>
<circle cx="448.50" cy="823.40" r="0.45" fill="#8a84c0" fill-opacity="0.55"/>
<circle cx="479.14" cy="808.76" r="0.45" fill="#8a84c0" fill-opacity="0.55"/>
<circle cx="474.12" cy="807.22" r="0.45" fill="#8a84c0" fill-opacity="0.55"/>
<circle cx="472.63" cy="839.70" r="0.45" fill="#8a84c0" fill-opacity="0.55"/>
<circle cx="462.43" cy="837.76" r="0.45" fill="#8a84c0" fill-opacity="0.55"/>
<circle cx="435.58" cy="822.91" r="0.45" fill="#8a84c0" fill-opacity="0.55"/>
<circle cx="476.86" cy="806.78" r="0.45" fill="#8a84c0" fill-opacity="0.55"/>
<circle cx="452.40" cy="816.40" r="0.45" fill="#8a84c0" fill-opacity="0.55"/>
<circle cx="454.85" cy="817.61" r="0.45" fill="#8a84c0" fill-opacity="0.55"/>
<circle cx="457.47" cy="823.80" r="0.45" fill="#8a84c0" fill-opacity="0.55"/>
<circle cx="460.66" cy="838.84" r="0.45" fill="#8a84c0" fill-opacity="0.55"/>
<circle cx="441.41" cy="830.68" r="0.45" fill="#8a84c0" fill-opacity="0.55"/>
<circle cx="461.01" cy="831.49" r="0.45" fill="#8a84c0" fill-opacity="0.55"/>
<circle cx="438.99" cy="804.97" r="0.45" fill="#8a84c0" fill-opacity="0.55"/>
<circle cx="448.80" cy="849.33" r="0.45" fill="#8a84c0" fill-opacity="0.55"/>
<circle cx="448.71" cy="830.00" r="0.45" fill="#8a84c0" fill-opacity="0.55"/>
<circle cx="446.37" cy="801.05" r="0.45" fill="#8a84c0" fill-opacity="0.55"/>
<circle cx="473.93" cy="816.97" r="0.45" fill="#8a84c0" fill-opacity="0.55"/>
<circle cx="468.44" cy="834.61" r="0.45" fill="#8a84c0" fill-opacity="0.55"/>
<circle cx="452.25" cy="852.96" r="0.45" fill="#8a84c0" fill-opacity="0.55"/>
<circle cx="484.74" cy="829.60" r="0.45" fill="#8a84c0" fill-opacity="0.55"/>
<circle cx="480.15" cy="823.77" r="0.45" fill="#8a84c0" fill-opacity="0.55"/>
<circle cx="450.41" cy="809.49" r="0.45" fill="#8a84c0" fill-opacity="0.55"/>
<circle cx="473.75" cy="823.31" r="0.45" fill="#8a84c0" fill-opacity="0.55"/>
<circle cx="443.52" cy="811.99" r="0.45" fill="#8a84c0" fill-opacity="0.55"/>
<circle cx="452.99" cy="805.00" r="0.45" fill="#8a84c0" fill-opacity="0.55"/>
<circle cx="432.47" cy="814.81" r="0.45" fill="#8a84c0" fill-opacity="0.55"/>
<circle cx="472.11" cy="823.07" r="0.45" fill="#8a84c0" fill-opacity="0.55"/>
<circle cx="459.20" cy="837.70" r="0.45" fill="#8a84c0" fill-opacity="0.55"/>
<circle cx="477.52" cy="841.60" r="0.45" fill="#8a84c0" fill-opacity="0.55"/>
<circle cx="480.05" cy="830.24" r="0.45" fill="#8a84c0" fill-opacity="0.55"/>
<circle cx="453.37" cy="829.05" r="0.45" fill="#8a84c0" fill-opacity="0.55"/>
<circle cx="478.17" cy="813.05" r="0.45" fill="#8a84c0" fill-opacity="0.55"/>
<circle cx="459.71" cy="811.17" r="0.45" fill="#8a84c0" fill-opacity="0.55"/>
<circle cx="468.56" cy="850.90" r="0.45" fill="#8a84c0" fill-opacity="0.55"/>
<circle cx="429.78" cy="829.79" r="0.45" fill="#8a84c0" fill-opacity="0.55"/>
<circle cx="466.13" cy="844.91" r="0.45" fill="#8a84c0" fill-opacity="0.55"/>
<circle cx="462.64" cy="810.07" r="0.45" fill="#8a84c0" fill-opacity="0.55"/>
<circle cx="452.17" cy="851.18" r="0.45" fill="#8a84c0" fill-opacity="0.55"/>
<circle cx="429.88" cy="821.19" r="0.45" fill="#8a84c0" fill-opacity="0.55"/>
<circle cx="466.80" cy="802.41" r="0.45" fill="#8a84c0" fill-opacity="0.55"/>
<circle cx="459.97" cy="814.00" r="0.45" fill="#8a84c0" fill-opacity="0.55"/>
<circle cx="457.34" cy="807.87" r="0.45" fill="#8a84c0" fill-opacity="0.55"/>
<circle cx="438.13" cy="805.78" r="0.45" fill="#8a84c0" fill-opacity="0.55"/>
<circle cx="450.54" cy="836.60" r="0.45" fill="#8a84c0" fill-opacity="0.55"/>
<circle cx="460.63" cy="797.71" r="0.45" fill="#8a84c0" fill-opacity="0.55"/>
<circle cx="470.06" cy="846.21" r="0.45" fill="#8a84c0" fill-opacity="0.55"/>
<circle cx="473.77" cy="841.34" r="0.45" fill="#8a84c0" fill-opacity="0.55"/>
<circle cx="428.86" cy="822.18" r="0.45" fill="#8a84c0" fill-opacity="0.55"/>
<circle cx="438.67" cy="836.69" r="0.45" fill="#8a84c0" fill-opacity="0.55"/>
<circle cx="443.22" cy="835.83" r="0.45" fill="#8a84c0" fill-opacity="0.55"/>
<circle cx="446.78" cy="797.46" r="0.45" fill="#8a84c0" fill-opacity="0.55"/>
<circle cx="451.19" cy="813.13" r="0.45" fill="#8a84c0" fill-opacity="0.55"/>
<circle cx="481.18" cy="812.29" r="0.45" fill="#8a84c0" fill-opacity="0.55"/>
<circle cx="457.88" cy="827.19" r="0.45" fill="#8a84c0" fill-opacity="0.55"/>
<circle cx="463.63" cy="824.78" r="0.45" fill="#8a84c0" fill-opacity="0.55"/>
<circle cx="446.58" cy="835.99" r="0.45" fill="#8a84c0" fill-opacity="0.55"/>
<circle cx="459.21" cy="827.86" r="0.45" fill="#8a84c0" fill-opacity="0.55"/>
<circle cx="485.64" cy="815.82" r="0.45" fill="#8a84c0" fill-opacity="0.55"/>
<circle cx="472.93" cy="821.26" r="0.45" fill="#8a84c0" fill-opacity="0.55"/>
<circle cx="464.81" cy="796.16" r="0.45" fill="#8a84c0" fill-opacity="0.55"/>
<circle cx="466.18" cy="820.94" r="0.45" fill="#8a84c0" fill-opacity="0.55"/>
<circle cx="458.72" cy="817.82" r="0.45" fill="#8a84c0" fill-opacity="0.55"/>
<circle cx="451.93" cy="808.21" r="0.45" fill="#8a84c0" fill-opacity="0.55"/>
<circle cx="431.26" cy="820.43" r="0.45" fill="#8a84c0" fill-opacity="0.55"/>
<circle cx="442.88" cy="836.26" r="0.45" fill="#8a84c0" fill-opacity="0.55"/>
<circle cx="476.29" cy="837.41" r="0.45" fill="#8a84c0" fill-opacity="0.55"/>
<circle cx="455.12" cy="808.86" r="0.45" fill="#8a84c0" fill-opacity="0.55"/>
<circle cx="450.98" cy="823.53" r="0.45" fill="#8a84c0" fill-opacity="0.55"/>
<circle cx="465.42" cy="851.44" r="0.45" fill="#8a84c0" fill-opacity="0.55"/>
<circle cx="433.40" cy="823.11" r="0.45" fill="#8a84c0" fill-opacity="0.55"/>
<circle cx="457.22" cy="837.03" r="0.45" fill="#8a84c0" fill-opacity="0.55"/>
<circle cx="480.58" cy="840.68" r="0.45" fill="#8a84c0" fill-opacity="0.55"/>
<circle cx="465.13" cy="839.45" r="0.45" fill="#8a84c0" fill-opacity="0.55"/>
<circle cx="467.55" cy="845.33" r="0.45" fill="#8a84c0" fill-opacity="0.55"/>
<circle cx="469.36" cy="835.02" r="0.45" fill="#8a84c0" fill-opacity="0.55"/>
<circle cx="442.77" cy="848.72" r="0.45" fill="#8a84c0" fill-opacity="0.55"/>
<circle cx="451.02" cy="831.02" r="0.45" fill="#8a84c0" fill-opacity="0.55"/>
<circle cx="446.72" cy="813.27" r="0.45" fill="#8a84c0" fill-opacity="0.55"/>
<circle cx="451.33" cy="803.52" r="0.45" fill="#8a84c0" fill-opacity="0.55"/>
<circle cx="460.82" cy="799.66" r="0.45" fill="#8a84c0" fill-opacity="0.55"/>
<circle cx="446.13" cy="850.29" r="0.45" fill="#8a84c0" fill-opacity="0.55"/>
<circle cx="471.90" cy="822.09" r="0.45" fill="#8a84c0" fill-opacity="0.55"/>
<circle cx="469.65" cy="807.06" r="0.45" fill="#8a84c0" fill-opacity="0.55"/>
<circle cx="448.05" cy="832.60" r="0.45" fill="#8a84c0" fill-opacity="0.55"/>
<circle cx="468.34" cy="810.29" r="0.45" fill="#8a84c0" fill-opacity="0.55"/>
<circle cx="484.14" cy="813.88" r="0.45" fill="#8a84c0" fill-opacity="0.55"/>
<circle cx="443.30" cy="844.54" r="0.45" fill="#8a84c0" fill-opacity="0.55"/>
<circle cx="437.39" cy="834.92" r="0.45" fill="#8a84c0" fill-opacity="0.55"/>
<circle cx="440.11" cy="830.04" r="0.45" fill="#8a84c0" fill-opacity="0.55"/>
<circle cx="444.66" cy="817.21" r="0.45" fill="#8a84c0" fill-opacity="0.55"/>
<circle cx="483.53" cy="822.36" r="0.45" fill="#8a84c0" fill-opacity="0.55"/>
<circle cx="454.00" cy="831.16" r="0.45" fill="#8a84c0" fill-opacity="0.55"/>
<circle cx="444.84" cy="805.22" r="0.45" fill="#8a84c0" fill-opacity="0.55"/>
<circle cx="450.94" cy="810.96" r="0.45" fill="#8a84c0" fill-opacity="0.55"/>
<circle cx="483.18" cy="836.29" r="0.45" fill="#8a84c0" fill-opacity="0.55"/>
<circle cx="429.51" cy="824.37" r="0.45" fill="#8a84c0" fill-opacity="0.55"/>
<circle cx="430.70" cy="830.62" r="0.45" fill="#8a84c0" fill-opacity="0.55"/>
<circle cx="469.44" cy="809.08" r="0.45" fill="#8a84c0" fill-opacity="0.55"/>
<circle cx="428.85" cy="826.90" r="0.45" fill="#8a84c0" fill-opacity="0.55"/>
<circle cx="433.94" cy="813.11" r="0.45" fill="#8a84c0" fill-opacity="0.55"/>
<circle cx="455.01" cy="847.42" r="0.45" fill="#8a84c0" fill-opacity="0.55"/>
<circle cx="450.08" cy="802.91" r="0.45" fill="#8a84c0" fill-opacity="0.55"/>
<circle cx="474.79" cy="843.19" r="0.45" fill="#8a84c0" fill-opacity="0.55"/>
<circle cx="459.42" cy="797.88" r="0.45" fill="#8a84c0" fill-opacity="0.55"/>
<circle cx="439.39" cy="818.61" r="0.45" fill="#8a84c0" fill-opacity="0.55"/>
<circle cx="460.74" cy="808.19" r="0.45" fill="#8a84c0" fill-opacity="0.55"/>
<circle cx="475.42" cy="844.43" r="0.45" fill="#8a84c0" fill-opacity="0.55"/>
<circle cx="429.43" cy="829.11" r="0.45" fill="#8a84c0" fill-opacity="0.55"/>
<circle cx="472.17" cy="839.49" r="0.45" fill="#8a84c0" fill-opacity="0.55"/>
<circle cx="476.17" cy="830.54" r="0.45" fill="#8a84c0" fill-opacity="0.55"/>
<circle cx="464.75" cy="822.61" r="0.45" fill="#8a84c0" fill-opacity="0.55"/>
<circle cx="475.29" cy="814.81" r="0.45" fill="#8a84c0" fill-opacity="0.55"/>
<circle cx="444.21" cy="815.69" r="0.45" fill="#8a84c0" fill-opacity="0.55"/>
<circle cx="445.86" cy="831.75" r="0.45" fill="#8a84c0" fill-opacity="0.55"/>
<circle cx="432.36" cy="824.99" r="0.45" fill="#8a84c0" fill-opacity="0.55"/>
<circle cx="468.13" cy="806.12" r="0.45" fill="#8a84c0" fill-opacity="0.55"/>
<circle cx="444.21" cy="798.44" r="0.45" fill="#8a84c0" fill-opacity="0.55"/>
<circle cx="430.58" cy="824.01" r="0.45" fill="#8a84c0" fill-opacity="0.55"/>
<circle cx="468.29" cy="833.28" r="0.45" fill="#8a84c0" fill-opacity="0.55"/>
<circle cx="482.95" cy="826.56" r="0.45" fill="#8a84c0" fill-opacity="0.55"/>
<circle cx="452.33" cy="835.48" r="0.45" fill="#8a84c0" fill-opacity="0.55"/>
<circle cx="471.05" cy="825.74" r="0.45" fill="#8a84c0" fill-opacity="0.55"/>
<circle cx="449.04" cy="826.21" r="0.45" fill="#8a84c0" fill-opacity="0.55"/>
<circle cx="465.21" cy="805.20" r="0.45" fill="#8a84c0" fill-opacity="0.55"/>
<circle cx="469.98" cy="823.94" r="0.45" fill="#8a84c0" fill-opacity="0.55"/>
<circle cx="437.89" cy="844.87" r="0.45" fill="#8a84c0" fill-opacity="0.55"/>
<circle cx="468.22" cy="807.73" r="0.45" fill="#8a84c0" fill-opacity="0.55"/>
<circle cx="473.97" cy="847.90" r="0.45" fill="#8a84c0" fill-opacity="0.55"/>
<circle cx="459.65" cy="848.24" r="0.45" fill="#8a84c0" fill-opacity="0.55"/>
<circle cx="485.25" cy="817.86" r="0.45" fill="#8a84c0" fill-opacity="0.55"/>
<circle cx="449.02" cy="830.96" r="0.45" fill="#8a84c0" fill-opacity="0.55"/>
<circle cx="463.98" cy="839.28" r="0.45" fill="#8a84c0" fill-opacity="0.55"/>
<circle cx="466.31" cy="804.46" r="0.45" fill="#8a84c0" fill-opacity="0.55"/>
<circle cx="482.94" cy="826.42" r="0.45" fill="#8a84c0" fill-opacity="0.55"/>
<circle cx="480.07" cy="807.12" r="0.45" fill="#8a84c0" fill-opacity="0.55"/>
<circle cx="473.85" cy="838.36" r="0.45" fill="#8a84c0" fill-opacity="0.55"/>
<circle cx="480.13" cy="816.23" r="0.45" fill="#8a84c0" fill-opacity="0.55"/>
<circle cx="433.25" cy="818.77" r="0.45" fill="#8a84c0" fill-opacity="0.55"/>
<circle cx="438.85" cy="826.63" r="0.45" fill="#8a84c0" fill-opacity="0.55"/>
<circle cx="476.16" cy="816.23" r="0.45" fill="#8a84c0" fill-opacity="0.55"/>
<circle cx="453.18" cy="829.01" r="0.45" fill="#8a84c0" fill-opacity="0.55"/>
<circle cx="440.76" cy="801.27" r="0.45" fill="#8a84c0" fill-opacity="0.55"/>
<circle cx="482.76" cy="825.65" r="0.45" fill="#8a84c0" fill-opacity="0.55"/>
<circle cx="480.85" cy="825.12" r="0.45" fill="#8a84c0" fill-opacity="0.55"/>
<circle cx="435.60" cy="809.07" r="0.45" fill="#8a84c0" fill-opacity="0.55"/>
<circle cx="453.26" cy="832.55" r="0.45" fill="#8a84c0" fill-opacity="0.55"/>
<circle cx="473.57" cy="839.03" r="0.45" fill="#8a84c0" fill-opacity="0.55"/>
<circle cx="466.54" cy="809.82" r="0.45" fill="#8a84c0" fill-opacity="0.55"/>
<circle cx="453.61" cy="817.15" r="0.45" fill="#8a84c0" fill-opacity="0.55"/>
<circle cx="457.09" cy="810.56" r="0.45" fill="#8a84c0" fill-opacity="0.55"/>
<circle cx="459.92" cy="821.88" r="0.45" fill="#8a84c0" fill-opacity="0.55"/>
<circle cx="462.77" cy="842.04" r="0.45" fill="#8a84c0" fill-opacity="0.55"/>
<circle cx="471.56" cy="837.83" r="0.45" fill="#8a84c0" fill-opacity="0.55"/>
<circle cx="467.33" cy="829.07" r="0.45" fill="#8a84c0" fill-opacity="0.55"/>
<circle cx="439.94" cy="808.32" r="0.45" fill="#8a84c0" fill-opacity="0.55"/>
<circle cx="471.42" cy="842.61" r="0.45" fill="#8a84c0" fill-opacity="0.55"/>
<circle cx="456.69" cy="798.22" r="0.45" fill="#8a84c0" fill-opacity="0.55"/>
<circle cx="450.11" cy="843.43" r="0.45" fill="#8a84c0" fill-opacity="0.55"/>
<circle cx="457.69" cy="822.04" r="0.45" fill="#8a84c0" fill-opacity="0.55"/>
<circle cx="451.22" cy="831.83" r="0.45" fill="#8a84c0" fill-opacity="0.55"/>
<circle cx="463.47" cy="835.61" r="0.45" fill="#8a84c0" fill-opacity="0.55"/>
<circle cx="479.11" cy="839.03" r="0.45" fill="#8a84c0" fill-opacity="0.55"/>
<circle cx="450.37" cy="809.67" r="0.45" fill="#8a84c0" fill-opacity="0.55"/>
<circle cx="474.22" cy="841.47" r="0.45" fill="#8a84c0" fill-opacity="0.55"/>
<circle cx="432.93" cy="813.05" r="0.45" fill="#8a84c0" fill-opacity="0.55"/>
<circle cx="465.53" cy="803.56" r="0.45" fill="#8a84c0" fill-opacity="0.55"/>
<circle cx="477.11" cy="810.52" r="0.45" fill="#8a84c0" fill-opacity="0.55"/>
<circle cx="468.39" cy="812.33" r="0.45" fill="#8a84c0" fill-opacity="0.55"/>
<circle cx="441.19" cy="807.13" r="0.45" fill="#8a84c0" fill-opacity="0.55"/>
<circle cx="457.56" cy="836.78" r="0.45" fill="#8a84c0" fill-opacity="0.55"/>
<circle cx="441.17" cy="835.22" r="0.45" fill="#8a84c0" fill-opacity="0.55"/>
<circle cx="448.04" cy="833.05" r="0.45" fill="#8a84c0" fill-opacity="0.55"/>
<circle cx="449.98" cy="806.32" r="0.45" fill="#8a84c0" fill-opacity="0.55"/>
<circle cx="469.21" cy="819.24" r="0.45" fill="#8a84c0" fill-opacity="0.55"/>
<circle cx="470.87" cy="829.85" r="0.45" fill="#8a84c0" fill-opacity="0.55"/>
<circle cx="454.40" cy="824.34" r="0.45" fill="#8a84c0" fill-opacity="0.55"/>
<circle cx="484.79" cy="816.91" r="0.45" fill="#8a84c0" fill-opacity="0.55"/>
<circle cx="465.68" cy="832.25" r="0.45" fill="#8a84c0" fill-opacity="0.55"/>
<circle cx="449.83" cy="815.30" r="0.45" fill="#8a84c0" fill-opacity="0.55"/>
<circle cx="472.64" cy="832.26" r="0.45" fill="#8a84c0" fill-opacity="0.55"/>
<circle cx="455.18" cy="825.11" r="0.45" fill="#8a84c0" fill-opacity="0.55"/>
<circle cx="441.50" cy="841.26" r="0.45" fill="#8a84c0" fill-opacity="0.55"/>
<circle cx="455.06" cy="807.97" r="0.45" fill="#8a84c0" fill-opacity="0.55"/>
<circle cx="462.79" cy="829.17" r="0.45" fill="#8a84c0" fill-opacity="0.55"/>
<circle cx="433.49" cy="823.72" r="0.45" fill="#8a84c0" fill-opacity="0.55"/>
<circle cx="438.07" cy="841.83" r="0.45" fill="#8a84c0" fill-opacity="0.55"/>
</g>
<circle cx="457.70" cy="824.30" r="30.30" fill="none" stroke="#d0cee0" stroke-width="1.6" stroke-opacity="0.9"/>
<circle cx="457.70" cy="824.30" r="29.30" fill="none" stroke="#a4a2b8" stroke-width="0.7"/>
<circle cx="457.70" cy="824.30" r="31.85" fill="none" stroke="#3a3a3a" stroke-width="0.9"/>
<clipPath id="cp8"><circle cx="528.50" cy="824.00" r="31.70"/></clipPath>
<circle cx="528.50" cy="824.00" r="32.20" fill="#e2def0"/>
<g clip-path="url(#cp8)">
<circle cx="518.12" cy="813.70" r="0.70" fill="#8a48c0" fill-opacity="0.6"/>
<circle cx="525.91" cy="806.11" r="0.70" fill="#9a60cc" fill-opacity="0.6"/>
<circle cx="507.98" cy="803.19" r="1.10" fill="#8a48c0" fill-opacity="0.6"/>
<circle cx="508.50" cy="832.60" r="1.10" fill="#7a3cb4" fill-opacity="0.6"/>
<circle cx="540.53" cy="806.49" r="0.70" fill="#8a48c0" fill-opacity="0.6"/>
<circle cx="545.30" cy="807.17" r="1.10" fill="#8a48c0" fill-opacity="0.6"/>
<circle cx="513.18" cy="819.91" r="1.10" fill="#9a60cc" fill-opacity="0.6"/>
<circle cx="516.66" cy="813.09" r="1.10" fill="#7a3cb4" fill-opacity="0.6"/>
<circle cx="551.57" cy="819.06" r="1.10" fill="#7a3cb4" fill-opacity="0.6"/>
<circle cx="501.28" cy="818.24" r="1.10" fill="#7a3cb4" fill-opacity="0.6"/>
<circle cx="545.07" cy="837.18" r="1.10" fill="#8a48c0" fill-opacity="0.6"/>
<circle cx="515.85" cy="816.27" r="0.90" fill="#9a60cc" fill-opacity="0.6"/>
<circle cx="514.35" cy="848.99" r="0.90" fill="#8a48c0" fill-opacity="0.6"/>
<circle cx="505.43" cy="829.09" r="0.90" fill="#7a3cb4" fill-opacity="0.6"/>
<circle cx="547.74" cy="802.28" r="1.10" fill="#8a48c0" fill-opacity="0.6"/>
<circle cx="517.21" cy="817.43" r="0.90" fill="#9a60cc" fill-opacity="0.6"/>
<circle cx="539.13" cy="848.39" r="0.70" fill="#7a3cb4" fill-opacity="0.6"/>
<circle cx="543.24" cy="843.64" r="1.10" fill="#9a60cc" fill-opacity="0.6"/>
<circle cx="511.58" cy="846.99" r="1.10" fill="#8a48c0" fill-opacity="0.6"/>
<circle cx="501.30" cy="831.57" r="1.10" fill="#7a3cb4" fill-opacity="0.6"/>
<circle cx="524.59" cy="840.23" r="0.70" fill="#7a3cb4" fill-opacity="0.6"/>
<circle cx="528.67" cy="803.76" r="0.70" fill="#8a48c0" fill-opacity="0.6"/>
<circle cx="513.42" cy="815.28" r="0.90" fill="#8a48c0" fill-opacity="0.6"/>
<circle cx="515.31" cy="829.66" r="0.70" fill="#9a60cc" fill-opacity="0.6"/>
<circle cx="520.62" cy="802.60" r="0.90" fill="#9a60cc" fill-opacity="0.6"/>
<circle cx="507.25" cy="834.75" r="1.10" fill="#9a60cc" fill-opacity="0.6"/>
<circle cx="542.60" cy="798.71" r="0.70" fill="#8a48c0" fill-opacity="0.6"/>
<circle cx="541.64" cy="812.25" r="1.10" fill="#7a3cb4" fill-opacity="0.6"/>
<circle cx="547.77" cy="840.96" r="1.10" fill="#7a3cb4" fill-opacity="0.6"/>
<circle cx="500.17" cy="828.67" r="0.90" fill="#8a48c0" fill-opacity="0.6"/>
<circle cx="546.15" cy="830.75" r="1.10" fill="#8a48c0" fill-opacity="0.6"/>
<circle cx="545.89" cy="846.33" r="0.70" fill="#7a3cb4" fill-opacity="0.6"/>
<circle cx="557.21" cy="823.96" r="1.10" fill="#9a60cc" fill-opacity="0.6"/>
<circle cx="529.33" cy="852.16" r="1.10" fill="#7a3cb4" fill-opacity="0.6"/>
<circle cx="521.35" cy="849.72" r="0.70" fill="#9a60cc" fill-opacity="0.6"/>
<circle cx="521.68" cy="802.21" r="0.70" fill="#8a48c0" fill-opacity="0.6"/>
<circle cx="526.90" cy="798.47" r="0.90" fill="#8a48c0" fill-opacity="0.6"/>
<circle cx="509.10" cy="828.97" r="1.10" fill="#7a3cb4" fill-opacity="0.6"/>
<circle cx="550.83" cy="811.48" r="0.90" fill="#9a60cc" fill-opacity="0.6"/>
<circle cx="531.75" cy="810.76" r="0.70" fill="#9a60cc" fill-opacity="0.6"/>
<circle cx="523.06" cy="841.51" r="0.90" fill="#7a3cb4" fill-opacity="0.6"/>
<circle cx="536.01" cy="812.76" r="1.10" fill="#7a3cb4" fill-opacity="0.6"/>
<circle cx="519.20" cy="850.17" r="0.90" fill="#8a48c0" fill-opacity="0.6"/>
<circle cx="536.43" cy="843.11" r="0.90" fill="#8a48c0" fill-opacity="0.6"/>
<circle cx="508.51" cy="814.75" r="0.70" fill="#9a60cc" fill-opacity="0.6"/>
<circle cx="508.91" cy="828.39" r="1.10" fill="#8a48c0" fill-opacity="0.6"/>
<circle cx="549.47" cy="844.82" r="1.10" fill="#9a60cc" fill-opacity="0.6"/>
<circle cx="508.64" cy="839.65" r="0.70" fill="#8a48c0" fill-opacity="0.6"/>
<circle cx="554.21" cy="812.50" r="0.90" fill="#7a3cb4" fill-opacity="0.6"/>
<circle cx="511.50" cy="817.77" r="0.90" fill="#9a60cc" fill-opacity="0.6"/>
<circle cx="516.45" cy="807.66" r="0.90" fill="#8a48c0" fill-opacity="0.6"/>
<circle cx="526.16" cy="835.57" r="0.70" fill="#8a48c0" fill-opacity="0.6"/>
<circle cx="541.66" cy="820.30" r="0.70" fill="#7a3cb4" fill-opacity="0.6"/>
<circle cx="541.38" cy="823.19" r="0.70" fill="#9a60cc" fill-opacity="0.6"/>
<circle cx="553.06" cy="830.98" r="0.70" fill="#9a60cc" fill-opacity="0.6"/>
<circle cx="529.76" cy="837.31" r="0.70" fill="#9a60cc" fill-opacity="0.6"/>
<circle cx="503.90" cy="818.45" r="1.10" fill="#7a3cb4" fill-opacity="0.6"/>
<circle cx="545.78" cy="823.31" r="0.90" fill="#8a48c0" fill-opacity="0.6"/>
<circle cx="532.44" cy="832.36" r="0.70" fill="#7a3cb4" fill-opacity="0.6"/>
<circle cx="508.07" cy="818.66" r="0.90" fill="#9a60cc" fill-opacity="0.6"/>
<circle cx="514.20" cy="815.15" r="1.10" fill="#9a60cc" fill-opacity="0.6"/>
<circle cx="505.46" cy="825.99" r="0.70" fill="#8a48c0" fill-opacity="0.6"/>
<circle cx="536.99" cy="847.31" r="0.90" fill="#7a3cb4" fill-opacity="0.6"/>
<circle cx="526.86" cy="824.94" r="0.70" fill="#9a60cc" fill-opacity="0.6"/>
<circle cx="531.58" cy="810.77" r="0.70" fill="#9a60cc" fill-opacity="0.6"/>
<circle cx="532.83" cy="813.00" r="1.10" fill="#9a60cc" fill-opacity="0.6"/>
<circle cx="527.50" cy="819.21" r="0.70" fill="#9a60cc" fill-opacity="0.6"/>
<circle cx="510.72" cy="804.78" r="1.10" fill="#9a60cc" fill-opacity="0.6"/>
<circle cx="548.45" cy="822.86" r="1.10" fill="#9a60cc" fill-opacity="0.6"/>
<circle cx="514.72" cy="824.12" r="0.70" fill="#9a60cc" fill-opacity="0.6"/>
<circle cx="537.10" cy="831.72" r="0.70" fill="#7a3cb4" fill-opacity="0.6"/>
<circle cx="532.29" cy="797.75" r="1.10" fill="#8a48c0" fill-opacity="0.6"/>
<circle cx="540.29" cy="824.63" r="1.10" fill="#9a60cc" fill-opacity="0.6"/>
<circle cx="512.72" cy="819.81" r="0.90" fill="#9a60cc" fill-opacity="0.6"/>
<circle cx="549.34" cy="817.80" r="1.10" fill="#9a60cc" fill-opacity="0.6"/>
<circle cx="509.31" cy="805.53" r="1.10" fill="#7a3cb4" fill-opacity="0.6"/>
<circle cx="556.61" cy="819.07" r="1.10" fill="#9a60cc" fill-opacity="0.6"/>
<circle cx="536.28" cy="845.43" r="0.90" fill="#7a3cb4" fill-opacity="0.6"/>
<circle cx="533.70" cy="847.62" r="0.70" fill="#9a60cc" fill-opacity="0.6"/>
<circle cx="520.24" cy="816.45" r="0.90" fill="#9a60cc" fill-opacity="0.6"/>
<circle cx="524.17" cy="797.43" r="1.10" fill="#8a48c0" fill-opacity="0.6"/>
<circle cx="509.64" cy="814.08" r="0.70" fill="#8a48c0" fill-opacity="0.6"/>
<circle cx="544.76" cy="804.36" r="1.10" fill="#9a60cc" fill-opacity="0.6"/>
<circle cx="541.77" cy="834.43" r="0.70" fill="#8a48c0" fill-opacity="0.6"/>
<circle cx="527.36" cy="845.56" r="1.10" fill="#8a48c0" fill-opacity="0.6"/>
<circle cx="508.61" cy="817.81" r="0.90" fill="#7a3cb4" fill-opacity="0.6"/>
<circle cx="521.30" cy="831.55" r="0.70" fill="#7a3cb4" fill-opacity="0.6"/>
<circle cx="546.64" cy="816.99" r="0.70" fill="#9a60cc" fill-opacity="0.6"/>
<circle cx="538.68" cy="832.67" r="0.70" fill="#8a48c0" fill-opacity="0.6"/>
<circle cx="505.30" cy="814.20" r="0.70" fill="#7a3cb4" fill-opacity="0.6"/>
<circle cx="546.54" cy="814.22" r="0.90" fill="#9a60cc" fill-opacity="0.6"/>
<circle cx="527.14" cy="799.05" r="1.10" fill="#7a3cb4" fill-opacity="0.6"/>
<circle cx="553.34" cy="828.55" r="0.70" fill="#7a3cb4" fill-opacity="0.6"/>
<circle cx="529.48" cy="799.33" r="0.70" fill="#7a3cb4" fill-opacity="0.6"/>
<circle cx="522.41" cy="833.37" r="0.90" fill="#7a3cb4" fill-opacity="0.6"/>
<circle cx="551.54" cy="842.08" r="0.90" fill="#8a48c0" fill-opacity="0.6"/>
<circle cx="537.16" cy="797.25" r="1.10" fill="#9a60cc" fill-opacity="0.6"/>
<circle cx="532.97" cy="808.48" r="0.90" fill="#7a3cb4" fill-opacity="0.6"/>
<circle cx="532.95" cy="827.57" r="0.70" fill="#9a60cc" fill-opacity="0.6"/>
<circle cx="545.16" cy="816.81" r="0.90" fill="#8a48c0" fill-opacity="0.6"/>
<circle cx="517.28" cy="844.46" r="0.90" fill="#7a3cb4" fill-opacity="0.6"/>
<circle cx="536.34" cy="852.89" r="0.70" fill="#9a60cc" fill-opacity="0.6"/>
<circle cx="505.55" cy="823.88" r="1.10" fill="#7a3cb4" fill-opacity="0.6"/>
<circle cx="517.66" cy="844.62" r="0.90" fill="#7a3cb4" fill-opacity="0.6"/>
<circle cx="521.89" cy="825.56" r="0.70" fill="#8a48c0" fill-opacity="0.6"/>
<circle cx="509.12" cy="839.00" r="0.70" fill="#8a48c0" fill-opacity="0.6"/>
<circle cx="520.81" cy="818.27" r="1.10" fill="#9a60cc" fill-opacity="0.6"/>
<circle cx="522.49" cy="800.38" r="1.10" fill="#8a48c0" fill-opacity="0.6"/>
<circle cx="503.71" cy="831.07" r="1.10" fill="#7a3cb4" fill-opacity="0.6"/>
<circle cx="509.96" cy="841.79" r="0.70" fill="#7a3cb4" fill-opacity="0.6"/>
<circle cx="537.41" cy="806.16" r="0.90" fill="#9a60cc" fill-opacity="0.6"/>
<circle cx="522.34" cy="835.78" r="0.70" fill="#9a60cc" fill-opacity="0.6"/>
<circle cx="505.14" cy="818.10" r="0.70" fill="#9a60cc" fill-opacity="0.6"/>
<circle cx="543.87" cy="845.04" r="0.90" fill="#7a3cb4" fill-opacity="0.6"/>
<circle cx="523.88" cy="797.70" r="0.90" fill="#9a60cc" fill-opacity="0.6"/>
<circle cx="537.74" cy="795.51" r="1.10" fill="#8a48c0" fill-opacity="0.6"/>
<circle cx="500.47" cy="823.08" r="1.10" fill="#7a3cb4" fill-opacity="0.6"/>
<circle cx="517.40" cy="836.34" r="1.10" fill="#8a48c0" fill-opacity="0.6"/>
<circle cx="533.34" cy="810.19" r="1.10" fill="#9a60cc" fill-opacity="0.6"/>
<circle cx="516.90" cy="837.16" r="0.70" fill="#9a60cc" fill-opacity="0.6"/>
<circle cx="552.25" cy="828.15" r="0.90" fill="#9a60cc" fill-opacity="0.6"/>
<circle cx="549.41" cy="817.32" r="1.10" fill="#8a48c0" fill-opacity="0.6"/>
<circle cx="514.05" cy="835.64" r="0.70" fill="#9a60cc" fill-opacity="0.6"/>
<circle cx="519.31" cy="822.46" r="0.90" fill="#8a48c0" fill-opacity="0.6"/>
<circle cx="527.64" cy="832.01" r="0.90" fill="#8a48c0" fill-opacity="0.6"/>
<circle cx="530.48" cy="814.21" r="0.70" fill="#8a48c0" fill-opacity="0.6"/>
<circle cx="546.37" cy="836.46" r="1.10" fill="#9a60cc" fill-opacity="0.6"/>
<circle cx="522.20" cy="828.81" r="0.70" fill="#9a60cc" fill-opacity="0.6"/>
<circle cx="509.32" cy="843.78" r="0.70" fill="#9a60cc" fill-opacity="0.6"/>
<circle cx="553.23" cy="828.53" r="0.90" fill="#9a60cc" fill-opacity="0.6"/>
<circle cx="536.59" cy="806.10" r="0.90" fill="#7a3cb4" fill-opacity="0.6"/>
<circle cx="517.33" cy="845.90" r="0.70" fill="#9a60cc" fill-opacity="0.6"/>
<circle cx="519.37" cy="819.13" r="0.90" fill="#7a3cb4" fill-opacity="0.6"/>
<circle cx="520.08" cy="816.24" r="1.10" fill="#8a48c0" fill-opacity="0.6"/>
<circle cx="545.58" cy="808.74" r="0.90" fill="#9a60cc" fill-opacity="0.6"/>
<circle cx="531.03" cy="844.33" r="0.70" fill="#9a60cc" fill-opacity="0.6"/>
<circle cx="534.40" cy="814.34" r="1.10" fill="#8a48c0" fill-opacity="0.6"/>
<circle cx="500.72" cy="821.63" r="0.90" fill="#9a60cc" fill-opacity="0.6"/>
<circle cx="523.92" cy="844.80" r="0.70" fill="#9a60cc" fill-opacity="0.6"/>
<circle cx="524.68" cy="835.08" r="0.70" fill="#8a48c0" fill-opacity="0.6"/>
<circle cx="530.32" cy="853.46" r="1.10" fill="#8a48c0" fill-opacity="0.6"/>
<circle cx="518.99" cy="801.14" r="1.10" fill="#9a60cc" fill-opacity="0.6"/>
<circle cx="524.08" cy="809.93" r="0.70" fill="#7a3cb4" fill-opacity="0.6"/>
<circle cx="552.39" cy="809.71" r="0.90" fill="#7a3cb4" fill-opacity="0.6"/>
<circle cx="547.86" cy="805.17" r="0.90" fill="#7a3cb4" fill-opacity="0.6"/>
<circle cx="526.22" cy="831.99" r="0.90" fill="#8a48c0" fill-opacity="0.6"/>
<circle cx="519.96" cy="843.23" r="0.70" fill="#9a60cc" fill-opacity="0.6"/>
<circle cx="529.22" cy="852.50" r="0.70" fill="#9a60cc" fill-opacity="0.6"/>
<circle cx="535.30" cy="845.60" r="0.70" fill="#7a3cb4" fill-opacity="0.6"/>
<circle cx="508.79" cy="815.21" r="0.70" fill="#7a3cb4" fill-opacity="0.6"/>
<circle cx="544.52" cy="845.55" r="1.10" fill="#7a3cb4" fill-opacity="0.6"/>
<circle cx="521.57" cy="812.93" r="0.70" fill="#7a3cb4" fill-opacity="0.6"/>
<circle cx="517.12" cy="830.80" r="0.70" fill="#9a60cc" fill-opacity="0.6"/>
<circle cx="501.92" cy="813.44" r="0.90" fill="#9a60cc" fill-opacity="0.6"/>
<circle cx="530.70" cy="813.38" r="1.10" fill="#8a48c0" fill-opacity="0.6"/>
<circle cx="508.91" cy="839.44" r="0.90" fill="#7a3cb4" fill-opacity="0.6"/>
<circle cx="525.30" cy="841.65" r="0.70" fill="#9a60cc" fill-opacity="0.6"/>
<circle cx="541.65" cy="798.34" r="0.70" fill="#8a48c0" fill-opacity="0.6"/>
<circle cx="540.20" cy="849.47" r="0.70" fill="#9a60cc" fill-opacity="0.6"/>
<circle cx="539.37" cy="803.52" r="0.70" fill="#8a48c0" fill-opacity="0.6"/>
<circle cx="525.10" cy="828.12" r="1.10" fill="#7a3cb4" fill-opacity="0.6"/>
<circle cx="522.90" cy="796.11" r="0.90" fill="#9a60cc" fill-opacity="0.6"/>
<circle cx="524.33" cy="829.43" r="0.70" fill="#9a60cc" fill-opacity="0.6"/>
<circle cx="532.45" cy="832.70" r="0.90" fill="#8a48c0" fill-opacity="0.6"/>
<circle cx="545.35" cy="812.63" r="1.10" fill="#9a60cc" fill-opacity="0.6"/>
<circle cx="544.09" cy="845.81" r="1.10" fill="#8a48c0" fill-opacity="0.6"/>
<circle cx="516.34" cy="818.67" r="1.10" fill="#7a3cb4" fill-opacity="0.6"/>
<circle cx="502.54" cy="829.49" r="1.10" fill="#9a60cc" fill-opacity="0.6"/>
<circle cx="525.63" cy="812.31" r="1.10" fill="#8a48c0" fill-opacity="0.6"/>
<circle cx="524.54" cy="852.78" r="0.70" fill="#7a3cb4" fill-opacity="0.6"/>
<circle cx="552.43" cy="832.23" r="0.90" fill="#8a48c0" fill-opacity="0.6"/>
<circle cx="515.92" cy="837.11" r="1.10" fill="#7a3cb4" fill-opacity="0.6"/>
<circle cx="521.55" cy="831.84" r="0.70" fill="#9a60cc" fill-opacity="0.6"/>
<circle cx="550.06" cy="812.71" r="0.90" fill="#7a3cb4" fill-opacity="0.6"/>
<circle cx="544.19" cy="846.56" r="0.90" fill="#8a48c0" fill-opacity="0.6"/>
<circle cx="549.33" cy="803.17" r="1.10" fill="#7a3cb4" fill-opacity="0.6"/>
<circle cx="540.12" cy="802.55" r="0.90" fill="#7a3cb4" fill-opacity="0.6"/>
<circle cx="505.96" cy="817.55" r="0.70" fill="#7a3cb4" fill-opacity="0.6"/>
<circle cx="509.57" cy="821.52" r="1.10" fill="#9a60cc" fill-opacity="0.6"/>
<circle cx="546.68" cy="824.54" r="0.90" fill="#7a3cb4" fill-opacity="0.6"/>
<circle cx="532.38" cy="803.59" r="0.70" fill="#7a3cb4" fill-opacity="0.6"/>
<circle cx="545.89" cy="832.70" r="0.70" fill="#8a48c0" fill-opacity="0.6"/>
<circle cx="520.38" cy="829.85" r="0.90" fill="#7a3cb4" fill-opacity="0.6"/>
<circle cx="509.30" cy="811.04" r="0.90" fill="#8a48c0" fill-opacity="0.6"/>
<circle cx="524.61" cy="840.00" r="0.90" fill="#9a60cc" fill-opacity="0.6"/>
<circle cx="523.42" cy="833.24" r="0.90" fill="#9a60cc" fill-opacity="0.6"/>
<circle cx="514.61" cy="817.39" r="0.90" fill="#9a60cc" fill-opacity="0.6"/>
<circle cx="524.78" cy="803.53" r="1.10" fill="#8a48c0" fill-opacity="0.6"/>
<circle cx="525.53" cy="837.29" r="0.70" fill="#9a60cc" fill-opacity="0.6"/>
<circle cx="516.58" cy="801.13" r="0.70" fill="#8a48c0" fill-opacity="0.6"/>
<circle cx="538.83" cy="836.13" r="0.70" fill="#8a48c0" fill-opacity="0.6"/>
<circle cx="518.77" cy="796.50" r="0.90" fill="#8a48c0" fill-opacity="0.6"/>
<circle cx="531.56" cy="813.83" r="1.10" fill="#9a60cc" fill-opacity="0.6"/>
<circle cx="528.97" cy="853.64" r="0.70" fill="#7a3cb4" fill-opacity="0.6"/>
<circle cx="545.71" cy="830.43" r="0.90" fill="#8a48c0" fill-opacity="0.6"/>
<circle cx="519.87" cy="831.17" r="0.90" fill="#8a48c0" fill-opacity="0.6"/>
<circle cx="524.71" cy="853.59" r="0.70" fill="#9a60cc" fill-opacity="0.6"/>
<circle cx="529.81" cy="822.10" r="0.70" fill="#7a3cb4" fill-opacity="0.6"/>
<circle cx="546.47" cy="810.51" r="0.70" fill="#8a48c0" fill-opacity="0.6"/>
<circle cx="520.81" cy="837.64" r="1.10" fill="#7a3cb4" fill-opacity="0.6"/>
<circle cx="549.98" cy="823.37" r="0.70" fill="#9a60cc" fill-opacity="0.6"/>
<circle cx="505.84" cy="808.70" r="1.10" fill="#8a48c0" fill-opacity="0.6"/>
<circle cx="525.30" cy="815.54" r="0.90" fill="#7a3cb4" fill-opacity="0.6"/>
<circle cx="512.21" cy="824.04" r="1.10" fill="#9a60cc" fill-opacity="0.6"/>
<circle cx="544.56" cy="804.76" r="0.90" fill="#8a48c0" fill-opacity="0.6"/>
<circle cx="533.31" cy="817.03" r="0.70" fill="#9a60cc" fill-opacity="0.6"/>
<circle cx="515.87" cy="810.18" r="0.90" fill="#9a60cc" fill-opacity="0.6"/>
<circle cx="531.02" cy="852.80" r="0.70" fill="#9a60cc" fill-opacity="0.6"/>
<circle cx="513.20" cy="847.77" r="0.90" fill="#7a3cb4" fill-opacity="0.6"/>
<circle cx="538.52" cy="837.30" r="0.70" fill="#7a3cb4" fill-opacity="0.6"/>
<circle cx="553.61" cy="835.68" r="0.90" fill="#7a3cb4" fill-opacity="0.6"/>
<circle cx="504.56" cy="825.62" r="0.70" fill="#7a3cb4" fill-opacity="0.6"/>
<circle cx="517.92" cy="848.79" r="0.90" fill="#7a3cb4" fill-opacity="0.6"/>
<circle cx="540.76" cy="818.12" r="0.70" fill="#8a48c0" fill-opacity="0.6"/>
<circle cx="527.57" cy="836.80" r="1.10" fill="#9a60cc" fill-opacity="0.6"/>
<circle cx="522.44" cy="818.98" r="0.90" fill="#9a60cc" fill-opacity="0.6"/>
<circle cx="550.94" cy="831.15" r="1.10" fill="#8a48c0" fill-opacity="0.6"/>
<circle cx="530.48" cy="829.45" r="0.70" fill="#9a60cc" fill-opacity="0.6"/>
<circle cx="513.45" cy="815.22" r="0.70" fill="#9a60cc" fill-opacity="0.6"/>
<circle cx="503.64" cy="836.76" r="0.90" fill="#8a48c0" fill-opacity="0.6"/>
<circle cx="542.97" cy="817.52" r="0.70" fill="#7a3cb4" fill-opacity="0.6"/>
<circle cx="529.24" cy="819.37" r="0.70" fill="#8a48c0" fill-opacity="0.6"/>
<circle cx="531.25" cy="821.22" r="1.10" fill="#8a48c0" fill-opacity="0.6"/>
<circle cx="528.01" cy="850.09" r="0.70" fill="#8a48c0" fill-opacity="0.6"/>
<circle cx="534.52" cy="796.86" r="0.90" fill="#8a48c0" fill-opacity="0.6"/>
<circle cx="514.89" cy="804.25" r="0.70" fill="#8a48c0" fill-opacity="0.6"/>
<circle cx="534.68" cy="802.90" r="0.70" fill="#9a60cc" fill-opacity="0.6"/>
<circle cx="529.78" cy="811.88" r="1.10" fill="#9a60cc" fill-opacity="0.6"/>
<circle cx="530.11" cy="807.77" r="0.70" fill="#8a48c0" fill-opacity="0.6"/>
<circle cx="533.36" cy="820.20" r="0.90" fill="#9a60cc" fill-opacity="0.6"/>
<circle cx="534.93" cy="821.52" r="0.70" fill="#9a60cc" fill-opacity="0.6"/>
<circle cx="556.15" cy="829.38" r="1.10" fill="#7a3cb4" fill-opacity="0.6"/>
<circle cx="514.65" cy="822.39" r="1.10" fill="#9a60cc" fill-opacity="0.6"/>
<circle cx="531.68" cy="846.01" r="0.70" fill="#8a48c0" fill-opacity="0.6"/>
<circle cx="534.12" cy="826.24" r="0.90" fill="#7a3cb4" fill-opacity="0.6"/>
<circle cx="507.95" cy="811.99" r="1.10" fill="#8a48c0" fill-opacity="0.6"/>
<circle cx="503.85" cy="827.56" r="0.90" fill="#8a48c0" fill-opacity="0.6"/>
<circle cx="536.65" cy="823.67" r="0.90" fill="#9a60cc" fill-opacity="0.6"/>
<circle cx="546.96" cy="829.29" r="0.70" fill="#8a48c0" fill-opacity="0.6"/>
<circle cx="509.68" cy="816.75" r="1.10" fill="#7a3cb4" fill-opacity="0.6"/>
<circle cx="526.76" cy="830.36" r="1.10" fill="#7a3cb4" fill-opacity="0.6"/>
<circle cx="505.95" cy="825.82" r="0.70" fill="#7a3cb4" fill-opacity="0.6"/>
<circle cx="548.16" cy="814.63" r="0.90" fill="#8a48c0" fill-opacity="0.6"/>
<circle cx="513.03" cy="842.35" r="0.70" fill="#8a48c0" fill-opacity="0.6"/>
<circle cx="499.95" cy="821.44" r="0.90" fill="#8a48c0" fill-opacity="0.6"/>
<circle cx="540.41" cy="845.54" r="0.70" fill="#8a48c0" fill-opacity="0.6"/>
<circle cx="526.51" cy="852.64" r="0.70" fill="#9a60cc" fill-opacity="0.6"/>
<circle cx="502.29" cy="818.44" r="0.90" fill="#8a48c0" fill-opacity="0.6"/>
<circle cx="543.10" cy="822.25" r="0.70" fill="#9a60cc" fill-opacity="0.6"/>
<circle cx="525.62" cy="796.70" r="1.10" fill="#8a48c0" fill-opacity="0.6"/>
<circle cx="515.62" cy="838.65" r="0.90" fill="#8a48c0" fill-opacity="0.6"/>
<circle cx="504.66" cy="822.51" r="0.70" fill="#8a48c0" fill-opacity="0.6"/>
<circle cx="548.65" cy="831.23" r="1.10" fill="#9a60cc" fill-opacity="0.6"/>
<circle cx="543.85" cy="813.65" r="0.90" fill="#7a3cb4" fill-opacity="0.6"/>
<circle cx="528.66" cy="794.76" r="0.90" fill="#7a3cb4" fill-opacity="0.6"/>
<circle cx="526.27" cy="852.24" r="0.70" fill="#7a3cb4" fill-opacity="0.6"/>
<circle cx="544.52" cy="830.82" r="0.70" fill="#7a3cb4" fill-opacity="0.6"/>
<circle cx="509.42" cy="825.58" r="0.70" fill="#7a3cb4" fill-opacity="0.6"/>
<circle cx="528.76" cy="821.92" r="1.10" fill="#8a48c0" fill-opacity="0.6"/>
<circle cx="507.23" cy="831.46" r="0.90" fill="#9a60cc" fill-opacity="0.6"/>
<circle cx="533.58" cy="834.75" r="0.70" fill="#8a48c0" fill-opacity="0.6"/>
<circle cx="547.84" cy="807.35" r="0.70" fill="#9a60cc" fill-opacity="0.6"/>
<circle cx="535.28" cy="802.04" r="0.70" fill="#9a60cc" fill-opacity="0.6"/>
<circle cx="531.82" cy="850.66" r="0.90" fill="#7a3cb4" fill-opacity="0.6"/>
<circle cx="508.79" cy="804.86" r="1.10" fill="#7a3cb4" fill-opacity="0.6"/>
<circle cx="508.10" cy="828.70" r="0.90" fill="#8a48c0" fill-opacity="0.6"/>
<circle cx="549.05" cy="803.17" r="1.10" fill="#8a48c0" fill-opacity="0.6"/>
<circle cx="520.97" cy="830.28" r="1.10" fill="#9a60cc" fill-opacity="0.6"/>
<circle cx="524.92" cy="824.89" r="0.90" fill="#8a48c0" fill-opacity="0.6"/>
<circle cx="510.27" cy="828.29" r="1.10" fill="#9a60cc" fill-opacity="0.6"/>
<circle cx="543.86" cy="849.26" r="1.10" fill="#8a48c0" fill-opacity="0.6"/>
<circle cx="523.34" cy="841.29" r="0.90" fill="#8a48c0" fill-opacity="0.6"/>
<circle cx="520.14" cy="808.61" r="0.90" fill="#7a3cb4" fill-opacity="0.6"/>
<circle cx="514.28" cy="816.41" r="1.10" fill="#7a3cb4" fill-opacity="0.6"/>
<circle cx="535.69" cy="802.12" r="1.10" fill="#8a48c0" fill-opacity="0.6"/>
<circle cx="519.96" cy="822.56" r="1.10" fill="#7a3cb4" fill-opacity="0.6"/>
<circle cx="534.28" cy="814.49" r="0.70" fill="#9a60cc" fill-opacity="0.6"/>
<circle cx="541.70" cy="829.82" r="0.70" fill="#7a3cb4" fill-opacity="0.6"/>
<circle cx="512.70" cy="841.22" r="0.90" fill="#9a60cc" fill-opacity="0.6"/>
<circle cx="524.77" cy="836.13" r="0.70" fill="#9a60cc" fill-opacity="0.6"/>
<circle cx="532.76" cy="831.53" r="0.70" fill="#8a48c0" fill-opacity="0.6"/>
<circle cx="550.54" cy="821.00" r="0.70" fill="#9a60cc" fill-opacity="0.6"/>
<circle cx="511.03" cy="844.50" r="0.70" fill="#7a3cb4" fill-opacity="0.6"/>
<circle cx="522.29" cy="846.77" r="0.70" fill="#9a60cc" fill-opacity="0.6"/>
<circle cx="536.11" cy="838.54" r="1.10" fill="#7a3cb4" fill-opacity="0.6"/>
<circle cx="514.34" cy="829.42" r="0.70" fill="#7a3cb4" fill-opacity="0.6"/>
<circle cx="542.44" cy="835.27" r="0.70" fill="#9a60cc" fill-opacity="0.6"/>
<circle cx="525.21" cy="848.57" r="0.70" fill="#9a60cc" fill-opacity="0.6"/>
<circle cx="544.15" cy="818.55" r="0.70" fill="#9a60cc" fill-opacity="0.6"/>
<circle cx="532.49" cy="827.19" r="0.90" fill="#9a60cc" fill-opacity="0.6"/>
<circle cx="542.15" cy="822.88" r="1.10" fill="#7a3cb4" fill-opacity="0.6"/>
<circle cx="542.36" cy="805.83" r="1.10" fill="#9a60cc" fill-opacity="0.6"/>
<circle cx="550.32" cy="828.54" r="1.10" fill="#9a60cc" fill-opacity="0.6"/>
<circle cx="546.69" cy="822.43" r="0.70" fill="#9a60cc" fill-opacity="0.6"/>
<circle cx="552.88" cy="840.61" r="0.90" fill="#9a60cc" fill-opacity="0.6"/>
<circle cx="531.02" cy="820.09" r="0.90" fill="#7a3cb4" fill-opacity="0.6"/>
<circle cx="514.42" cy="836.61" r="1.10" fill="#9a60cc" fill-opacity="0.6"/>
<circle cx="531.43" cy="801.99" r="0.70" fill="#9a60cc" fill-opacity="0.6"/>
<circle cx="525.93" cy="844.22" r="0.90" fill="#9a60cc" fill-opacity="0.6"/>
<circle cx="545.98" cy="847.79" r="0.90" fill="#9a60cc" fill-opacity="0.6"/>
<circle cx="515.32" cy="814.32" r="1.70" fill="#4e2c9a" fill-opacity="0.85"/>
<circle cx="528.38" cy="811.42" r="1.10" fill="#3c2088" fill-opacity="0.85"/>
<circle cx="507.16" cy="835.59" r="2.30" fill="#42248e" fill-opacity="0.85"/>
<circle cx="530.75" cy="831.96" r="2.30" fill="#281466" fill-opacity="0.85"/>
<circle cx="527.24" cy="836.28" r="1.10" fill="#361c7c" fill-opacity="0.85"/>
<circle cx="548.47" cy="828.22" r="1.10" fill="#4e2c9a" fill-opacity="0.85"/>
<circle cx="535.90" cy="843.30" r="1.50" fill="#4e2c9a" fill-opacity="0.85"/>
<circle cx="517.35" cy="836.52" r="1.30" fill="#4e2c9a" fill-opacity="0.85"/>
<circle cx="522.95" cy="829.14" r="1.30" fill="#361c7c" fill-opacity="0.85"/>
<circle cx="514.96" cy="836.86" r="2.30" fill="#3c2088" fill-opacity="0.85"/>
<circle cx="505.71" cy="805.15" r="1.10" fill="#361c7c" fill-opacity="0.85"/>
<circle cx="526.58" cy="840.66" r="1.70" fill="#361c7c" fill-opacity="0.85"/>
<circle cx="544.21" cy="821.36" r="1.70" fill="#361c7c" fill-opacity="0.85"/>
<circle cx="530.11" cy="807.35" r="2.30" fill="#281466" fill-opacity="0.85"/>
<circle cx="521.01" cy="838.18" r="2.00" fill="#3c2088" fill-opacity="0.85"/>
<circle cx="523.18" cy="801.77" r="1.10" fill="#281466" fill-opacity="0.85"/>
<circle cx="524.12" cy="819.53" r="1.10" fill="#4e2c9a" fill-opacity="0.85"/>
<circle cx="529.63" cy="815.71" r="1.70" fill="#281466" fill-opacity="0.85"/>
<circle cx="513.63" cy="804.72" r="2.00" fill="#3c2088" fill-opacity="0.85"/>
<circle cx="514.76" cy="811.42" r="2.00" fill="#4e2c9a" fill-opacity="0.85"/>
<circle cx="517.92" cy="802.68" r="2.30" fill="#3c2088" fill-opacity="0.85"/>
<circle cx="534.27" cy="807.70" r="2.00" fill="#3c2088" fill-opacity="0.85"/>
<circle cx="514.79" cy="808.00" r="1.30" fill="#361c7c" fill-opacity="0.85"/>
<circle cx="542.88" cy="800.91" r="1.10" fill="#281466" fill-opacity="0.85"/>
<circle cx="549.61" cy="832.11" r="0.90" fill="#42248e" fill-opacity="0.85"/>
<circle cx="515.16" cy="829.28" r="0.90" fill="#4e2c9a" fill-opacity="0.85"/>
<circle cx="503.93" cy="816.32" r="2.00" fill="#281466" fill-opacity="0.85"/>
<circle cx="518.26" cy="836.00" r="0.90" fill="#42248e" fill-opacity="0.85"/>
<circle cx="516.13" cy="806.84" r="1.70" fill="#42248e" fill-opacity="0.85"/>
<circle cx="534.11" cy="807.86" r="2.30" fill="#4e2c9a" fill-opacity="0.85"/>
<circle cx="530.19" cy="815.85" r="1.30" fill="#361c7c" fill-opacity="0.85"/>
<circle cx="530.31" cy="811.05" r="2.00" fill="#3c2088" fill-opacity="0.85"/>
<circle cx="523.27" cy="851.50" r="0.90" fill="#4e2c9a" fill-opacity="0.85"/>
<circle cx="538.54" cy="820.07" r="1.70" fill="#42248e" fill-opacity="0.85"/>
<circle cx="521.79" cy="827.77" r="1.30" fill="#3c2088" fill-opacity="0.85"/>
<circle cx="546.87" cy="819.82" r="1.10" fill="#42248e" fill-opacity="0.85"/>
<circle cx="523.36" cy="832.72" r="0.90" fill="#361c7c" fill-opacity="0.85"/>
<circle cx="537.04" cy="851.75" r="2.30" fill="#4e2c9a" fill-opacity="0.85"/>
<circle cx="508.21" cy="814.30" r="1.10" fill="#4e2c9a" fill-opacity="0.85"/>
<circle cx="515.10" cy="829.92" r="0.90" fill="#4e2c9a" fill-opacity="0.85"/>
<circle cx="542.07" cy="821.97" r="1.10" fill="#281466" fill-opacity="0.85"/>
<circle cx="525.51" cy="801.30" r="0.90" fill="#281466" fill-opacity="0.85"/>
<circle cx="507.44" cy="822.58" r="0.90" fill="#42248e" fill-opacity="0.85"/>
<circle cx="539.94" cy="805.79" r="0.90" fill="#3c2088" fill-opacity="0.85"/>
<circle cx="541.58" cy="821.79" r="2.30" fill="#281466" fill-opacity="0.85"/>
<circle cx="533.31" cy="851.05" r="1.10" fill="#4e2c9a" fill-opacity="0.85"/>
<circle cx="503.27" cy="809.21" r="0.90" fill="#3c2088" fill-opacity="0.85"/>
<circle cx="509.75" cy="821.99" r="0.90" fill="#3c2088" fill-opacity="0.85"/>
<circle cx="549.03" cy="842.10" r="1.10" fill="#4e2c9a" fill-opacity="0.85"/>
<circle cx="527.86" cy="826.64" r="0.90" fill="#281466" fill-opacity="0.85"/>
<circle cx="523.62" cy="848.04" r="1.50" fill="#361c7c" fill-opacity="0.85"/>
<circle cx="548.34" cy="838.98" r="1.30" fill="#42248e" fill-opacity="0.85"/>
<circle cx="545.08" cy="829.93" r="1.70" fill="#4e2c9a" fill-opacity="0.85"/>
<circle cx="524.14" cy="803.45" r="1.70" fill="#3c2088" fill-opacity="0.85"/>
<circle cx="529.61" cy="819.97" r="0.90" fill="#361c7c" fill-opacity="0.85"/>
<circle cx="533.62" cy="825.48" r="1.10" fill="#42248e" fill-opacity="0.85"/>
<circle cx="514.04" cy="810.44" r="1.50" fill="#3c2088" fill-opacity="0.85"/>
<circle cx="548.79" cy="825.60" r="1.10" fill="#42248e" fill-opacity="0.85"/>
<circle cx="531.68" cy="828.48" r="1.10" fill="#361c7c" fill-opacity="0.85"/>
<circle cx="521.67" cy="826.27" r="2.00" fill="#42248e" fill-opacity="0.85"/>
<circle cx="512.07" cy="842.00" r="1.70" fill="#361c7c" fill-opacity="0.85"/>
<circle cx="516.03" cy="824.62" r="2.00" fill="#281466" fill-opacity="0.85"/>
<circle cx="535.87" cy="798.79" r="2.00" fill="#42248e" fill-opacity="0.85"/>
<circle cx="542.14" cy="824.73" r="1.70" fill="#42248e" fill-opacity="0.85"/>
<circle cx="531.63" cy="816.62" r="1.50" fill="#4e2c9a" fill-opacity="0.85"/>
<circle cx="504.84" cy="831.29" r="1.70" fill="#4e2c9a" fill-opacity="0.85"/>
<circle cx="528.26" cy="817.48" r="1.10" fill="#361c7c" fill-opacity="0.85"/>
<circle cx="504.81" cy="808.06" r="1.10" fill="#3c2088" fill-opacity="0.85"/>
<circle cx="543.76" cy="801.08" r="2.30" fill="#42248e" fill-opacity="0.85"/>
<circle cx="551.18" cy="817.48" r="1.50" fill="#3c2088" fill-opacity="0.85"/>
<circle cx="509.95" cy="836.56" r="1.10" fill="#361c7c" fill-opacity="0.85"/>
<circle cx="547.86" cy="840.15" r="1.50" fill="#361c7c" fill-opacity="0.85"/>
<circle cx="521.96" cy="832.47" r="1.10" fill="#42248e" fill-opacity="0.85"/>
<circle cx="513.38" cy="849.42" r="2.30" fill="#3c2088" fill-opacity="0.85"/>
<circle cx="546.70" cy="830.74" r="2.30" fill="#281466" fill-opacity="0.85"/>
<circle cx="542.66" cy="836.76" r="0.90" fill="#361c7c" fill-opacity="0.85"/>
<circle cx="553.08" cy="830.65" r="2.00" fill="#42248e" fill-opacity="0.85"/>
<circle cx="538.90" cy="850.65" r="2.30" fill="#281466" fill-opacity="0.85"/>
<circle cx="557.33" cy="822.95" r="1.50" fill="#281466" fill-opacity="0.85"/>
<circle cx="543.40" cy="826.25" r="1.50" fill="#42248e" fill-opacity="0.85"/>
<circle cx="515.34" cy="809.60" r="1.30" fill="#4e2c9a" fill-opacity="0.85"/>
<circle cx="557.31" cy="818.37" r="1.10" fill="#3c2088" fill-opacity="0.85"/>
<circle cx="520.06" cy="807.37" r="0.90" fill="#4e2c9a" fill-opacity="0.85"/>
<circle cx="550.79" cy="833.47" r="1.50" fill="#3c2088" fill-opacity="0.85"/>
<circle cx="518.05" cy="825.33" r="0.90" fill="#361c7c" fill-opacity="0.85"/>
<circle cx="507.28" cy="840.10" r="1.70" fill="#4e2c9a" fill-opacity="0.85"/>
<circle cx="526.80" cy="804.09" r="2.00" fill="#281466" fill-opacity="0.85"/>
<circle cx="533.93" cy="838.60" r="1.10" fill="#3c2088" fill-opacity="0.85"/>
<circle cx="518.34" cy="829.32" r="1.70" fill="#3c2088" fill-opacity="0.85"/>
<circle cx="532.69" cy="842.10" r="1.30" fill="#4e2c9a" fill-opacity="0.85"/>
<circle cx="539.45" cy="799.56" r="0.90" fill="#281466" fill-opacity="0.85"/>
<circle cx="556.25" cy="833.09" r="0.90" fill="#4e2c9a" fill-opacity="0.85"/>
<circle cx="511.47" cy="814.40" r="1.50" fill="#281466" fill-opacity="0.85"/>
<circle cx="553.24" cy="833.96" r="1.10" fill="#4e2c9a" fill-opacity="0.85"/>
<circle cx="501.04" cy="813.16" r="2.30" fill="#42248e" fill-opacity="0.85"/>
<circle cx="551.60" cy="827.23" r="1.70" fill="#361c7c" fill-opacity="0.85"/>
<circle cx="520.87" cy="821.14" r="0.90" fill="#4e2c9a" fill-opacity="0.85"/>
<circle cx="541.06" cy="803.40" r="2.00" fill="#361c7c" fill-opacity="0.85"/>
<circle cx="531.36" cy="801.03" r="2.30" fill="#4e2c9a" fill-opacity="0.85"/>
<circle cx="512.28" cy="805.55" r="2.30" fill="#361c7c" fill-opacity="0.85"/>
<circle cx="506.90" cy="837.24" r="2.30" fill="#281466" fill-opacity="0.85"/>
<circle cx="519.30" cy="811.82" r="1.30" fill="#3c2088" fill-opacity="0.85"/>
<circle cx="540.03" cy="810.86" r="1.70" fill="#42248e" fill-opacity="0.85"/>
<circle cx="519.53" cy="809.11" r="0.90" fill="#281466" fill-opacity="0.85"/>
<circle cx="538.04" cy="817.37" r="2.30" fill="#281466" fill-opacity="0.85"/>
<circle cx="505.96" cy="821.12" r="1.50" fill="#361c7c" fill-opacity="0.85"/>
<circle cx="502.82" cy="823.74" r="0.90" fill="#4e2c9a" fill-opacity="0.85"/>
<circle cx="532.59" cy="824.43" r="2.00" fill="#42248e" fill-opacity="0.85"/>
<circle cx="536.76" cy="818.02" r="1.70" fill="#361c7c" fill-opacity="0.85"/>
<circle cx="525.91" cy="837.73" r="1.30" fill="#4e2c9a" fill-opacity="0.85"/>
<circle cx="532.49" cy="839.81" r="0.90" fill="#281466" fill-opacity="0.85"/>
<circle cx="548.39" cy="815.22" r="1.70" fill="#361c7c" fill-opacity="0.85"/>
<circle cx="520.92" cy="832.11" r="1.30" fill="#42248e" fill-opacity="0.85"/>
<circle cx="503.87" cy="823.85" r="1.30" fill="#3c2088" fill-opacity="0.85"/>
<circle cx="546.15" cy="822.51" r="2.30" fill="#3c2088" fill-opacity="0.85"/>
<circle cx="521.47" cy="852.57" r="1.30" fill="#3c2088" fill-opacity="0.85"/>
<circle cx="502.50" cy="810.09" r="1.70" fill="#361c7c" fill-opacity="0.85"/>
<circle cx="526.95" cy="840.37" r="1.50" fill="#281466" fill-opacity="0.85"/>
<circle cx="530.31" cy="802.39" r="1.70" fill="#42248e" fill-opacity="0.85"/>
<circle cx="523.09" cy="815.75" r="1.10" fill="#281466" fill-opacity="0.85"/>
<circle cx="555.65" cy="825.53" r="1.70" fill="#281466" fill-opacity="0.85"/>
<circle cx="544.57" cy="832.03" r="0.90" fill="#4e2c9a" fill-opacity="0.85"/>
<circle cx="531.24" cy="844.44" r="1.50" fill="#3c2088" fill-opacity="0.85"/>
<circle cx="531.95" cy="811.59" r="1.10" fill="#361c7c" fill-opacity="0.85"/>
<circle cx="504.11" cy="835.29" r="1.30" fill="#361c7c" fill-opacity="0.85"/>
<circle cx="528.46" cy="825.52" r="1.70" fill="#4e2c9a" fill-opacity="0.85"/>
<circle cx="542.08" cy="819.96" r="0.90" fill="#4e2c9a" fill-opacity="0.85"/>
<circle cx="531.78" cy="815.51" r="2.00" fill="#3c2088" fill-opacity="0.85"/>
<circle cx="532.81" cy="835.36" r="1.70" fill="#42248e" fill-opacity="0.85"/>
<circle cx="532.73" cy="814.06" r="1.50" fill="#361c7c" fill-opacity="0.85"/>
<circle cx="515.28" cy="806.19" r="1.50" fill="#4e2c9a" fill-opacity="0.85"/>
<circle cx="514.82" cy="804.00" r="1.10" fill="#361c7c" fill-opacity="0.85"/>
<circle cx="544.61" cy="823.04" r="1.50" fill="#361c7c" fill-opacity="0.85"/>
<circle cx="524.79" cy="825.88" r="0.90" fill="#361c7c" fill-opacity="0.85"/>
<circle cx="499.61" cy="825.06" r="1.30" fill="#3c2088" fill-opacity="0.85"/>
<circle cx="548.02" cy="830.82" r="1.50" fill="#281466" fill-opacity="0.85"/>
<circle cx="524.76" cy="826.81" r="1.50" fill="#3c2088" fill-opacity="0.85"/>
<circle cx="546.52" cy="817.46" r="1.70" fill="#281466" fill-opacity="0.85"/>
<circle cx="547.86" cy="803.46" r="0.90" fill="#3c2088" fill-opacity="0.85"/>
<circle cx="546.69" cy="809.55" r="2.00" fill="#4e2c9a" fill-opacity="0.85"/>
<circle cx="514.79" cy="821.41" r="0.90" fill="#42248e" fill-opacity="0.85"/>
<circle cx="530.17" cy="828.08" r="1.70" fill="#361c7c" fill-opacity="0.85"/>
<circle cx="525.68" cy="811.76" r="1.50" fill="#4e2c9a" fill-opacity="0.85"/>
<circle cx="511.31" cy="806.57" r="1.70" fill="#3c2088" fill-opacity="0.85"/>
<circle cx="510.55" cy="829.51" r="2.00" fill="#42248e" fill-opacity="0.85"/>
<circle cx="532.42" cy="833.16" r="1.10" fill="#3c2088" fill-opacity="0.85"/>
<circle cx="531.59" cy="832.29" r="2.00" fill="#361c7c" fill-opacity="0.85"/>
<circle cx="540.62" cy="843.47" r="0.90" fill="#42248e" fill-opacity="0.85"/>
<circle cx="520.08" cy="842.76" r="1.50" fill="#361c7c" fill-opacity="0.85"/>
<circle cx="541.03" cy="844.88" r="2.30" fill="#4e2c9a" fill-opacity="0.85"/>
<circle cx="505.91" cy="833.47" r="1.70" fill="#42248e" fill-opacity="0.85"/>
<circle cx="528.31" cy="806.83" r="2.00" fill="#3c2088" fill-opacity="0.85"/>
<circle cx="526.98" cy="809.24" r="2.30" fill="#3c2088" fill-opacity="0.85"/>
<circle cx="537.87" cy="846.85" r="1.70" fill="#281466" fill-opacity="0.85"/>
<circle cx="513.50" cy="817.12" r="2.00" fill="#3c2088" fill-opacity="0.85"/>
<circle cx="556.30" cy="827.10" r="1.30" fill="#361c7c" fill-opacity="0.85"/>
<circle cx="524.63" cy="813.12" r="1.50" fill="#4e2c9a" fill-opacity="0.85"/>
<circle cx="528.71" cy="802.79" r="1.10" fill="#4e2c9a" fill-opacity="0.85"/>
<circle cx="531.56" cy="809.25" r="2.00" fill="#4e2c9a" fill-opacity="0.85"/>
<circle cx="508.93" cy="803.96" r="2.00" fill="#3c2088" fill-opacity="0.85"/>
<circle cx="520.26" cy="850.07" r="1.50" fill="#281466" fill-opacity="0.85"/>
<circle cx="523.29" cy="831.43" r="1.50" fill="#281466" fill-opacity="0.85"/>
<circle cx="536.29" cy="831.11" r="1.30" fill="#3c2088" fill-opacity="0.85"/>
<circle cx="510.60" cy="813.95" r="0.90" fill="#4e2c9a" fill-opacity="0.85"/>
<circle cx="535.63" cy="840.10" r="2.30" fill="#4e2c9a" fill-opacity="0.85"/>
<circle cx="522.78" cy="838.09" r="1.30" fill="#4e2c9a" fill-opacity="0.85"/>
<circle cx="544.72" cy="799.14" r="0.90" fill="#42248e" fill-opacity="0.85"/>
<circle cx="530.90" cy="841.19" r="1.10" fill="#42248e" fill-opacity="0.85"/>
<circle cx="519.11" cy="824.29" r="2.30" fill="#4e2c9a" fill-opacity="0.85"/>
<circle cx="527.25" cy="808.83" r="2.00" fill="#4e2c9a" fill-opacity="0.85"/>
<circle cx="533.43" cy="823.21" r="1.50" fill="#281466" fill-opacity="0.85"/>
<circle cx="558.07" cy="826.01" r="2.30" fill="#361c7c" fill-opacity="0.85"/>
<circle cx="526.45" cy="809.42" r="2.00" fill="#361c7c" fill-opacity="0.85"/>
<circle cx="548.21" cy="807.45" r="2.30" fill="#361c7c" fill-opacity="0.85"/>
<circle cx="521.19" cy="848.05" r="1.50" fill="#361c7c" fill-opacity="0.85"/>
<circle cx="519.31" cy="808.76" r="1.50" fill="#281466" fill-opacity="0.85"/>
<circle cx="510.80" cy="838.63" r="1.70" fill="#42248e" fill-opacity="0.85"/>
<circle cx="542.05" cy="826.14" r="1.50" fill="#4e2c9a" fill-opacity="0.85"/>
<circle cx="517.72" cy="821.20" r="2.30" fill="#361c7c" fill-opacity="0.85"/>
<circle cx="508.27" cy="820.94" r="2.00" fill="#3c2088" fill-opacity="0.85"/>
<circle cx="534.44" cy="819.46" r="1.30" fill="#3c2088" fill-opacity="0.85"/>
<circle cx="514.13" cy="810.46" r="1.10" fill="#3c2088" fill-opacity="0.85"/>
<circle cx="520.87" cy="844.27" r="1.70" fill="#4e2c9a" fill-opacity="0.85"/>
<circle cx="519.38" cy="804.85" r="1.50" fill="#361c7c" fill-opacity="0.85"/>
<circle cx="550.80" cy="818.73" r="1.30" fill="#361c7c" fill-opacity="0.85"/>
<circle cx="530.68" cy="827.47" r="2.30" fill="#4e2c9a" fill-opacity="0.85"/>
<circle cx="518.84" cy="838.02" r="1.70" fill="#42248e" fill-opacity="0.85"/>
<circle cx="533.97" cy="845.64" r="0.90" fill="#3c2088" fill-opacity="0.85"/>
<circle cx="544.48" cy="832.30" r="1.70" fill="#4e2c9a" fill-opacity="0.85"/>
<circle cx="529.13" cy="835.39" r="1.70" fill="#281466" fill-opacity="0.85"/>
<circle cx="535.60" cy="851.46" r="1.10" fill="#42248e" fill-opacity="0.85"/>
<circle cx="510.32" cy="822.42" r="2.30" fill="#281466" fill-opacity="0.85"/>
<circle cx="535.10" cy="816.93" r="2.00" fill="#42248e" fill-opacity="0.85"/>
<circle cx="543.58" cy="815.11" r="0.90" fill="#3c2088" fill-opacity="0.85"/>
<circle cx="532.67" cy="822.17" r="2.30" fill="#42248e" fill-opacity="0.85"/>
<circle cx="516.04" cy="819.04" r="1.70" fill="#42248e" fill-opacity="0.85"/>
<circle cx="527.53" cy="842.15" r="1.30" fill="#42248e" fill-opacity="0.85"/>
<circle cx="528.76" cy="849.24" r="1.50" fill="#4e2c9a" fill-opacity="0.85"/>
<circle cx="525.15" cy="808.00" r="1.70" fill="#281466" fill-opacity="0.85"/>
<circle cx="523.77" cy="828.10" r="1.30" fill="#3c2088" fill-opacity="0.85"/>
<circle cx="513.30" cy="811.49" r="1.10" fill="#361c7c" fill-opacity="0.85"/>
<circle cx="507.89" cy="834.62" r="1.30" fill="#4e2c9a" fill-opacity="0.85"/>
<circle cx="535.74" cy="809.37" r="1.10" fill="#42248e" fill-opacity="0.85"/>
<circle cx="533.77" cy="820.14" r="2.00" fill="#361c7c" fill-opacity="0.85"/>
<circle cx="531.80" cy="808.68" r="1.10" fill="#42248e" fill-opacity="0.85"/>
<circle cx="541.05" cy="813.95" r="0.90" fill="#3c2088" fill-opacity="0.85"/>
<circle cx="536.03" cy="806.99" r="2.30" fill="#3c2088" fill-opacity="0.85"/>
<circle cx="509.70" cy="834.40" r="2.30" fill="#4e2c9a" fill-opacity="0.85"/>
<circle cx="511.91" cy="821.55" r="1.50" fill="#3c2088" fill-opacity="0.85"/>
<circle cx="533.06" cy="831.89" r="2.30" fill="#42248e" fill-opacity="0.85"/>
<circle cx="538.60" cy="796.35" r="1.50" fill="#42248e" fill-opacity="0.85"/>
<circle cx="500.65" cy="834.15" r="2.00" fill="#42248e" fill-opacity="0.85"/>
<circle cx="531.82" cy="811.08" r="1.50" fill="#4e2c9a" fill-opacity="0.85"/>
<circle cx="506.66" cy="819.13" r="1.70" fill="#42248e" fill-opacity="0.85"/>
<circle cx="536.37" cy="832.18" r="2.30" fill="#361c7c" fill-opacity="0.85"/>
<circle cx="526.48" cy="799.48" r="1.70" fill="#4e2c9a" fill-opacity="0.85"/>
<circle cx="548.49" cy="834.42" r="1.70" fill="#281466" fill-opacity="0.85"/>
<circle cx="537.04" cy="811.87" r="1.70" fill="#361c7c" fill-opacity="0.85"/>
<circle cx="502.76" cy="810.44" r="0.90" fill="#361c7c" fill-opacity="0.85"/>
<circle cx="531.96" cy="848.02" r="2.00" fill="#42248e" fill-opacity="0.85"/>
<circle cx="547.90" cy="813.07" r="1.30" fill="#361c7c" fill-opacity="0.85"/>
<circle cx="518.49" cy="816.73" r="1.50" fill="#4e2c9a" fill-opacity="0.85"/>
<circle cx="535.04" cy="821.31" r="1.30" fill="#3c2088" fill-opacity="0.85"/>
<circle cx="539.72" cy="845.27" r="1.10" fill="#281466" fill-opacity="0.85"/>
<circle cx="515.32" cy="844.23" r="1.50" fill="#361c7c" fill-opacity="0.85"/>
<circle cx="525.93" cy="803.33" r="1.10" fill="#4e2c9a" fill-opacity="0.85"/>
<circle cx="526.43" cy="852.54" r="2.00" fill="#361c7c" fill-opacity="0.85"/>
<circle cx="511.94" cy="832.61" r="0.90" fill="#361c7c" fill-opacity="0.85"/>
<circle cx="536.92" cy="838.12" r="1.30" fill="#281466" fill-opacity="0.85"/>
<circle cx="544.05" cy="848.77" r="1.30" fill="#4e2c9a" fill-opacity="0.85"/>
<circle cx="524.67" cy="851.13" r="2.30" fill="#281466" fill-opacity="0.85"/>
<circle cx="531.64" cy="826.43" r="2.00" fill="#42248e" fill-opacity="0.85"/>
<circle cx="533.50" cy="805.86" r="1.10" fill="#160a40" fill-opacity="0.9"/>
<circle cx="512.84" cy="820.32" r="1.40" fill="#160a40" fill-opacity="0.9"/>
<circle cx="530.19" cy="813.27" r="1.40" fill="#160a40" fill-opacity="0.9"/>
<circle cx="522.46" cy="837.95" r="1.40" fill="#160a40" fill-opacity="0.9"/>
<circle cx="525.16" cy="827.02" r="1.40" fill="#160a40" fill-opacity="0.9"/>
<circle cx="511.97" cy="815.91" r="1.10" fill="#160a40" fill-opacity="0.9"/>
<circle cx="506.72" cy="813.80" r="1.10" fill="#160a40" fill-opacity="0.9"/>
<circle cx="538.23" cy="816.28" r="1.40" fill="#160a40" fill-opacity="0.9"/>
<circle cx="524.53" cy="819.41" r="1.10" fill="#160a40" fill-opacity="0.9"/>
<circle cx="510.56" cy="805.35" r="1.10" fill="#160a40" fill-opacity="0.9"/>
<circle cx="516.32" cy="846.41" r="1.40" fill="#160a40" fill-opacity="0.9"/>
<circle cx="549.26" cy="840.78" r="1.10" fill="#160a40" fill-opacity="0.9"/>
<circle cx="534.40" cy="824.18" r="1.40" fill="#160a40" fill-opacity="0.9"/>
<circle cx="511.82" cy="844.30" r="1.40" fill="#160a40" fill-opacity="0.9"/>
<circle cx="509.05" cy="825.76" r="1.10" fill="#160a40" fill-opacity="0.9"/>
<circle cx="526.60" cy="809.28" r="1.40" fill="#160a40" fill-opacity="0.9"/>
<circle cx="531.62" cy="806.64" r="1.10" fill="#160a40" fill-opacity="0.9"/>
<circle cx="528.52" cy="807.68" r="1.10" fill="#160a40" fill-opacity="0.9"/>
<circle cx="545.02" cy="840.00" r="1.10" fill="#160a40" fill-opacity="0.9"/>
<circle cx="540.05" cy="826.99" r="1.10" fill="#160a40" fill-opacity="0.9"/>
<circle cx="510.58" cy="834.89" r="1.10" fill="#160a40" fill-opacity="0.9"/>
<circle cx="527.53" cy="838.59" r="1.10" fill="#160a40" fill-opacity="0.9"/>
<circle cx="548.08" cy="827.15" r="1.10" fill="#160a40" fill-opacity="0.9"/>
<circle cx="511.25" cy="816.83" r="1.10" fill="#160a40" fill-opacity="0.9"/>
<circle cx="502.74" cy="822.74" r="1.10" fill="#160a40" fill-opacity="0.9"/>
<circle cx="517.86" cy="799.48" r="1.10" fill="#160a40" fill-opacity="0.9"/>
<circle cx="530.71" cy="849.54" r="1.40" fill="#160a40" fill-opacity="0.9"/>
<circle cx="530.41" cy="845.10" r="1.40" fill="#160a40" fill-opacity="0.9"/>
<circle cx="516.43" cy="818.30" r="1.40" fill="#160a40" fill-opacity="0.9"/>
<circle cx="529.75" cy="811.92" r="1.40" fill="#160a40" fill-opacity="0.9"/>
</g>
<circle cx="528.50" cy="824.00" r="29.20" fill="none" stroke="#a09cb8" stroke-width="0.7"/>
<circle cx="528.50" cy="824.00" r="31.75" fill="none" stroke="#3a3a3a" stroke-width="0.9"/>
<clipPath id="cp9"><circle cx="600.20" cy="823.60" r="31.70"/></clipPath>
<circle cx="600.20" cy="823.60" r="32.20" fill="#e2def0"/>
<g clip-path="url(#cp9)">
<circle cx="625.47" cy="839.55" r="0.70" fill="#8a48c0" fill-opacity="0.6"/>
<circle cx="607.69" cy="836.72" r="0.90" fill="#7a3cb4" fill-opacity="0.6"/>
<circle cx="625.35" cy="827.15" r="0.90" fill="#9a60cc" fill-opacity="0.6"/>
<circle cx="598.55" cy="825.51" r="0.70" fill="#8a48c0" fill-opacity="0.6"/>
<circle cx="602.82" cy="809.90" r="0.70" fill="#9a60cc" fill-opacity="0.6"/>
<circle cx="583.79" cy="814.03" r="1.10" fill="#7a3cb4" fill-opacity="0.6"/>
<circle cx="573.13" cy="822.61" r="1.10" fill="#8a48c0" fill-opacity="0.6"/>
<circle cx="621.03" cy="802.09" r="0.70" fill="#7a3cb4" fill-opacity="0.6"/>
<circle cx="575.54" cy="831.63" r="0.90" fill="#9a60cc" fill-opacity="0.6"/>
<circle cx="577.55" cy="826.65" r="1.10" fill="#9a60cc" fill-opacity="0.6"/>
<circle cx="606.47" cy="795.40" r="1.10" fill="#8a48c0" fill-opacity="0.6"/>
<circle cx="577.60" cy="811.03" r="0.90" fill="#9a60cc" fill-opacity="0.6"/>
<circle cx="581.42" cy="800.65" r="0.90" fill="#9a60cc" fill-opacity="0.6"/>
<circle cx="585.12" cy="836.05" r="0.90" fill="#9a60cc" fill-opacity="0.6"/>
<circle cx="624.78" cy="833.68" r="1.10" fill="#7a3cb4" fill-opacity="0.6"/>
<circle cx="617.07" cy="820.57" r="0.70" fill="#8a48c0" fill-opacity="0.6"/>
<circle cx="599.86" cy="846.43" r="0.90" fill="#9a60cc" fill-opacity="0.6"/>
<circle cx="618.47" cy="814.19" r="0.70" fill="#7a3cb4" fill-opacity="0.6"/>
<circle cx="594.81" cy="803.62" r="0.90" fill="#9a60cc" fill-opacity="0.6"/>
<circle cx="586.13" cy="815.06" r="0.90" fill="#7a3cb4" fill-opacity="0.6"/>
<circle cx="622.57" cy="819.78" r="1.10" fill="#8a48c0" fill-opacity="0.6"/>
<circle cx="613.91" cy="829.46" r="0.90" fill="#8a48c0" fill-opacity="0.6"/>
<circle cx="604.84" cy="831.85" r="0.90" fill="#9a60cc" fill-opacity="0.6"/>
<circle cx="592.44" cy="838.95" r="1.10" fill="#9a60cc" fill-opacity="0.6"/>
<circle cx="591.16" cy="795.09" r="0.70" fill="#9a60cc" fill-opacity="0.6"/>
<circle cx="590.85" cy="816.35" r="0.70" fill="#9a60cc" fill-opacity="0.6"/>
<circle cx="595.34" cy="826.26" r="0.90" fill="#9a60cc" fill-opacity="0.6"/>
<circle cx="598.51" cy="820.70" r="0.70" fill="#7a3cb4" fill-opacity="0.6"/>
<circle cx="582.66" cy="800.25" r="1.10" fill="#9a60cc" fill-opacity="0.6"/>
<circle cx="579.31" cy="839.81" r="0.70" fill="#8a48c0" fill-opacity="0.6"/>
<circle cx="593.37" cy="831.37" r="0.90" fill="#9a60cc" fill-opacity="0.6"/>
<circle cx="573.63" cy="820.52" r="0.70" fill="#8a48c0" fill-opacity="0.6"/>
<circle cx="616.29" cy="824.84" r="0.70" fill="#8a48c0" fill-opacity="0.6"/>
<circle cx="592.68" cy="829.67" r="1.10" fill="#7a3cb4" fill-opacity="0.6"/>
<circle cx="601.13" cy="849.88" r="0.70" fill="#9a60cc" fill-opacity="0.6"/>
<circle cx="584.51" cy="803.56" r="0.90" fill="#7a3cb4" fill-opacity="0.6"/>
<circle cx="604.33" cy="796.67" r="0.90" fill="#9a60cc" fill-opacity="0.6"/>
<circle cx="584.19" cy="826.61" r="0.70" fill="#9a60cc" fill-opacity="0.6"/>
<circle cx="585.05" cy="802.27" r="0.90" fill="#8a48c0" fill-opacity="0.6"/>
<circle cx="609.52" cy="815.07" r="1.10" fill="#9a60cc" fill-opacity="0.6"/>
<circle cx="614.29" cy="833.98" r="1.10" fill="#8a48c0" fill-opacity="0.6"/>
<circle cx="628.04" cy="832.24" r="0.90" fill="#8a48c0" fill-opacity="0.6"/>
<circle cx="580.63" cy="802.81" r="0.70" fill="#7a3cb4" fill-opacity="0.6"/>
<circle cx="595.04" cy="798.47" r="0.70" fill="#8a48c0" fill-opacity="0.6"/>
<circle cx="606.00" cy="841.29" r="0.90" fill="#8a48c0" fill-opacity="0.6"/>
<circle cx="593.76" cy="795.53" r="1.10" fill="#7a3cb4" fill-opacity="0.6"/>
<circle cx="599.43" cy="801.04" r="0.70" fill="#8a48c0" fill-opacity="0.6"/>
<circle cx="604.42" cy="836.82" r="1.10" fill="#8a48c0" fill-opacity="0.6"/>
<circle cx="584.57" cy="845.24" r="0.70" fill="#7a3cb4" fill-opacity="0.6"/>
<circle cx="607.39" cy="839.77" r="1.10" fill="#9a60cc" fill-opacity="0.6"/>
<circle cx="622.43" cy="822.36" r="0.90" fill="#9a60cc" fill-opacity="0.6"/>
<circle cx="619.98" cy="811.78" r="0.90" fill="#9a60cc" fill-opacity="0.6"/>
<circle cx="605.42" cy="813.04" r="0.90" fill="#9a60cc" fill-opacity="0.6"/>
<circle cx="613.33" cy="845.03" r="1.10" fill="#7a3cb4" fill-opacity="0.6"/>
<circle cx="605.87" cy="805.80" r="0.90" fill="#9a60cc" fill-opacity="0.6"/>
<circle cx="623.59" cy="838.94" r="0.70" fill="#7a3cb4" fill-opacity="0.6"/>
<circle cx="622.29" cy="820.79" r="0.70" fill="#7a3cb4" fill-opacity="0.6"/>
<circle cx="605.93" cy="808.16" r="1.10" fill="#7a3cb4" fill-opacity="0.6"/>
<circle cx="575.70" cy="811.28" r="0.90" fill="#7a3cb4" fill-opacity="0.6"/>
<circle cx="623.39" cy="821.67" r="1.10" fill="#9a60cc" fill-opacity="0.6"/>
<circle cx="578.23" cy="805.39" r="0.90" fill="#8a48c0" fill-opacity="0.6"/>
<circle cx="612.84" cy="837.26" r="0.70" fill="#8a48c0" fill-opacity="0.6"/>
<circle cx="582.52" cy="837.35" r="1.10" fill="#8a48c0" fill-opacity="0.6"/>
<circle cx="588.92" cy="807.87" r="1.10" fill="#9a60cc" fill-opacity="0.6"/>
<circle cx="616.62" cy="841.06" r="0.70" fill="#9a60cc" fill-opacity="0.6"/>
<circle cx="581.22" cy="827.53" r="1.10" fill="#8a48c0" fill-opacity="0.6"/>
<circle cx="608.59" cy="822.88" r="0.70" fill="#7a3cb4" fill-opacity="0.6"/>
<circle cx="624.55" cy="808.53" r="0.90" fill="#9a60cc" fill-opacity="0.6"/>
<circle cx="590.44" cy="803.45" r="0.70" fill="#8a48c0" fill-opacity="0.6"/>
<circle cx="627.23" cy="814.69" r="0.90" fill="#7a3cb4" fill-opacity="0.6"/>
<circle cx="584.91" cy="842.94" r="0.90" fill="#9a60cc" fill-opacity="0.6"/>
<circle cx="604.20" cy="806.16" r="0.90" fill="#8a48c0" fill-opacity="0.6"/>
<circle cx="581.73" cy="823.37" r="0.90" fill="#8a48c0" fill-opacity="0.6"/>
<circle cx="599.09" cy="853.30" r="1.10" fill="#9a60cc" fill-opacity="0.6"/>
<circle cx="594.86" cy="841.60" r="0.90" fill="#8a48c0" fill-opacity="0.6"/>
<circle cx="629.03" cy="816.74" r="0.90" fill="#7a3cb4" fill-opacity="0.6"/>
<circle cx="614.13" cy="841.15" r="0.90" fill="#9a60cc" fill-opacity="0.6"/>
<circle cx="621.63" cy="840.51" r="0.90" fill="#7a3cb4" fill-opacity="0.6"/>
<circle cx="608.51" cy="829.85" r="1.10" fill="#8a48c0" fill-opacity="0.6"/>
<circle cx="620.44" cy="821.13" r="0.70" fill="#7a3cb4" fill-opacity="0.6"/>
<circle cx="615.36" cy="846.11" r="0.90" fill="#9a60cc" fill-opacity="0.6"/>
<circle cx="615.18" cy="799.46" r="0.90" fill="#7a3cb4" fill-opacity="0.6"/>
<circle cx="586.38" cy="819.60" r="0.70" fill="#9a60cc" fill-opacity="0.6"/>
<circle cx="580.39" cy="824.86" r="1.10" fill="#8a48c0" fill-opacity="0.6"/>
<circle cx="590.77" cy="797.27" r="0.70" fill="#9a60cc" fill-opacity="0.6"/>
<circle cx="612.11" cy="807.70" r="0.70" fill="#8a48c0" fill-opacity="0.6"/>
<circle cx="616.50" cy="806.75" r="0.90" fill="#8a48c0" fill-opacity="0.6"/>
<circle cx="592.74" cy="828.65" r="0.90" fill="#9a60cc" fill-opacity="0.6"/>
<circle cx="602.67" cy="830.75" r="0.90" fill="#9a60cc" fill-opacity="0.6"/>
<circle cx="619.47" cy="802.62" r="0.90" fill="#9a60cc" fill-opacity="0.6"/>
<circle cx="595.52" cy="847.19" r="0.70" fill="#7a3cb4" fill-opacity="0.6"/>
<circle cx="585.67" cy="841.24" r="0.70" fill="#8a48c0" fill-opacity="0.6"/>
<circle cx="618.08" cy="826.68" r="1.10" fill="#8a48c0" fill-opacity="0.6"/>
<circle cx="622.57" cy="826.03" r="0.90" fill="#7a3cb4" fill-opacity="0.6"/>
<circle cx="571.51" cy="821.04" r="1.10" fill="#8a48c0" fill-opacity="0.6"/>
<circle cx="608.56" cy="809.77" r="1.10" fill="#7a3cb4" fill-opacity="0.6"/>
<circle cx="598.99" cy="825.94" r="1.10" fill="#9a60cc" fill-opacity="0.6"/>
<circle cx="581.15" cy="808.45" r="1.10" fill="#8a48c0" fill-opacity="0.6"/>
<circle cx="602.89" cy="840.77" r="1.10" fill="#8a48c0" fill-opacity="0.6"/>
<circle cx="616.16" cy="821.35" r="0.70" fill="#7a3cb4" fill-opacity="0.6"/>
<circle cx="594.93" cy="804.10" r="0.90" fill="#7a3cb4" fill-opacity="0.6"/>
<circle cx="589.29" cy="811.31" r="0.90" fill="#7a3cb4" fill-opacity="0.6"/>
<circle cx="576.67" cy="824.69" r="1.10" fill="#7a3cb4" fill-opacity="0.6"/>
<circle cx="595.88" cy="817.73" r="0.90" fill="#7a3cb4" fill-opacity="0.6"/>
<circle cx="610.39" cy="844.36" r="1.10" fill="#7a3cb4" fill-opacity="0.6"/>
<circle cx="579.39" cy="823.87" r="1.10" fill="#7a3cb4" fill-opacity="0.6"/>
<circle cx="602.25" cy="810.03" r="1.10" fill="#9a60cc" fill-opacity="0.6"/>
<circle cx="609.09" cy="799.67" r="1.10" fill="#7a3cb4" fill-opacity="0.6"/>
<circle cx="614.05" cy="809.42" r="0.90" fill="#9a60cc" fill-opacity="0.6"/>
<circle cx="624.67" cy="837.56" r="1.10" fill="#7a3cb4" fill-opacity="0.6"/>
<circle cx="603.11" cy="812.98" r="0.70" fill="#8a48c0" fill-opacity="0.6"/>
<circle cx="589.89" cy="831.37" r="1.10" fill="#9a60cc" fill-opacity="0.6"/>
<circle cx="576.74" cy="820.69" r="1.10" fill="#9a60cc" fill-opacity="0.6"/>
<circle cx="618.82" cy="834.70" r="1.10" fill="#7a3cb4" fill-opacity="0.6"/>
<circle cx="577.58" cy="808.01" r="1.10" fill="#8a48c0" fill-opacity="0.6"/>
<circle cx="600.70" cy="811.39" r="1.10" fill="#7a3cb4" fill-opacity="0.6"/>
<circle cx="602.07" cy="849.77" r="1.10" fill="#8a48c0" fill-opacity="0.6"/>
<circle cx="586.86" cy="810.95" r="0.70" fill="#7a3cb4" fill-opacity="0.6"/>
<circle cx="578.51" cy="824.00" r="0.70" fill="#8a48c0" fill-opacity="0.6"/>
<circle cx="625.08" cy="809.45" r="0.70" fill="#9a60cc" fill-opacity="0.6"/>
<circle cx="591.63" cy="795.82" r="0.70" fill="#9a60cc" fill-opacity="0.6"/>
<circle cx="620.45" cy="820.62" r="0.70" fill="#9a60cc" fill-opacity="0.6"/>
<circle cx="610.77" cy="850.08" r="1.10" fill="#7a3cb4" fill-opacity="0.6"/>
<circle cx="608.50" cy="823.56" r="0.70" fill="#7a3cb4" fill-opacity="0.6"/>
<circle cx="605.11" cy="850.47" r="1.10" fill="#7a3cb4" fill-opacity="0.6"/>
<circle cx="592.40" cy="796.30" r="1.10" fill="#9a60cc" fill-opacity="0.6"/>
<circle cx="590.32" cy="815.10" r="1.10" fill="#9a60cc" fill-opacity="0.6"/>
<circle cx="612.80" cy="811.68" r="0.70" fill="#7a3cb4" fill-opacity="0.6"/>
<circle cx="587.30" cy="822.03" r="0.70" fill="#9a60cc" fill-opacity="0.6"/>
<circle cx="614.95" cy="834.25" r="1.10" fill="#7a3cb4" fill-opacity="0.6"/>
<circle cx="594.80" cy="815.56" r="0.90" fill="#7a3cb4" fill-opacity="0.6"/>
<circle cx="589.08" cy="836.62" r="0.90" fill="#8a48c0" fill-opacity="0.6"/>
<circle cx="597.15" cy="824.23" r="0.90" fill="#8a48c0" fill-opacity="0.6"/>
<circle cx="586.74" cy="810.45" r="0.90" fill="#7a3cb4" fill-opacity="0.6"/>
<circle cx="607.53" cy="844.67" r="0.70" fill="#7a3cb4" fill-opacity="0.6"/>
<circle cx="613.11" cy="810.45" r="0.90" fill="#7a3cb4" fill-opacity="0.6"/>
<circle cx="621.52" cy="816.70" r="0.90" fill="#8a48c0" fill-opacity="0.6"/>
<circle cx="588.40" cy="797.51" r="0.70" fill="#9a60cc" fill-opacity="0.6"/>
<circle cx="599.25" cy="852.25" r="0.90" fill="#8a48c0" fill-opacity="0.6"/>
<circle cx="616.66" cy="823.65" r="1.10" fill="#8a48c0" fill-opacity="0.6"/>
<circle cx="595.98" cy="824.33" r="1.10" fill="#7a3cb4" fill-opacity="0.6"/>
<circle cx="586.79" cy="846.14" r="0.70" fill="#7a3cb4" fill-opacity="0.6"/>
<circle cx="621.65" cy="833.43" r="0.70" fill="#7a3cb4" fill-opacity="0.6"/>
<circle cx="606.14" cy="834.81" r="1.10" fill="#7a3cb4" fill-opacity="0.6"/>
<circle cx="628.42" cy="828.29" r="0.70" fill="#8a48c0" fill-opacity="0.6"/>
<circle cx="613.15" cy="816.12" r="0.90" fill="#9a60cc" fill-opacity="0.6"/>
<circle cx="623.48" cy="821.20" r="0.90" fill="#8a48c0" fill-opacity="0.6"/>
<circle cx="626.70" cy="815.91" r="0.90" fill="#9a60cc" fill-opacity="0.6"/>
<circle cx="584.96" cy="844.76" r="0.90" fill="#9a60cc" fill-opacity="0.6"/>
<circle cx="608.39" cy="829.12" r="1.10" fill="#7a3cb4" fill-opacity="0.6"/>
<circle cx="583.33" cy="812.32" r="0.90" fill="#7a3cb4" fill-opacity="0.6"/>
<circle cx="610.93" cy="840.49" r="0.70" fill="#8a48c0" fill-opacity="0.6"/>
<circle cx="577.37" cy="827.80" r="0.70" fill="#9a60cc" fill-opacity="0.6"/>
<circle cx="622.64" cy="835.29" r="0.70" fill="#8a48c0" fill-opacity="0.6"/>
<circle cx="578.87" cy="831.32" r="0.70" fill="#8a48c0" fill-opacity="0.6"/>
<circle cx="617.46" cy="816.89" r="1.10" fill="#9a60cc" fill-opacity="0.6"/>
<circle cx="616.78" cy="804.47" r="0.70" fill="#7a3cb4" fill-opacity="0.6"/>
<circle cx="609.42" cy="795.22" r="0.90" fill="#7a3cb4" fill-opacity="0.6"/>
<circle cx="613.62" cy="831.07" r="1.10" fill="#8a48c0" fill-opacity="0.6"/>
<circle cx="579.22" cy="809.55" r="0.90" fill="#7a3cb4" fill-opacity="0.6"/>
<circle cx="575.41" cy="831.27" r="0.90" fill="#9a60cc" fill-opacity="0.6"/>
<circle cx="587.26" cy="837.49" r="1.10" fill="#7a3cb4" fill-opacity="0.6"/>
<circle cx="575.37" cy="838.00" r="0.70" fill="#9a60cc" fill-opacity="0.6"/>
<circle cx="597.61" cy="796.69" r="0.70" fill="#7a3cb4" fill-opacity="0.6"/>
<circle cx="580.75" cy="833.49" r="1.10" fill="#9a60cc" fill-opacity="0.6"/>
<circle cx="576.03" cy="831.78" r="0.70" fill="#9a60cc" fill-opacity="0.6"/>
<circle cx="597.81" cy="794.24" r="1.10" fill="#7a3cb4" fill-opacity="0.6"/>
<circle cx="603.64" cy="829.03" r="1.10" fill="#9a60cc" fill-opacity="0.6"/>
<circle cx="595.55" cy="832.86" r="0.90" fill="#9a60cc" fill-opacity="0.6"/>
<circle cx="581.80" cy="816.33" r="0.90" fill="#8a48c0" fill-opacity="0.6"/>
<circle cx="605.70" cy="798.08" r="0.90" fill="#7a3cb4" fill-opacity="0.6"/>
<circle cx="593.96" cy="843.66" r="0.70" fill="#9a60cc" fill-opacity="0.6"/>
<circle cx="591.67" cy="840.65" r="0.90" fill="#7a3cb4" fill-opacity="0.6"/>
<circle cx="596.31" cy="795.59" r="0.90" fill="#9a60cc" fill-opacity="0.6"/>
<circle cx="584.91" cy="805.92" r="1.10" fill="#9a60cc" fill-opacity="0.6"/>
<circle cx="605.75" cy="830.42" r="0.70" fill="#8a48c0" fill-opacity="0.6"/>
<circle cx="618.35" cy="842.28" r="1.10" fill="#9a60cc" fill-opacity="0.6"/>
<circle cx="609.54" cy="799.39" r="0.70" fill="#7a3cb4" fill-opacity="0.6"/>
<circle cx="601.86" cy="843.02" r="1.10" fill="#9a60cc" fill-opacity="0.6"/>
<circle cx="617.07" cy="839.12" r="0.70" fill="#9a60cc" fill-opacity="0.6"/>
<circle cx="604.07" cy="846.81" r="1.10" fill="#9a60cc" fill-opacity="0.6"/>
<circle cx="605.77" cy="808.95" r="1.10" fill="#9a60cc" fill-opacity="0.6"/>
<circle cx="626.96" cy="832.87" r="0.90" fill="#8a48c0" fill-opacity="0.6"/>
<circle cx="600.65" cy="822.58" r="0.90" fill="#9a60cc" fill-opacity="0.6"/>
<circle cx="620.23" cy="812.54" r="0.90" fill="#8a48c0" fill-opacity="0.6"/>
<circle cx="580.97" cy="823.05" r="0.90" fill="#7a3cb4" fill-opacity="0.6"/>
<circle cx="627.04" cy="823.26" r="0.70" fill="#7a3cb4" fill-opacity="0.6"/>
<circle cx="604.14" cy="844.76" r="0.90" fill="#7a3cb4" fill-opacity="0.6"/>
<circle cx="608.34" cy="835.49" r="1.10" fill="#8a48c0" fill-opacity="0.6"/>
<circle cx="621.10" cy="814.96" r="1.10" fill="#8a48c0" fill-opacity="0.6"/>
<circle cx="605.96" cy="798.54" r="1.10" fill="#7a3cb4" fill-opacity="0.6"/>
<circle cx="582.60" cy="816.77" r="0.90" fill="#7a3cb4" fill-opacity="0.6"/>
<circle cx="583.48" cy="839.28" r="0.90" fill="#7a3cb4" fill-opacity="0.6"/>
<circle cx="607.63" cy="827.63" r="0.70" fill="#9a60cc" fill-opacity="0.6"/>
<circle cx="590.38" cy="847.19" r="0.70" fill="#7a3cb4" fill-opacity="0.6"/>
<circle cx="582.13" cy="806.81" r="0.70" fill="#9a60cc" fill-opacity="0.6"/>
<circle cx="622.15" cy="828.92" r="0.90" fill="#7a3cb4" fill-opacity="0.6"/>
<circle cx="593.49" cy="823.36" r="0.90" fill="#8a48c0" fill-opacity="0.6"/>
<circle cx="611.86" cy="851.02" r="0.90" fill="#7a3cb4" fill-opacity="0.6"/>
<circle cx="622.09" cy="822.34" r="0.90" fill="#9a60cc" fill-opacity="0.6"/>
<circle cx="606.22" cy="814.92" r="1.10" fill="#7a3cb4" fill-opacity="0.6"/>
<circle cx="587.36" cy="802.55" r="1.10" fill="#9a60cc" fill-opacity="0.6"/>
<circle cx="582.11" cy="826.78" r="0.90" fill="#8a48c0" fill-opacity="0.6"/>
<circle cx="594.28" cy="803.89" r="0.90" fill="#9a60cc" fill-opacity="0.6"/>
<circle cx="575.30" cy="818.95" r="1.10" fill="#9a60cc" fill-opacity="0.6"/>
<circle cx="607.39" cy="814.44" r="1.10" fill="#8a48c0" fill-opacity="0.6"/>
<circle cx="578.26" cy="818.42" r="0.90" fill="#7a3cb4" fill-opacity="0.6"/>
<circle cx="605.32" cy="852.01" r="0.90" fill="#8a48c0" fill-opacity="0.6"/>
<circle cx="572.24" cy="821.99" r="0.70" fill="#9a60cc" fill-opacity="0.6"/>
<circle cx="571.34" cy="817.95" r="0.70" fill="#9a60cc" fill-opacity="0.6"/>
<circle cx="620.92" cy="836.09" r="0.90" fill="#8a48c0" fill-opacity="0.6"/>
<circle cx="572.37" cy="814.56" r="0.70" fill="#9a60cc" fill-opacity="0.6"/>
<circle cx="573.18" cy="813.24" r="0.90" fill="#8a48c0" fill-opacity="0.6"/>
<circle cx="595.90" cy="850.81" r="1.10" fill="#9a60cc" fill-opacity="0.6"/>
<circle cx="571.68" cy="831.06" r="0.70" fill="#7a3cb4" fill-opacity="0.6"/>
<circle cx="589.87" cy="797.46" r="1.10" fill="#9a60cc" fill-opacity="0.6"/>
<circle cx="581.15" cy="825.53" r="0.90" fill="#9a60cc" fill-opacity="0.6"/>
<circle cx="584.94" cy="809.52" r="0.90" fill="#7a3cb4" fill-opacity="0.6"/>
<circle cx="621.01" cy="834.51" r="0.90" fill="#7a3cb4" fill-opacity="0.6"/>
<circle cx="585.80" cy="815.73" r="0.70" fill="#8a48c0" fill-opacity="0.6"/>
<circle cx="623.15" cy="804.86" r="0.90" fill="#7a3cb4" fill-opacity="0.6"/>
<circle cx="603.37" cy="841.21" r="0.70" fill="#9a60cc" fill-opacity="0.6"/>
<circle cx="609.47" cy="815.63" r="0.70" fill="#9a60cc" fill-opacity="0.6"/>
<circle cx="591.30" cy="835.45" r="0.90" fill="#8a48c0" fill-opacity="0.6"/>
<circle cx="592.04" cy="835.40" r="0.90" fill="#9a60cc" fill-opacity="0.6"/>
<circle cx="601.39" cy="844.91" r="0.90" fill="#8a48c0" fill-opacity="0.6"/>
<circle cx="585.94" cy="847.39" r="0.90" fill="#7a3cb4" fill-opacity="0.6"/>
<circle cx="604.27" cy="846.40" r="0.70" fill="#8a48c0" fill-opacity="0.6"/>
<circle cx="578.82" cy="843.65" r="0.90" fill="#9a60cc" fill-opacity="0.6"/>
<circle cx="601.81" cy="851.67" r="0.70" fill="#8a48c0" fill-opacity="0.6"/>
<circle cx="593.18" cy="818.36" r="0.70" fill="#8a48c0" fill-opacity="0.6"/>
<circle cx="605.58" cy="813.02" r="0.70" fill="#7a3cb4" fill-opacity="0.6"/>
<circle cx="607.42" cy="838.73" r="0.90" fill="#8a48c0" fill-opacity="0.6"/>
<circle cx="617.40" cy="801.84" r="1.10" fill="#8a48c0" fill-opacity="0.6"/>
<circle cx="604.36" cy="836.51" r="1.10" fill="#7a3cb4" fill-opacity="0.6"/>
<circle cx="592.18" cy="806.65" r="1.10" fill="#9a60cc" fill-opacity="0.6"/>
<circle cx="606.55" cy="842.85" r="0.90" fill="#7a3cb4" fill-opacity="0.6"/>
<circle cx="617.79" cy="828.32" r="0.90" fill="#9a60cc" fill-opacity="0.6"/>
<circle cx="571.37" cy="826.87" r="0.70" fill="#9a60cc" fill-opacity="0.6"/>
<circle cx="589.74" cy="814.30" r="1.10" fill="#8a48c0" fill-opacity="0.6"/>
<circle cx="620.80" cy="832.21" r="0.70" fill="#7a3cb4" fill-opacity="0.6"/>
<circle cx="588.59" cy="841.16" r="0.90" fill="#7a3cb4" fill-opacity="0.6"/>
<circle cx="592.37" cy="812.13" r="0.90" fill="#8a48c0" fill-opacity="0.6"/>
<circle cx="592.13" cy="840.97" r="0.90" fill="#7a3cb4" fill-opacity="0.6"/>
<circle cx="598.53" cy="807.71" r="0.90" fill="#8a48c0" fill-opacity="0.6"/>
<circle cx="620.89" cy="844.51" r="0.70" fill="#7a3cb4" fill-opacity="0.6"/>
<circle cx="583.59" cy="844.10" r="0.70" fill="#7a3cb4" fill-opacity="0.6"/>
<circle cx="610.74" cy="831.62" r="1.10" fill="#8a48c0" fill-opacity="0.6"/>
<circle cx="603.91" cy="822.48" r="0.70" fill="#8a48c0" fill-opacity="0.6"/>
<circle cx="597.10" cy="828.98" r="0.90" fill="#9a60cc" fill-opacity="0.6"/>
<circle cx="601.81" cy="821.00" r="0.90" fill="#7a3cb4" fill-opacity="0.6"/>
<circle cx="607.39" cy="835.55" r="1.10" fill="#9a60cc" fill-opacity="0.6"/>
<circle cx="611.53" cy="800.32" r="1.10" fill="#9a60cc" fill-opacity="0.6"/>
<circle cx="604.99" cy="817.45" r="1.10" fill="#9a60cc" fill-opacity="0.6"/>
<circle cx="589.37" cy="813.46" r="0.90" fill="#9a60cc" fill-opacity="0.6"/>
<circle cx="597.87" cy="824.47" r="0.70" fill="#9a60cc" fill-opacity="0.6"/>
<circle cx="623.10" cy="808.40" r="0.90" fill="#7a3cb4" fill-opacity="0.6"/>
<circle cx="583.43" cy="841.90" r="0.70" fill="#7a3cb4" fill-opacity="0.6"/>
<circle cx="592.46" cy="849.15" r="0.70" fill="#8a48c0" fill-opacity="0.6"/>
<circle cx="602.03" cy="809.29" r="1.10" fill="#8a48c0" fill-opacity="0.6"/>
<circle cx="629.76" cy="819.32" r="0.90" fill="#8a48c0" fill-opacity="0.6"/>
<circle cx="581.59" cy="837.92" r="1.10" fill="#8a48c0" fill-opacity="0.6"/>
<circle cx="587.96" cy="798.82" r="1.10" fill="#9a60cc" fill-opacity="0.6"/>
<circle cx="573.47" cy="835.84" r="0.90" fill="#9a60cc" fill-opacity="0.6"/>
<circle cx="579.20" cy="810.69" r="0.90" fill="#7a3cb4" fill-opacity="0.6"/>
<circle cx="601.21" cy="805.19" r="0.90" fill="#8a48c0" fill-opacity="0.6"/>
<circle cx="575.44" cy="838.85" r="0.70" fill="#7a3cb4" fill-opacity="0.6"/>
<circle cx="621.22" cy="802.41" r="0.90" fill="#8a48c0" fill-opacity="0.6"/>
<circle cx="605.13" cy="834.88" r="0.90" fill="#8a48c0" fill-opacity="0.6"/>
<circle cx="598.61" cy="799.71" r="0.70" fill="#9a60cc" fill-opacity="0.6"/>
<circle cx="629.34" cy="824.61" r="1.10" fill="#7a3cb4" fill-opacity="0.6"/>
<circle cx="578.44" cy="831.66" r="0.70" fill="#9a60cc" fill-opacity="0.6"/>
<circle cx="624.65" cy="811.11" r="0.70" fill="#8a48c0" fill-opacity="0.6"/>
<circle cx="585.14" cy="820.20" r="0.70" fill="#9a60cc" fill-opacity="0.6"/>
<circle cx="616.48" cy="842.64" r="0.90" fill="#9a60cc" fill-opacity="0.6"/>
<circle cx="590.09" cy="800.08" r="1.10" fill="#9a60cc" fill-opacity="0.6"/>
<circle cx="585.93" cy="805.60" r="1.10" fill="#8a48c0" fill-opacity="0.6"/>
<circle cx="618.09" cy="810.83" r="1.10" fill="#8a48c0" fill-opacity="0.6"/>
<circle cx="616.68" cy="842.41" r="1.10" fill="#8a48c0" fill-opacity="0.6"/>
<circle cx="617.10" cy="819.56" r="0.90" fill="#7a3cb4" fill-opacity="0.6"/>
<circle cx="577.04" cy="816.08" r="0.90" fill="#8a48c0" fill-opacity="0.6"/>
<circle cx="612.87" cy="844.83" r="1.10" fill="#8a48c0" fill-opacity="0.6"/>
<circle cx="585.13" cy="822.44" r="1.10" fill="#9a60cc" fill-opacity="0.6"/>
<circle cx="591.73" cy="822.97" r="0.70" fill="#8a48c0" fill-opacity="0.6"/>
<circle cx="590.42" cy="839.26" r="1.10" fill="#7a3cb4" fill-opacity="0.6"/>
<circle cx="625.87" cy="819.81" r="1.10" fill="#8a48c0" fill-opacity="0.6"/>
<circle cx="590.37" cy="848.56" r="0.90" fill="#9a60cc" fill-opacity="0.6"/>
<circle cx="589.67" cy="798.03" r="0.90" fill="#7a3cb4" fill-opacity="0.6"/>
<circle cx="598.70" cy="797.43" r="0.90" fill="#7a3cb4" fill-opacity="0.6"/>
<circle cx="578.52" cy="812.11" r="1.10" fill="#9a60cc" fill-opacity="0.6"/>
<circle cx="602.49" cy="848.22" r="1.10" fill="#8a48c0" fill-opacity="0.6"/>
<circle cx="577.46" cy="824.91" r="0.70" fill="#7a3cb4" fill-opacity="0.6"/>
<circle cx="621.86" cy="830.86" r="1.10" fill="#8a48c0" fill-opacity="0.6"/>
<circle cx="604.93" cy="821.84" r="1.10" fill="#8a48c0" fill-opacity="0.6"/>
<circle cx="613.18" cy="810.73" r="1.10" fill="#9a60cc" fill-opacity="0.6"/>
<circle cx="613.76" cy="798.31" r="0.70" fill="#7a3cb4" fill-opacity="0.6"/>
<circle cx="592.33" cy="839.93" r="0.70" fill="#7a3cb4" fill-opacity="0.6"/>
<circle cx="617.77" cy="830.00" r="0.90" fill="#9a60cc" fill-opacity="0.6"/>
<circle cx="588.59" cy="821.90" r="0.70" fill="#9a60cc" fill-opacity="0.6"/>
<circle cx="612.02" cy="827.81" r="0.70" fill="#9a60cc" fill-opacity="0.6"/>
<circle cx="585.61" cy="830.09" r="1.50" fill="#42248e" fill-opacity="0.85"/>
<circle cx="620.69" cy="844.63" r="1.70" fill="#361c7c" fill-opacity="0.85"/>
<circle cx="601.53" cy="822.81" r="1.50" fill="#361c7c" fill-opacity="0.85"/>
<circle cx="621.41" cy="810.85" r="2.30" fill="#361c7c" fill-opacity="0.85"/>
<circle cx="576.51" cy="838.32" r="0.90" fill="#4e2c9a" fill-opacity="0.85"/>
<circle cx="609.59" cy="838.22" r="1.10" fill="#3c2088" fill-opacity="0.85"/>
<circle cx="602.54" cy="842.31" r="1.10" fill="#4e2c9a" fill-opacity="0.85"/>
<circle cx="589.61" cy="846.36" r="1.10" fill="#3c2088" fill-opacity="0.85"/>
<circle cx="603.82" cy="835.75" r="0.90" fill="#3c2088" fill-opacity="0.85"/>
<circle cx="591.31" cy="819.64" r="2.30" fill="#3c2088" fill-opacity="0.85"/>
<circle cx="619.85" cy="822.30" r="0.90" fill="#42248e" fill-opacity="0.85"/>
<circle cx="624.80" cy="838.02" r="2.00" fill="#42248e" fill-opacity="0.85"/>
<circle cx="594.60" cy="810.34" r="1.10" fill="#4e2c9a" fill-opacity="0.85"/>
<circle cx="605.31" cy="838.31" r="1.30" fill="#281466" fill-opacity="0.85"/>
<circle cx="616.40" cy="815.60" r="1.10" fill="#3c2088" fill-opacity="0.85"/>
<circle cx="597.43" cy="817.69" r="1.30" fill="#281466" fill-opacity="0.85"/>
<circle cx="595.56" cy="826.61" r="1.30" fill="#281466" fill-opacity="0.85"/>
<circle cx="614.61" cy="831.94" r="0.90" fill="#281466" fill-opacity="0.85"/>
<circle cx="600.29" cy="804.16" r="1.70" fill="#3c2088" fill-opacity="0.85"/>
<circle cx="583.07" cy="832.11" r="1.10" fill="#42248e" fill-opacity="0.85"/>
<circle cx="620.90" cy="817.14" r="1.70" fill="#4e2c9a" fill-opacity="0.85"/>
<circle cx="589.18" cy="822.72" r="1.70" fill="#42248e" fill-opacity="0.85"/>
<circle cx="587.83" cy="848.88" r="0.90" fill="#361c7c" fill-opacity="0.85"/>
<circle cx="611.28" cy="824.37" r="2.30" fill="#281466" fill-opacity="0.85"/>
<circle cx="612.30" cy="819.63" r="1.50" fill="#4e2c9a" fill-opacity="0.85"/>
<circle cx="622.02" cy="841.10" r="1.50" fill="#3c2088" fill-opacity="0.85"/>
<circle cx="589.81" cy="816.83" r="1.70" fill="#3c2088" fill-opacity="0.85"/>
<circle cx="597.07" cy="821.72" r="1.30" fill="#42248e" fill-opacity="0.85"/>
<circle cx="581.90" cy="810.03" r="1.30" fill="#3c2088" fill-opacity="0.85"/>
<circle cx="594.64" cy="809.67" r="1.70" fill="#42248e" fill-opacity="0.85"/>
<circle cx="589.49" cy="804.23" r="2.00" fill="#4e2c9a" fill-opacity="0.85"/>
<circle cx="614.21" cy="828.79" r="2.00" fill="#42248e" fill-opacity="0.85"/>
<circle cx="584.19" cy="842.85" r="1.70" fill="#281466" fill-opacity="0.85"/>
<circle cx="580.71" cy="813.80" r="0.90" fill="#4e2c9a" fill-opacity="0.85"/>
<circle cx="595.46" cy="800.61" r="0.90" fill="#4e2c9a" fill-opacity="0.85"/>
<circle cx="577.48" cy="823.63" r="0.90" fill="#3c2088" fill-opacity="0.85"/>
<circle cx="581.38" cy="820.48" r="1.50" fill="#4e2c9a" fill-opacity="0.85"/>
<circle cx="587.18" cy="803.39" r="0.90" fill="#42248e" fill-opacity="0.85"/>
<circle cx="614.10" cy="832.50" r="1.50" fill="#281466" fill-opacity="0.85"/>
<circle cx="623.66" cy="805.68" r="1.70" fill="#4e2c9a" fill-opacity="0.85"/>
<circle cx="593.92" cy="837.07" r="1.30" fill="#42248e" fill-opacity="0.85"/>
<circle cx="624.24" cy="821.31" r="1.30" fill="#42248e" fill-opacity="0.85"/>
<circle cx="612.56" cy="823.06" r="1.10" fill="#3c2088" fill-opacity="0.85"/>
<circle cx="621.10" cy="830.18" r="2.30" fill="#281466" fill-opacity="0.85"/>
<circle cx="595.65" cy="803.75" r="1.30" fill="#281466" fill-opacity="0.85"/>
<circle cx="619.12" cy="827.45" r="1.30" fill="#42248e" fill-opacity="0.85"/>
<circle cx="594.17" cy="841.31" r="1.30" fill="#42248e" fill-opacity="0.85"/>
<circle cx="600.30" cy="798.18" r="2.00" fill="#4e2c9a" fill-opacity="0.85"/>
<circle cx="586.70" cy="820.21" r="0.90" fill="#42248e" fill-opacity="0.85"/>
<circle cx="626.67" cy="815.94" r="2.00" fill="#361c7c" fill-opacity="0.85"/>
<circle cx="595.42" cy="836.05" r="2.30" fill="#3c2088" fill-opacity="0.85"/>
<circle cx="603.49" cy="839.19" r="1.50" fill="#42248e" fill-opacity="0.85"/>
<circle cx="625.66" cy="822.00" r="1.30" fill="#281466" fill-opacity="0.85"/>
<circle cx="616.49" cy="805.96" r="1.30" fill="#42248e" fill-opacity="0.85"/>
<circle cx="611.40" cy="799.08" r="1.50" fill="#42248e" fill-opacity="0.85"/>
<circle cx="619.70" cy="820.37" r="1.70" fill="#42248e" fill-opacity="0.85"/>
<circle cx="590.55" cy="835.23" r="1.30" fill="#3c2088" fill-opacity="0.85"/>
<circle cx="576.51" cy="814.17" r="1.30" fill="#4e2c9a" fill-opacity="0.85"/>
<circle cx="576.71" cy="829.29" r="2.30" fill="#281466" fill-opacity="0.85"/>
<circle cx="605.01" cy="811.78" r="0.90" fill="#42248e" fill-opacity="0.85"/>
<circle cx="601.47" cy="812.44" r="0.90" fill="#281466" fill-opacity="0.85"/>
<circle cx="617.90" cy="834.12" r="1.30" fill="#42248e" fill-opacity="0.85"/>
<circle cx="620.36" cy="832.10" r="2.30" fill="#361c7c" fill-opacity="0.85"/>
<circle cx="617.95" cy="817.53" r="1.50" fill="#361c7c" fill-opacity="0.85"/>
<circle cx="620.29" cy="835.52" r="0.90" fill="#361c7c" fill-opacity="0.85"/>
<circle cx="609.86" cy="807.27" r="2.30" fill="#281466" fill-opacity="0.85"/>
<circle cx="611.99" cy="800.75" r="1.30" fill="#4e2c9a" fill-opacity="0.85"/>
<circle cx="582.10" cy="836.12" r="1.30" fill="#3c2088" fill-opacity="0.85"/>
<circle cx="582.85" cy="836.79" r="2.00" fill="#281466" fill-opacity="0.85"/>
<circle cx="574.44" cy="831.86" r="1.50" fill="#281466" fill-opacity="0.85"/>
<circle cx="608.61" cy="806.31" r="1.10" fill="#4e2c9a" fill-opacity="0.85"/>
<circle cx="603.66" cy="823.86" r="2.00" fill="#42248e" fill-opacity="0.85"/>
<circle cx="574.62" cy="821.46" r="0.90" fill="#281466" fill-opacity="0.85"/>
<circle cx="585.42" cy="805.28" r="2.00" fill="#3c2088" fill-opacity="0.85"/>
<circle cx="583.33" cy="815.24" r="1.50" fill="#361c7c" fill-opacity="0.85"/>
<circle cx="575.79" cy="826.81" r="1.10" fill="#3c2088" fill-opacity="0.85"/>
<circle cx="597.14" cy="822.20" r="2.00" fill="#361c7c" fill-opacity="0.85"/>
<circle cx="626.75" cy="836.28" r="0.90" fill="#281466" fill-opacity="0.85"/>
<circle cx="587.90" cy="827.16" r="2.30" fill="#281466" fill-opacity="0.85"/>
<circle cx="603.84" cy="852.23" r="0.90" fill="#361c7c" fill-opacity="0.85"/>
<circle cx="591.89" cy="839.33" r="1.50" fill="#4e2c9a" fill-opacity="0.85"/>
<circle cx="602.04" cy="826.89" r="1.70" fill="#3c2088" fill-opacity="0.85"/>
<circle cx="621.47" cy="831.11" r="1.30" fill="#281466" fill-opacity="0.85"/>
<circle cx="609.61" cy="812.99" r="1.30" fill="#4e2c9a" fill-opacity="0.85"/>
<circle cx="587.97" cy="811.21" r="0.90" fill="#42248e" fill-opacity="0.85"/>
<circle cx="574.20" cy="820.01" r="1.70" fill="#281466" fill-opacity="0.85"/>
<circle cx="607.14" cy="844.88" r="1.50" fill="#4e2c9a" fill-opacity="0.85"/>
<circle cx="573.93" cy="829.75" r="1.10" fill="#42248e" fill-opacity="0.85"/>
<circle cx="602.18" cy="837.84" r="1.10" fill="#361c7c" fill-opacity="0.85"/>
<circle cx="597.61" cy="821.88" r="1.30" fill="#4e2c9a" fill-opacity="0.85"/>
<circle cx="578.10" cy="806.33" r="1.10" fill="#361c7c" fill-opacity="0.85"/>
<circle cx="612.02" cy="806.11" r="2.30" fill="#4e2c9a" fill-opacity="0.85"/>
<circle cx="624.47" cy="824.41" r="1.10" fill="#281466" fill-opacity="0.85"/>
<circle cx="599.86" cy="817.00" r="1.70" fill="#4e2c9a" fill-opacity="0.85"/>
<circle cx="626.46" cy="814.31" r="2.30" fill="#361c7c" fill-opacity="0.85"/>
<circle cx="601.23" cy="816.36" r="0.90" fill="#281466" fill-opacity="0.85"/>
<circle cx="621.27" cy="811.63" r="1.50" fill="#3c2088" fill-opacity="0.85"/>
<circle cx="606.35" cy="844.72" r="1.30" fill="#4e2c9a" fill-opacity="0.85"/>
<circle cx="595.58" cy="845.98" r="1.10" fill="#3c2088" fill-opacity="0.85"/>
<circle cx="582.97" cy="807.80" r="1.50" fill="#281466" fill-opacity="0.85"/>
<circle cx="603.95" cy="831.41" r="2.30" fill="#3c2088" fill-opacity="0.85"/>
<circle cx="588.88" cy="815.32" r="1.30" fill="#42248e" fill-opacity="0.85"/>
<circle cx="611.24" cy="802.14" r="1.50" fill="#281466" fill-opacity="0.85"/>
<circle cx="622.62" cy="837.53" r="1.10" fill="#3c2088" fill-opacity="0.85"/>
<circle cx="584.05" cy="835.56" r="2.00" fill="#361c7c" fill-opacity="0.85"/>
<circle cx="624.54" cy="817.76" r="1.50" fill="#42248e" fill-opacity="0.85"/>
<circle cx="577.17" cy="813.47" r="1.50" fill="#361c7c" fill-opacity="0.85"/>
<circle cx="612.23" cy="821.13" r="2.30" fill="#361c7c" fill-opacity="0.85"/>
<circle cx="576.90" cy="840.25" r="0.90" fill="#281466" fill-opacity="0.85"/>
<circle cx="601.94" cy="813.26" r="2.30" fill="#3c2088" fill-opacity="0.85"/>
<circle cx="575.99" cy="835.51" r="1.30" fill="#42248e" fill-opacity="0.85"/>
<circle cx="615.12" cy="825.11" r="2.00" fill="#361c7c" fill-opacity="0.85"/>
<circle cx="602.17" cy="823.78" r="1.50" fill="#281466" fill-opacity="0.85"/>
<circle cx="619.02" cy="832.61" r="2.00" fill="#361c7c" fill-opacity="0.85"/>
<circle cx="601.22" cy="827.20" r="1.70" fill="#281466" fill-opacity="0.85"/>
<circle cx="579.35" cy="825.74" r="1.10" fill="#4e2c9a" fill-opacity="0.85"/>
<circle cx="594.30" cy="813.37" r="1.30" fill="#3c2088" fill-opacity="0.85"/>
<circle cx="619.00" cy="821.66" r="1.70" fill="#3c2088" fill-opacity="0.85"/>
<circle cx="589.34" cy="811.38" r="1.10" fill="#361c7c" fill-opacity="0.85"/>
<circle cx="578.63" cy="825.72" r="2.30" fill="#361c7c" fill-opacity="0.85"/>
<circle cx="594.41" cy="827.99" r="0.90" fill="#281466" fill-opacity="0.85"/>
<circle cx="619.15" cy="842.48" r="1.70" fill="#3c2088" fill-opacity="0.85"/>
<circle cx="589.87" cy="842.34" r="1.30" fill="#281466" fill-opacity="0.85"/>
<circle cx="602.19" cy="846.77" r="1.10" fill="#4e2c9a" fill-opacity="0.85"/>
<circle cx="589.92" cy="837.03" r="1.50" fill="#42248e" fill-opacity="0.85"/>
<circle cx="604.02" cy="800.93" r="2.30" fill="#3c2088" fill-opacity="0.85"/>
<circle cx="597.55" cy="818.45" r="2.30" fill="#4e2c9a" fill-opacity="0.85"/>
<circle cx="611.95" cy="836.73" r="2.30" fill="#281466" fill-opacity="0.85"/>
<circle cx="609.13" cy="840.32" r="1.70" fill="#281466" fill-opacity="0.85"/>
<circle cx="582.37" cy="819.48" r="2.30" fill="#3c2088" fill-opacity="0.85"/>
<circle cx="623.98" cy="805.94" r="2.30" fill="#42248e" fill-opacity="0.85"/>
<circle cx="605.02" cy="849.87" r="2.30" fill="#42248e" fill-opacity="0.85"/>
<circle cx="608.89" cy="807.29" r="2.00" fill="#281466" fill-opacity="0.85"/>
<circle cx="616.32" cy="822.35" r="1.30" fill="#361c7c" fill-opacity="0.85"/>
<circle cx="609.46" cy="808.73" r="0.90" fill="#3c2088" fill-opacity="0.85"/>
<circle cx="612.20" cy="816.48" r="2.00" fill="#3c2088" fill-opacity="0.85"/>
<circle cx="574.88" cy="831.68" r="2.00" fill="#4e2c9a" fill-opacity="0.85"/>
<circle cx="601.27" cy="810.42" r="2.00" fill="#281466" fill-opacity="0.85"/>
<circle cx="583.29" cy="816.27" r="2.30" fill="#281466" fill-opacity="0.85"/>
<circle cx="607.79" cy="838.44" r="1.50" fill="#4e2c9a" fill-opacity="0.85"/>
<circle cx="607.83" cy="827.57" r="2.00" fill="#281466" fill-opacity="0.85"/>
<circle cx="596.06" cy="799.90" r="2.30" fill="#361c7c" fill-opacity="0.85"/>
<circle cx="599.66" cy="811.37" r="2.30" fill="#4e2c9a" fill-opacity="0.85"/>
<circle cx="592.46" cy="830.26" r="1.70" fill="#361c7c" fill-opacity="0.85"/>
<circle cx="606.69" cy="813.57" r="1.70" fill="#4e2c9a" fill-opacity="0.85"/>
<circle cx="576.11" cy="828.76" r="1.50" fill="#281466" fill-opacity="0.85"/>
<circle cx="600.02" cy="830.91" r="1.70" fill="#4e2c9a" fill-opacity="0.85"/>
<circle cx="611.38" cy="850.63" r="1.30" fill="#42248e" fill-opacity="0.85"/>
<circle cx="606.54" cy="799.75" r="1.30" fill="#3c2088" fill-opacity="0.85"/>
<circle cx="579.42" cy="814.19" r="0.90" fill="#4e2c9a" fill-opacity="0.85"/>
<circle cx="596.61" cy="831.87" r="0.90" fill="#3c2088" fill-opacity="0.85"/>
<circle cx="622.42" cy="823.77" r="1.50" fill="#361c7c" fill-opacity="0.85"/>
<circle cx="601.52" cy="850.68" r="1.50" fill="#361c7c" fill-opacity="0.85"/>
<circle cx="594.71" cy="847.33" r="1.50" fill="#281466" fill-opacity="0.85"/>
<circle cx="618.97" cy="809.91" r="1.30" fill="#4e2c9a" fill-opacity="0.85"/>
<circle cx="577.13" cy="838.76" r="1.70" fill="#3c2088" fill-opacity="0.85"/>
<circle cx="596.39" cy="840.86" r="0.90" fill="#281466" fill-opacity="0.85"/>
<circle cx="575.12" cy="832.73" r="0.90" fill="#3c2088" fill-opacity="0.85"/>
<circle cx="601.42" cy="803.11" r="1.10" fill="#281466" fill-opacity="0.85"/>
<circle cx="624.50" cy="830.76" r="1.10" fill="#361c7c" fill-opacity="0.85"/>
<circle cx="612.72" cy="832.60" r="0.90" fill="#3c2088" fill-opacity="0.85"/>
<circle cx="613.55" cy="829.72" r="1.10" fill="#4e2c9a" fill-opacity="0.85"/>
<circle cx="626.87" cy="822.94" r="1.30" fill="#281466" fill-opacity="0.85"/>
<circle cx="589.51" cy="845.11" r="1.70" fill="#4e2c9a" fill-opacity="0.85"/>
<circle cx="616.98" cy="802.76" r="2.00" fill="#3c2088" fill-opacity="0.85"/>
<circle cx="591.57" cy="826.33" r="1.10" fill="#42248e" fill-opacity="0.85"/>
<circle cx="589.38" cy="822.86" r="0.90" fill="#281466" fill-opacity="0.85"/>
<circle cx="602.51" cy="798.08" r="1.30" fill="#4e2c9a" fill-opacity="0.85"/>
<circle cx="588.84" cy="810.50" r="1.70" fill="#4e2c9a" fill-opacity="0.85"/>
<circle cx="605.97" cy="833.92" r="2.30" fill="#361c7c" fill-opacity="0.85"/>
<circle cx="616.75" cy="843.41" r="2.30" fill="#361c7c" fill-opacity="0.85"/>
<circle cx="590.57" cy="833.55" r="1.50" fill="#3c2088" fill-opacity="0.85"/>
<circle cx="619.56" cy="816.94" r="1.70" fill="#4e2c9a" fill-opacity="0.85"/>
<circle cx="589.07" cy="817.94" r="1.50" fill="#281466" fill-opacity="0.85"/>
<circle cx="617.59" cy="801.42" r="1.70" fill="#361c7c" fill-opacity="0.85"/>
<circle cx="601.12" cy="804.24" r="1.10" fill="#361c7c" fill-opacity="0.85"/>
<circle cx="589.38" cy="819.40" r="2.30" fill="#42248e" fill-opacity="0.85"/>
<circle cx="581.27" cy="804.94" r="2.30" fill="#281466" fill-opacity="0.85"/>
<circle cx="617.95" cy="845.14" r="2.30" fill="#281466" fill-opacity="0.85"/>
<circle cx="578.63" cy="835.50" r="1.50" fill="#361c7c" fill-opacity="0.85"/>
<circle cx="621.52" cy="821.98" r="2.00" fill="#4e2c9a" fill-opacity="0.85"/>
<circle cx="592.83" cy="802.27" r="2.00" fill="#3c2088" fill-opacity="0.85"/>
<circle cx="591.45" cy="848.90" r="2.30" fill="#4e2c9a" fill-opacity="0.85"/>
<circle cx="595.38" cy="798.84" r="1.50" fill="#4e2c9a" fill-opacity="0.85"/>
<circle cx="587.87" cy="797.88" r="1.50" fill="#42248e" fill-opacity="0.85"/>
<circle cx="613.61" cy="835.85" r="1.50" fill="#42248e" fill-opacity="0.85"/>
<circle cx="593.93" cy="830.18" r="1.70" fill="#4e2c9a" fill-opacity="0.85"/>
<circle cx="580.63" cy="802.42" r="1.70" fill="#281466" fill-opacity="0.85"/>
<circle cx="596.59" cy="803.30" r="0.90" fill="#3c2088" fill-opacity="0.85"/>
<circle cx="574.48" cy="829.07" r="0.90" fill="#3c2088" fill-opacity="0.85"/>
<circle cx="610.05" cy="850.46" r="2.30" fill="#281466" fill-opacity="0.85"/>
<circle cx="586.93" cy="844.87" r="2.30" fill="#42248e" fill-opacity="0.85"/>
<circle cx="586.14" cy="809.64" r="2.30" fill="#4e2c9a" fill-opacity="0.85"/>
<circle cx="588.50" cy="846.82" r="2.30" fill="#42248e" fill-opacity="0.85"/>
<circle cx="590.27" cy="820.09" r="1.70" fill="#361c7c" fill-opacity="0.85"/>
<circle cx="604.76" cy="821.85" r="1.10" fill="#361c7c" fill-opacity="0.85"/>
<circle cx="592.02" cy="840.30" r="2.00" fill="#4e2c9a" fill-opacity="0.85"/>
<circle cx="581.95" cy="819.37" r="1.50" fill="#281466" fill-opacity="0.85"/>
<circle cx="588.27" cy="849.77" r="2.30" fill="#42248e" fill-opacity="0.85"/>
<circle cx="578.12" cy="820.07" r="0.90" fill="#42248e" fill-opacity="0.85"/>
<circle cx="577.99" cy="812.89" r="1.50" fill="#361c7c" fill-opacity="0.85"/>
<circle cx="611.02" cy="841.22" r="1.50" fill="#3c2088" fill-opacity="0.85"/>
<circle cx="585.03" cy="803.07" r="1.30" fill="#42248e" fill-opacity="0.85"/>
<circle cx="619.14" cy="828.90" r="1.10" fill="#42248e" fill-opacity="0.85"/>
<circle cx="596.02" cy="843.64" r="2.00" fill="#281466" fill-opacity="0.85"/>
<circle cx="598.54" cy="818.68" r="1.10" fill="#361c7c" fill-opacity="0.85"/>
<circle cx="607.67" cy="796.18" r="1.30" fill="#281466" fill-opacity="0.85"/>
<circle cx="591.77" cy="823.33" r="1.10" fill="#281466" fill-opacity="0.85"/>
<circle cx="611.80" cy="830.21" r="0.90" fill="#281466" fill-opacity="0.85"/>
<circle cx="623.22" cy="816.34" r="1.10" fill="#4e2c9a" fill-opacity="0.85"/>
<circle cx="595.43" cy="819.08" r="0.90" fill="#4e2c9a" fill-opacity="0.85"/>
<circle cx="621.12" cy="832.43" r="1.50" fill="#42248e" fill-opacity="0.85"/>
<circle cx="611.09" cy="804.13" r="2.30" fill="#281466" fill-opacity="0.85"/>
<circle cx="574.44" cy="811.01" r="1.30" fill="#361c7c" fill-opacity="0.85"/>
<circle cx="621.69" cy="813.97" r="2.00" fill="#4e2c9a" fill-opacity="0.85"/>
<circle cx="594.91" cy="813.41" r="2.00" fill="#361c7c" fill-opacity="0.85"/>
<circle cx="579.29" cy="843.03" r="1.30" fill="#4e2c9a" fill-opacity="0.85"/>
<circle cx="606.35" cy="812.07" r="1.70" fill="#4e2c9a" fill-opacity="0.85"/>
<circle cx="605.69" cy="795.91" r="0.90" fill="#361c7c" fill-opacity="0.85"/>
<circle cx="624.08" cy="822.51" r="2.00" fill="#361c7c" fill-opacity="0.85"/>
<circle cx="601.34" cy="848.31" r="2.30" fill="#4e2c9a" fill-opacity="0.85"/>
<circle cx="602.73" cy="827.57" r="1.30" fill="#3c2088" fill-opacity="0.85"/>
<circle cx="576.28" cy="811.60" r="1.40" fill="#160a40" fill-opacity="0.9"/>
<circle cx="580.94" cy="832.06" r="1.40" fill="#160a40" fill-opacity="0.9"/>
<circle cx="621.62" cy="808.73" r="1.10" fill="#160a40" fill-opacity="0.9"/>
<circle cx="585.15" cy="825.13" r="1.10" fill="#160a40" fill-opacity="0.9"/>
<circle cx="601.89" cy="834.91" r="1.10" fill="#160a40" fill-opacity="0.9"/>
<circle cx="590.28" cy="827.51" r="1.10" fill="#160a40" fill-opacity="0.9"/>
<circle cx="593.97" cy="848.92" r="1.40" fill="#160a40" fill-opacity="0.9"/>
<circle cx="590.39" cy="816.37" r="1.10" fill="#160a40" fill-opacity="0.9"/>
<circle cx="611.75" cy="839.09" r="1.40" fill="#160a40" fill-opacity="0.9"/>
<circle cx="618.10" cy="836.21" r="1.40" fill="#160a40" fill-opacity="0.9"/>
<circle cx="618.84" cy="830.29" r="1.40" fill="#160a40" fill-opacity="0.9"/>
<circle cx="611.03" cy="839.80" r="1.40" fill="#160a40" fill-opacity="0.9"/>
<circle cx="606.60" cy="834.02" r="1.40" fill="#160a40" fill-opacity="0.9"/>
<circle cx="594.36" cy="799.02" r="1.10" fill="#160a40" fill-opacity="0.9"/>
<circle cx="583.44" cy="827.12" r="1.40" fill="#160a40" fill-opacity="0.9"/>
<circle cx="578.27" cy="835.43" r="1.10" fill="#160a40" fill-opacity="0.9"/>
<circle cx="588.46" cy="847.35" r="1.40" fill="#160a40" fill-opacity="0.9"/>
<circle cx="609.48" cy="841.73" r="1.40" fill="#160a40" fill-opacity="0.9"/>
<circle cx="596.96" cy="846.32" r="1.40" fill="#160a40" fill-opacity="0.9"/>
<circle cx="603.58" cy="807.70" r="1.10" fill="#160a40" fill-opacity="0.9"/>
<circle cx="580.29" cy="843.43" r="1.40" fill="#160a40" fill-opacity="0.9"/>
<circle cx="603.34" cy="811.66" r="1.40" fill="#160a40" fill-opacity="0.9"/>
<circle cx="616.10" cy="840.60" r="1.10" fill="#160a40" fill-opacity="0.9"/>
<circle cx="600.14" cy="838.96" r="1.40" fill="#160a40" fill-opacity="0.9"/>
<circle cx="595.57" cy="847.07" r="1.40" fill="#160a40" fill-opacity="0.9"/>
<circle cx="626.26" cy="816.28" r="1.10" fill="#160a40" fill-opacity="0.9"/>
<circle cx="592.53" cy="820.35" r="1.40" fill="#160a40" fill-opacity="0.9"/>
<circle cx="599.21" cy="815.16" r="1.40" fill="#160a40" fill-opacity="0.9"/>
<circle cx="591.86" cy="802.15" r="1.40" fill="#160a40" fill-opacity="0.9"/>
<circle cx="604.47" cy="835.81" r="1.40" fill="#160a40" fill-opacity="0.9"/>
</g>
<circle cx="600.20" cy="823.60" r="29.20" fill="none" stroke="#a09cb8" stroke-width="0.7"/>
<circle cx="600.20" cy="823.60" r="31.75" fill="none" stroke="#3a3a3a" stroke-width="0.9"/>
<clipPath id="cp10"><circle cx="457.70" cy="897.60" r="32.70"/></clipPath>
<circle cx="457.70" cy="897.60" r="33.20" fill="#e0dcec"/>
<g clip-path="url(#cp10)">
<rect x="424.50" y="864.40" width="66.40" height="66.40" filter="url(#mottle0)"/>
<ellipse cx="459.70" cy="901.60" rx="15.00" ry="11.00" fill="#9078c4" fill-opacity="0.5" filter="url(#blur5)"/>
<ellipse cx="462.70" cy="904.60" rx="7.00" ry="5.00" fill="#8066bc" fill-opacity="0.45" filter="url(#blur3)"/>
<ellipse cx="447.70" cy="891.60" rx="4.00" ry="3.00" fill="#9078c4" fill-opacity="0.5" filter="url(#blur2)"/>
<circle cx="472.07" cy="883.63" r="0.80" fill="#5a4a8a" fill-opacity="0.8"/>
<circle cx="462.80" cy="892.22" r="0.80" fill="#5a4a8a" fill-opacity="0.8"/>
<circle cx="482.60" cy="898.80" r="0.80" fill="#5a4a8a" fill-opacity="0.8"/>
<circle cx="461.16" cy="903.39" r="0.80" fill="#5a4a8a" fill-opacity="0.8"/>
</g>
<circle cx="457.70" cy="897.60" r="31.20" fill="none" stroke="#e4e2ea" stroke-width="1.6" stroke-opacity="0.9"/>
<circle cx="457.70" cy="897.60" r="30.20" fill="none" stroke="#8a8694" stroke-width="0.7"/>
<circle cx="457.70" cy="897.60" r="32.55" fill="none" stroke="#242424" stroke-width="1.3"/>
<clipPath id="cp11"><circle cx="528.70" cy="897.20" r="32.70"/></clipPath>
<circle cx="528.70" cy="897.20" r="33.20" fill="#e0dcec"/>
<g clip-path="url(#cp11)">
<rect x="495.50" y="864.00" width="66.40" height="66.40" filter="url(#mottle0)"/>
<ellipse cx="522.70" cy="907.20" rx="11.00" ry="8.00" fill="#9078c4" fill-opacity="0.45" filter="url(#blur5)"/>
<ellipse cx="526.70" cy="889.20" rx="14.00" ry="9.00" fill="#a896d0" fill-opacity="0.35" filter="url(#blur5)"/>
<ellipse cx="538.70" cy="887.20" rx="5.00" ry="4.00" fill="#a896d0" fill-opacity="0.4" filter="url(#blur3)"/>
<circle cx="543.80" cy="873.79" r="0.80" fill="#5a4a8a" fill-opacity="0.8"/>
<circle cx="532.63" cy="891.29" r="0.80" fill="#5a4a8a" fill-opacity="0.8"/>
<circle cx="523.49" cy="876.57" r="0.80" fill="#5a4a8a" fill-opacity="0.8"/>
<circle cx="545.24" cy="894.83" r="0.80" fill="#5a4a8a" fill-opacity="0.8"/>
</g>
<circle cx="528.70" cy="897.20" r="31.20" fill="none" stroke="#e4e2ea" stroke-width="1.6" stroke-opacity="0.9"/>
<circle cx="528.70" cy="897.20" r="30.20" fill="none" stroke="#8a8694" stroke-width="0.7"/>
<circle cx="528.70" cy="897.20" r="32.55" fill="none" stroke="#242424" stroke-width="1.3"/>
<clipPath id="cp12"><circle cx="600.20" cy="897.20" r="32.70"/></clipPath>
<circle cx="600.20" cy="897.20" r="33.20" fill="#e0dcec"/>
<g clip-path="url(#cp12)">
<rect x="567.00" y="864.00" width="66.40" height="66.40" filter="url(#mottle0)"/>
<ellipse cx="609.20" cy="901.20" rx="14.00" ry="12.00" fill="#6e58b8" fill-opacity="0.55" filter="url(#blur5)"/>
<ellipse cx="610.20" cy="901.20" rx="6.00" ry="5.00" fill="#4e36a0" fill-opacity="0.6" filter="url(#blur2)"/>
<ellipse cx="594.20" cy="893.20" rx="13.00" ry="10.00" fill="#9a8ad0" fill-opacity="0.4" filter="url(#blur5)"/>
<circle cx="625.90" cy="899.03" r="0.90" fill="#5a3eb0" fill-opacity="0.85"/>
<circle cx="609.97" cy="904.18" r="1.20" fill="#5a3eb0" fill-opacity="0.85"/>
<circle cx="624.74" cy="894.29" r="0.90" fill="#5a3eb0" fill-opacity="0.85"/>
<circle cx="609.50" cy="897.79" r="0.90" fill="#5a3eb0" fill-opacity="0.85"/>
<circle cx="598.08" cy="908.88" r="1.20" fill="#5a3eb0" fill-opacity="0.85"/>
<circle cx="603.99" cy="920.29" r="0.90" fill="#5a3eb0" fill-opacity="0.85"/>
<circle cx="589.40" cy="889.30" r="1.20" fill="#5a3eb0" fill-opacity="0.85"/>
<circle cx="612.97" cy="890.40" r="1.20" fill="#5a3eb0" fill-opacity="0.85"/>
<circle cx="610.67" cy="896.81" r="0.90" fill="#5a3eb0" fill-opacity="0.85"/>
<circle cx="599.82" cy="892.55" r="0.90" fill="#5a3eb0" fill-opacity="0.85"/>
<circle cx="607.24" cy="886.17" r="0.90" fill="#5a3eb0" fill-opacity="0.85"/>
<circle cx="625.01" cy="902.34" r="0.90" fill="#5a3eb0" fill-opacity="0.85"/>
<circle cx="612.00" cy="919.52" r="0.90" fill="#5a3eb0" fill-opacity="0.85"/>
<circle cx="579.43" cy="895.04" r="1.20" fill="#5a3eb0" fill-opacity="0.85"/>
<circle cx="579.86" cy="915.08" r="0.80" fill="#5a4a8a" fill-opacity="0.8"/>
<circle cx="616.13" cy="905.35" r="0.80" fill="#5a4a8a" fill-opacity="0.8"/>
<circle cx="595.79" cy="901.14" r="0.80" fill="#5a4a8a" fill-opacity="0.8"/>
<circle cx="607.01" cy="888.93" r="0.80" fill="#5a4a8a" fill-opacity="0.8"/>
</g>
<circle cx="600.20" cy="897.20" r="31.20" fill="none" stroke="#e4e2ea" stroke-width="1.6" stroke-opacity="0.9"/>
<circle cx="600.20" cy="897.20" r="30.20" fill="none" stroke="#8a8694" stroke-width="0.7"/>
<circle cx="600.20" cy="897.20" r="32.55" fill="none" stroke="#242424" stroke-width="1.3"/>
</svg></body></html>
